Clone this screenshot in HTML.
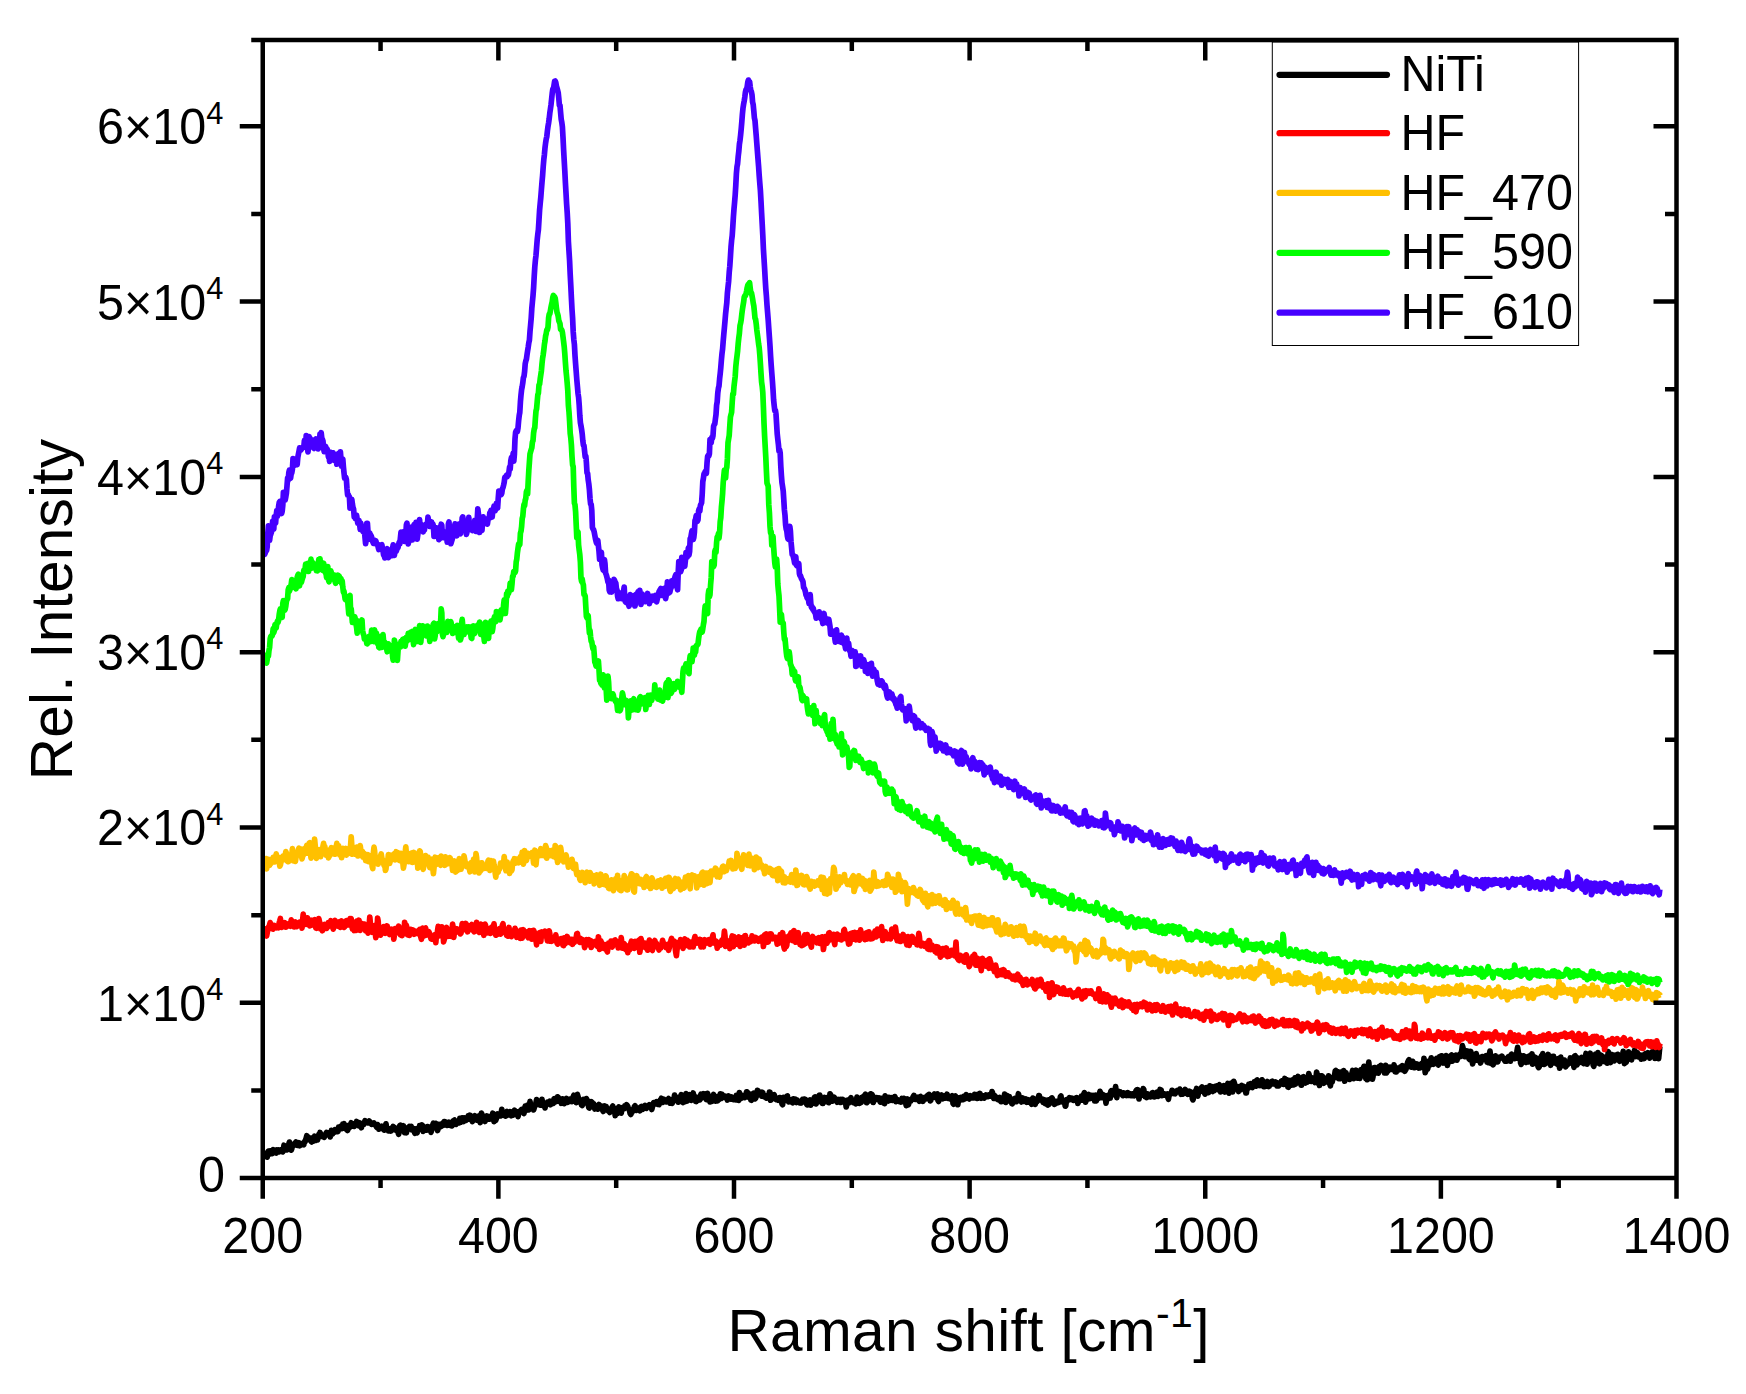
<!DOCTYPE html>
<html lang="en"><head><meta charset="utf-8"><title>Raman spectra</title>
<style>html,body{margin:0;padding:0;background:#fff}body{width:1746px;height:1394px;overflow:hidden}svg{display:block}text{font-family:"Liberation Sans",Arial,Helvetica,sans-serif;fill:#000}</style>
</head><body>
<svg width="1746" height="1394" viewBox="0 0 1746 1394">
<rect x="0" y="0" width="1746" height="1394" fill="#fff"/>
<g fill="none" stroke-width="5.7" stroke-linejoin="round" stroke-linecap="butt">
<polyline stroke="#000000" points="264.2,1155.9 264.8,1154.9 265.4,1155.1 266.0,1155.0 266.6,1155.2 267.2,1157.2 267.8,1151.9 268.4,1151.2 269.0,1154.5 269.6,1153.6 270.2,1150.9 270.8,1151.1 271.4,1153.3 272.0,1153.5 272.6,1151.4 273.2,1149.6 273.8,1150.8 274.4,1150.4 275.0,1151.0 275.6,1152.9 276.2,1153.0 276.8,1150.0 277.4,1151.4 278.0,1151.3 278.6,1149.9 279.2,1151.8 279.8,1151.5 280.4,1150.0 281.0,1149.9 281.6,1149.6 282.2,1149.9 282.8,1151.9 283.4,1149.5 284.0,1145.2 284.6,1147.6 285.2,1148.8 285.8,1148.4 286.4,1150.0 287.0,1149.9 287.6,1147.6 288.2,1147.8 288.8,1144.1 289.4,1142.1 290.0,1147.4 290.6,1149.1 291.2,1150.1 291.8,1148.6 292.4,1145.7 293.0,1144.5 293.6,1145.0 294.2,1144.6 294.8,1145.0 295.4,1142.8 296.0,1142.0 296.6,1143.1 297.2,1143.8 297.8,1145.4 298.4,1143.9 299.0,1142.7 299.6,1145.8 300.2,1145.1 300.8,1144.2 301.4,1143.7 302.0,1143.6 302.6,1144.6 303.2,1144.3 303.8,1144.7 304.4,1141.9 305.0,1142.0 305.6,1139.9 306.2,1138.1 306.8,1135.7 307.4,1138.3 308.0,1139.3 308.6,1137.3 309.2,1139.2 309.8,1139.5 310.4,1140.3 311.0,1141.2 311.6,1141.9 312.2,1138.4 312.8,1137.8 313.4,1141.2 314.0,1138.6 314.6,1136.2 315.2,1138.1 315.8,1140.4 316.4,1139.7 317.0,1139.4 317.6,1139.8 318.2,1136.5 318.8,1134.5 319.4,1135.5 320.0,1132.5 320.6,1134.1 321.2,1136.4 321.8,1136.1 322.4,1135.6 323.0,1136.6 323.6,1135.9 324.2,1137.3 324.8,1135.6 325.4,1134.9 326.0,1133.3 326.6,1132.4 327.2,1134.0 327.8,1133.0 328.4,1133.8 329.0,1135.3 329.6,1134.3 330.2,1136.9 330.8,1134.0 331.4,1130.4 332.0,1133.0 332.6,1133.9 333.2,1131.1 333.8,1132.7 334.4,1131.2 335.0,1129.6 335.6,1130.2 336.2,1130.0 336.8,1131.1 337.4,1131.7 338.0,1131.4 338.6,1127.1 339.2,1127.4 339.8,1127.3 340.4,1126.5 341.0,1126.1 341.6,1128.7 342.2,1128.7 342.8,1124.2 343.4,1124.9 344.0,1123.6 344.6,1125.4 345.2,1128.0 345.8,1128.4 346.4,1129.5 347.0,1127.5 347.6,1130.5 348.2,1128.6 348.8,1125.3 349.4,1127.7 350.0,1126.6 350.6,1124.3 351.2,1122.8 351.8,1126.3 352.4,1125.6 353.0,1123.8 353.6,1125.4 354.2,1126.3 354.8,1125.4 355.4,1124.6 356.0,1124.5 356.6,1121.5 357.2,1122.3 357.8,1122.2 358.4,1123.4 359.0,1125.8 359.6,1122.8 360.2,1125.8 360.8,1126.1 361.4,1127.7 362.0,1124.2 362.6,1123.5 363.2,1124.4 363.8,1124.5 364.4,1122.5 365.0,1120.8 365.6,1121.5 366.2,1122.1 366.8,1122.6 367.4,1123.0 368.0,1122.8 368.6,1121.8 369.2,1121.0 369.8,1122.8 370.4,1122.3 371.0,1122.9 371.6,1124.3 372.2,1123.3 372.8,1123.7 373.4,1123.7 374.0,1123.1 374.6,1124.6 375.2,1124.6 375.8,1125.6 376.4,1126.8 377.0,1127.4 377.6,1124.6 378.2,1126.4 378.8,1129.2 379.4,1128.8 380.0,1126.9 380.6,1126.9 381.2,1127.3 381.8,1126.3 382.4,1127.0 383.0,1127.9 383.6,1129.4 384.2,1130.1 384.8,1129.8 385.4,1126.2 386.0,1123.8 386.6,1128.0 387.2,1129.7 387.8,1128.5 388.4,1130.9 389.0,1130.8 389.6,1129.2 390.2,1128.8 390.8,1131.1 391.4,1129.2 392.0,1129.3 392.6,1128.8 393.2,1126.5 393.8,1128.9 394.4,1129.6 395.0,1127.7 395.6,1129.4 396.2,1130.2 396.8,1129.9 397.4,1129.1 398.0,1132.3 398.6,1134.3 399.2,1131.6 399.8,1125.8 400.4,1125.3 401.0,1129.6 401.6,1128.5 402.2,1130.0 402.8,1130.2 403.4,1125.7 404.0,1130.5 404.6,1132.7 405.2,1129.5 405.8,1130.4 406.4,1132.8 407.0,1128.5 407.6,1128.4 408.2,1127.5 408.8,1127.3 409.4,1126.5 410.0,1128.8 410.6,1126.9 411.2,1126.4 411.8,1129.9 412.4,1129.9 413.0,1128.4 413.6,1128.8 414.2,1131.4 414.8,1133.2 415.4,1130.7 416.0,1128.8 416.6,1133.0 417.2,1132.8 417.8,1129.6 418.4,1129.2 419.0,1129.6 419.6,1125.6 420.2,1127.6 420.8,1127.8 421.4,1126.9 422.0,1125.0 422.6,1125.8 423.2,1131.4 423.8,1129.7 424.4,1128.9 425.0,1129.6 425.6,1128.6 426.2,1129.8 426.8,1130.1 427.4,1126.6 428.0,1127.4 428.6,1129.2 429.2,1128.1 429.8,1128.1 430.4,1127.0 431.0,1132.3 431.6,1130.2 432.2,1125.8 432.8,1125.0 433.4,1123.3 434.0,1124.6 434.6,1127.7 435.2,1126.2 435.8,1123.3 436.4,1125.1 437.0,1128.1 437.6,1130.6 438.2,1128.2 438.8,1124.3 439.4,1124.7 440.0,1126.0 440.6,1126.7 441.2,1126.3 441.8,1123.8 442.4,1125.2 443.0,1125.3 443.6,1122.5 444.2,1121.5 444.8,1121.5 445.4,1124.1 446.0,1124.6 446.6,1123.8 447.2,1125.4 447.8,1125.1 448.4,1124.7 449.0,1122.2 449.6,1122.8 450.2,1125.4 450.8,1123.5 451.4,1124.4 452.0,1125.9 452.6,1123.0 453.2,1121.0 453.8,1120.5 454.4,1120.1 455.0,1121.0 455.6,1123.2 456.2,1124.2 456.8,1121.2 457.4,1122.5 458.0,1121.4 458.6,1121.3 459.2,1122.8 459.8,1118.3 460.4,1120.0 461.0,1122.2 461.6,1118.0 462.2,1117.9 462.8,1121.2 463.4,1121.5 464.0,1119.5 464.6,1117.9 465.2,1119.5 465.8,1120.6 466.4,1120.0 467.0,1118.1 467.6,1118.4 468.2,1116.0 468.8,1117.5 469.4,1119.1 470.0,1115.2 470.6,1115.5 471.2,1119.8 471.8,1119.7 472.4,1121.5 473.0,1119.8 473.6,1119.4 474.2,1116.4 474.8,1115.8 475.4,1116.2 476.0,1119.8 476.6,1120.0 477.2,1117.5 477.8,1117.4 478.4,1116.1 479.0,1116.3 479.6,1120.6 480.2,1122.6 480.8,1119.7 481.4,1113.0 482.0,1114.4 482.6,1118.0 483.2,1118.4 483.8,1119.0 484.4,1120.1 485.0,1121.5 485.6,1120.1 486.2,1116.8 486.8,1116.0 487.4,1119.0 488.0,1117.4 488.6,1116.8 489.2,1119.2 489.8,1119.0 490.4,1117.1 491.0,1116.3 491.6,1117.8 492.2,1116.1 492.8,1113.2 493.4,1117.3 494.0,1121.6 494.6,1119.0 495.2,1119.2 495.8,1120.2 496.4,1118.3 497.0,1117.2 497.6,1114.0 498.2,1114.4 498.8,1115.4 499.4,1114.4 500.0,1113.7 500.6,1115.9 501.2,1112.7 501.8,1109.3 502.4,1112.3 503.0,1115.2 503.6,1115.2 504.2,1115.5 504.8,1114.9 505.4,1116.1 506.0,1115.8 506.6,1115.1 507.2,1111.5 507.8,1113.4 508.4,1114.9 509.0,1113.5 509.6,1113.4 510.2,1111.6 510.8,1114.3 511.4,1115.7 512.0,1112.7 512.6,1113.2 513.2,1115.0 513.8,1111.2 514.4,1110.2 515.0,1111.0 515.6,1111.7 516.2,1113.4 516.8,1111.6 517.4,1113.0 518.0,1116.6 518.6,1114.2 519.2,1112.8 519.8,1112.2 520.4,1111.6 521.0,1110.1 521.6,1109.5 522.2,1111.9 522.8,1110.6 523.4,1111.4 524.0,1113.5 524.6,1108.4 525.2,1106.2 525.8,1110.5 526.4,1110.2 527.0,1107.6 527.6,1105.1 528.2,1106.4 528.8,1109.9 529.4,1108.0 530.0,1101.4 530.6,1105.8 531.2,1106.5 531.8,1105.2 532.4,1107.0 533.0,1108.4 533.6,1109.9 534.2,1107.9 534.8,1106.2 535.4,1105.6 536.0,1102.5 536.6,1099.6 537.2,1102.6 537.8,1103.8 538.4,1103.2 539.0,1101.1 539.6,1102.7 540.2,1105.1 540.8,1105.0 541.4,1103.7 542.0,1099.4 542.6,1105.5 543.2,1105.2 543.8,1103.8 544.4,1105.5 545.0,1107.9 545.6,1104.7 546.2,1104.6 546.8,1103.9 547.4,1102.3 548.0,1102.6 548.6,1102.2 549.2,1101.9 549.8,1101.2 550.4,1104.8 551.0,1102.2 551.6,1101.8 552.2,1101.6 552.8,1101.9 553.4,1103.3 554.0,1098.9 554.6,1098.6 555.2,1101.9 555.8,1100.4 556.4,1101.5 557.0,1100.1 557.6,1096.9 558.2,1097.2 558.8,1099.7 559.4,1101.3 560.0,1100.8 560.6,1101.0 561.2,1103.3 561.8,1101.9 562.4,1098.9 563.0,1100.5 563.6,1101.2 564.2,1103.7 564.8,1101.9 565.4,1102.6 566.0,1101.1 566.6,1098.5 567.2,1101.4 567.8,1102.2 568.4,1100.8 569.0,1101.4 569.6,1101.4 570.2,1101.0 570.8,1099.0 571.4,1099.8 572.0,1101.6 572.6,1100.3 573.2,1096.8 573.8,1095.3 574.4,1097.5 575.0,1099.6 575.6,1099.0 576.2,1102.6 576.8,1100.4 577.4,1094.4 578.0,1096.6 578.6,1098.7 579.2,1102.1 579.8,1102.3 580.4,1100.9 581.0,1100.5 581.6,1105.0 582.2,1105.6 582.8,1101.4 583.4,1099.5 584.0,1101.6 584.6,1102.9 585.2,1102.1 585.8,1101.2 586.4,1098.6 587.0,1099.6 587.6,1102.4 588.2,1104.9 588.8,1107.5 589.4,1108.0 590.0,1106.1 590.6,1102.9 591.2,1101.6 591.8,1102.1 592.4,1102.6 593.0,1104.8 593.6,1103.8 594.2,1105.9 594.8,1109.0 595.4,1105.4 596.0,1108.7 596.6,1108.1 597.2,1106.1 597.8,1109.1 598.4,1105.9 599.0,1104.5 599.6,1106.0 600.2,1106.5 600.8,1106.0 601.4,1106.1 602.0,1107.3 602.6,1110.1 603.2,1111.5 603.8,1107.2 604.4,1105.9 605.0,1109.0 605.6,1108.7 606.2,1106.6 606.8,1109.0 607.4,1108.6 608.0,1110.5 608.6,1111.3 609.2,1111.3 609.8,1112.5 610.4,1111.1 611.0,1109.4 611.6,1110.4 612.2,1106.8 612.8,1106.1 613.4,1110.3 614.0,1108.2 614.6,1109.7 615.2,1115.6 615.8,1112.4 616.4,1112.8 617.0,1113.7 617.6,1113.2 618.2,1108.3 618.8,1106.9 619.4,1108.5 620.0,1110.2 620.6,1112.9 621.2,1113.1 621.8,1110.0 622.4,1109.2 623.0,1107.4 623.6,1108.5 624.2,1108.6 624.8,1105.8 625.4,1106.8 626.0,1106.8 626.6,1104.7 627.2,1105.5 627.8,1106.5 628.4,1108.5 629.0,1108.9 629.6,1111.0 630.2,1113.5 630.8,1114.4 631.4,1113.0 632.0,1112.3 632.6,1110.7 633.2,1110.6 633.8,1109.1 634.4,1106.4 635.0,1105.8 635.6,1108.2 636.2,1110.4 636.8,1108.6 637.4,1108.1 638.0,1110.0 638.6,1109.9 639.2,1108.7 639.8,1110.8 640.4,1109.4 641.0,1106.7 641.6,1106.5 642.2,1108.9 642.8,1109.2 643.4,1108.3 644.0,1107.3 644.6,1107.3 645.2,1105.4 645.8,1106.3 646.4,1108.4 647.0,1106.9 647.6,1106.0 648.2,1106.7 648.8,1106.1 649.4,1104.8 650.0,1105.7 650.6,1106.4 651.2,1105.9 651.8,1109.5 652.4,1106.8 653.0,1103.9 653.6,1102.6 654.2,1103.3 654.8,1103.0 655.4,1103.6 656.0,1103.9 656.6,1101.7 657.2,1103.1 657.8,1104.4 658.4,1104.1 659.0,1104.6 659.6,1102.5 660.2,1100.0 660.8,1099.9 661.4,1098.3 662.0,1098.8 662.6,1102.4 663.2,1101.7 663.8,1099.3 664.4,1100.8 665.0,1100.9 665.6,1101.0 666.2,1101.8 666.8,1101.4 667.4,1100.7 668.0,1099.3 668.6,1098.6 669.2,1101.5 669.8,1103.0 670.4,1100.0 671.0,1099.9 671.6,1101.7 672.2,1103.3 672.8,1101.7 673.4,1101.0 674.0,1098.6 674.6,1095.1 675.2,1096.9 675.8,1098.1 676.4,1097.4 677.0,1097.8 677.6,1100.0 678.2,1102.2 678.8,1098.9 679.4,1097.1 680.0,1097.3 680.6,1096.2 681.2,1094.7 681.8,1095.2 682.4,1101.9 683.0,1102.5 683.6,1100.2 684.2,1098.8 684.8,1101.8 685.4,1099.5 686.0,1093.5 686.6,1098.9 687.2,1101.1 687.8,1100.1 688.4,1099.3 689.0,1095.9 689.6,1094.8 690.2,1096.6 690.8,1098.5 691.4,1100.2 692.0,1097.1 692.6,1096.1 693.2,1093.0 693.8,1095.7 694.4,1098.7 695.0,1098.7 695.6,1101.4 696.2,1101.5 696.8,1097.4 697.4,1099.2 698.0,1100.2 698.6,1100.2 699.2,1099.4 699.8,1099.8 700.4,1096.0 701.0,1094.1 701.6,1098.3 702.2,1097.0 702.8,1095.1 703.4,1093.8 704.0,1095.4 704.6,1096.2 705.2,1093.9 705.8,1095.2 706.4,1099.6 707.0,1097.6 707.6,1093.4 708.2,1095.6 708.8,1098.8 709.4,1097.6 710.0,1102.0 710.6,1101.2 711.2,1098.7 711.8,1099.8 712.4,1101.2 713.0,1096.6 713.6,1094.4 714.2,1096.1 714.8,1096.9 715.4,1101.2 716.0,1098.9 716.6,1096.8 717.2,1099.5 717.8,1100.7 718.4,1099.3 719.0,1099.6 719.6,1098.6 720.2,1093.8 720.8,1097.6 721.4,1098.3 722.0,1094.4 722.6,1095.1 723.2,1096.5 723.8,1096.9 724.4,1096.1 725.0,1097.6 725.6,1097.5 726.2,1096.4 726.8,1097.5 727.4,1100.0 728.0,1098.4 728.6,1096.0 729.2,1097.5 729.8,1096.9 730.4,1098.8 731.0,1099.1 731.6,1096.9 732.2,1097.4 732.8,1098.2 733.4,1099.6 734.0,1098.4 734.6,1097.5 735.2,1099.2 735.8,1099.8 736.4,1095.4 737.0,1096.6 737.6,1096.1 738.2,1097.5 738.8,1100.4 739.4,1092.6 740.0,1094.6 740.6,1098.8 741.2,1095.7 741.8,1098.0 742.4,1096.7 743.0,1095.8 743.6,1096.4 744.2,1095.8 744.8,1097.6 745.4,1096.4 746.0,1094.1 746.6,1091.8 747.2,1092.0 747.8,1094.4 748.4,1096.3 749.0,1097.3 749.6,1094.9 750.2,1094.2 750.8,1099.9 751.4,1100.2 752.0,1095.8 752.6,1093.8 753.2,1094.8 753.8,1093.2 754.4,1096.7 755.0,1098.9 755.6,1098.2 756.2,1096.7 756.8,1093.1 757.4,1090.4 758.0,1090.6 758.6,1093.7 759.2,1093.8 759.8,1094.7 760.4,1094.7 761.0,1094.5 761.6,1096.1 762.2,1092.2 762.8,1092.8 763.4,1095.3 764.0,1096.7 764.6,1097.0 765.2,1096.3 765.8,1097.2 766.4,1098.1 767.0,1096.6 767.6,1095.4 768.2,1096.9 768.8,1096.4 769.4,1092.1 770.0,1092.3 770.6,1100.2 771.2,1099.4 771.8,1096.4 772.4,1096.3 773.0,1094.9 773.6,1095.3 774.2,1094.8 774.8,1096.6 775.4,1099.1 776.0,1099.5 776.6,1099.7 777.2,1099.4 777.8,1098.8 778.4,1100.2 779.0,1099.6 779.6,1097.6 780.2,1098.3 780.8,1099.1 781.4,1099.9 782.0,1103.8 782.6,1104.7 783.2,1097.3 783.8,1098.0 784.4,1100.6 785.0,1099.7 785.6,1098.0 786.2,1097.9 786.8,1096.3 787.4,1095.9 788.0,1100.4 788.6,1101.8 789.2,1099.2 789.8,1100.2 790.4,1101.5 791.0,1101.2 791.6,1101.7 792.2,1102.5 792.8,1102.7 793.4,1098.9 794.0,1099.8 794.6,1100.5 795.2,1099.2 795.8,1101.5 796.4,1102.4 797.0,1100.1 797.6,1101.4 798.2,1101.5 798.8,1101.9 799.4,1102.9 800.0,1102.8 800.6,1101.9 801.2,1103.0 801.8,1100.4 802.4,1099.6 803.0,1100.4 803.6,1099.2 804.2,1099.1 804.8,1100.3 805.4,1099.4 806.0,1101.7 806.6,1104.1 807.2,1104.8 807.8,1104.1 808.4,1103.5 809.0,1104.3 809.6,1101.9 810.2,1099.9 810.8,1105.1 811.4,1101.7 812.0,1100.9 812.6,1101.2 813.2,1101.9 813.8,1103.1 814.4,1097.5 815.0,1097.0 815.6,1102.4 816.2,1103.9 816.8,1099.8 817.4,1097.9 818.0,1099.8 818.6,1096.9 819.2,1095.3 819.8,1095.1 820.4,1097.5 821.0,1098.9 821.6,1102.4 822.2,1103.5 822.8,1103.5 823.4,1101.0 824.0,1098.5 824.6,1097.6 825.2,1100.6 825.8,1101.4 826.4,1099.9 827.0,1098.6 827.6,1097.5 828.2,1100.5 828.8,1102.7 829.4,1101.6 830.0,1093.8 830.6,1094.7 831.2,1098.2 831.8,1098.7 832.4,1101.2 833.0,1099.7 833.6,1098.0 834.2,1097.2 834.8,1098.4 835.4,1099.0 836.0,1099.5 836.6,1101.1 837.2,1102.3 837.8,1100.4 838.4,1099.4 839.0,1100.9 839.6,1101.4 840.2,1102.3 840.8,1099.5 841.4,1102.3 842.0,1101.1 842.6,1099.5 843.2,1101.0 843.8,1101.7 844.4,1100.7 845.0,1100.6 845.6,1102.5 846.2,1107.0 846.8,1104.7 847.4,1100.0 848.0,1101.3 848.6,1103.1 849.2,1101.6 849.8,1100.8 850.4,1098.8 851.0,1097.7 851.6,1100.7 852.2,1100.0 852.8,1100.1 853.4,1102.6 854.0,1102.2 854.6,1102.4 855.2,1103.5 855.8,1103.7 856.4,1100.5 857.0,1097.1 857.6,1099.9 858.2,1098.2 858.8,1098.7 859.4,1103.4 860.0,1102.4 860.6,1102.7 861.2,1102.3 861.8,1097.4 862.4,1098.2 863.0,1098.9 863.6,1096.4 864.2,1097.3 864.8,1095.2 865.4,1094.2 866.0,1096.7 866.6,1102.7 867.2,1102.2 867.8,1097.4 868.4,1095.4 869.0,1098.2 869.6,1100.8 870.2,1096.2 870.8,1093.8 871.4,1096.1 872.0,1094.5 872.6,1096.2 873.2,1102.5 873.8,1101.2 874.4,1099.6 875.0,1098.3 875.6,1097.7 876.2,1098.4 876.8,1097.8 877.4,1098.8 878.0,1099.5 878.6,1099.4 879.2,1097.9 879.8,1101.2 880.4,1102.1 881.0,1100.7 881.6,1101.8 882.2,1099.9 882.8,1098.2 883.4,1099.6 884.0,1103.4 884.6,1103.6 885.2,1095.9 885.8,1096.9 886.4,1098.5 887.0,1099.6 887.6,1100.6 888.2,1101.0 888.8,1097.4 889.4,1098.5 890.0,1100.4 890.6,1098.8 891.2,1097.6 891.8,1098.0 892.4,1100.4 893.0,1099.9 893.6,1099.4 894.2,1099.6 894.8,1096.6 895.4,1098.1 896.0,1101.7 896.6,1099.8 897.2,1100.6 897.8,1099.8 898.4,1100.2 899.0,1100.7 899.6,1101.6 900.2,1101.3 900.8,1101.9 901.4,1100.7 902.0,1098.4 902.6,1101.5 903.2,1100.9 903.8,1098.3 904.4,1101.5 905.0,1101.8 905.6,1102.0 906.2,1105.6 906.8,1101.5 907.4,1099.0 908.0,1105.0 908.6,1104.4 909.2,1100.5 909.8,1100.1 910.4,1100.6 911.0,1100.8 911.6,1099.1 912.2,1099.4 912.8,1097.5 913.4,1096.3 914.0,1095.4 914.6,1097.3 915.2,1099.4 915.8,1097.3 916.4,1097.5 917.0,1099.4 917.6,1098.3 918.2,1097.2 918.8,1100.1 919.4,1101.3 920.0,1097.1 920.6,1096.6 921.2,1097.5 921.8,1099.9 922.4,1098.9 923.0,1101.3 923.6,1100.1 924.2,1099.5 924.8,1097.4 925.4,1098.0 926.0,1097.3 926.6,1098.7 927.2,1098.1 927.8,1095.1 928.4,1094.9 929.0,1094.4 929.6,1094.7 930.2,1100.8 930.8,1100.3 931.4,1096.7 932.0,1096.5 932.6,1096.4 933.2,1097.1 933.8,1095.2 934.4,1094.0 935.0,1097.0 935.6,1097.7 936.2,1096.9 936.8,1095.1 937.4,1093.9 938.0,1100.5 938.6,1101.4 939.2,1098.3 939.8,1097.9 940.4,1098.6 941.0,1096.0 941.6,1094.9 942.2,1097.9 942.8,1098.7 943.4,1098.1 944.0,1097.7 944.6,1096.1 945.2,1098.0 945.8,1096.9 946.4,1096.4 947.0,1094.2 947.6,1098.3 948.2,1097.7 948.8,1096.2 949.4,1097.1 950.0,1098.9 950.6,1098.2 951.2,1097.9 951.8,1097.2 952.4,1095.8 953.0,1103.3 953.6,1104.2 954.2,1099.8 954.8,1096.5 955.4,1095.9 956.0,1097.5 956.6,1097.7 957.2,1102.4 957.8,1104.7 958.4,1100.9 959.0,1097.8 959.6,1098.7 960.2,1098.9 960.8,1097.4 961.4,1098.6 962.0,1099.7 962.6,1098.9 963.2,1099.4 963.8,1096.4 964.4,1098.2 965.0,1098.8 965.6,1096.1 966.2,1094.6 966.8,1096.4 967.4,1097.0 968.0,1098.1 968.6,1098.5 969.2,1098.9 969.8,1097.4 970.4,1095.7 971.0,1098.0 971.6,1097.0 972.2,1096.3 972.8,1098.0 973.4,1098.0 974.0,1097.9 974.6,1094.4 975.2,1096.5 975.8,1096.3 976.4,1096.2 977.0,1098.4 977.6,1094.3 978.2,1094.2 978.8,1098.0 979.4,1096.1 980.0,1093.5 980.6,1097.3 981.2,1098.2 981.8,1096.3 982.4,1097.6 983.0,1095.8 983.6,1096.7 984.2,1098.1 984.8,1096.1 985.4,1095.9 986.0,1095.0 986.6,1095.5 987.2,1096.4 987.8,1095.6 988.4,1096.5 989.0,1095.1 989.6,1094.7 990.2,1094.9 990.8,1096.0 991.4,1095.6 992.0,1091.5 992.6,1093.1 993.2,1096.9 993.8,1098.4 994.4,1096.5 995.0,1095.8 995.6,1098.3 996.2,1097.2 996.8,1097.9 997.4,1099.3 998.0,1099.6 998.6,1098.2 999.2,1098.3 999.8,1097.6 1000.4,1100.8 1001.0,1101.7 1001.6,1101.7 1002.2,1099.2 1002.8,1098.6 1003.4,1100.3 1004.0,1098.6 1004.6,1094.1 1005.2,1099.3 1005.8,1102.4 1006.4,1097.3 1007.0,1095.4 1007.6,1098.3 1008.2,1098.6 1008.8,1096.6 1009.4,1096.6 1010.0,1099.2 1010.6,1101.5 1011.2,1101.2 1011.8,1103.5 1012.4,1103.7 1013.0,1099.4 1013.6,1100.0 1014.2,1099.4 1014.8,1098.4 1015.4,1099.7 1016.0,1100.6 1016.6,1101.6 1017.2,1101.0 1017.8,1098.0 1018.4,1093.7 1019.0,1096.0 1019.6,1099.0 1020.2,1100.2 1020.8,1100.9 1021.4,1101.9 1022.0,1100.4 1022.6,1098.0 1023.2,1099.6 1023.8,1101.3 1024.4,1100.6 1025.0,1099.6 1025.6,1099.1 1026.2,1100.7 1026.8,1102.2 1027.4,1101.6 1028.0,1099.7 1028.6,1102.2 1029.2,1101.2 1029.8,1100.2 1030.4,1101.6 1031.0,1103.1 1031.6,1104.2 1032.2,1099.1 1032.8,1098.1 1033.4,1098.2 1034.0,1100.9 1034.6,1102.6 1035.2,1104.3 1035.8,1101.8 1036.4,1099.6 1037.0,1101.8 1037.6,1100.3 1038.2,1098.5 1038.8,1095.6 1039.4,1095.9 1040.0,1099.3 1040.6,1099.9 1041.2,1100.0 1041.8,1099.2 1042.4,1099.2 1043.0,1102.3 1043.6,1101.5 1044.2,1099.8 1044.8,1100.2 1045.4,1103.7 1046.0,1102.4 1046.6,1100.4 1047.2,1104.5 1047.8,1105.0 1048.4,1099.8 1049.0,1104.3 1049.6,1102.5 1050.2,1101.8 1050.8,1101.6 1051.4,1098.2 1052.0,1097.9 1052.6,1099.4 1053.2,1103.0 1053.8,1102.7 1054.4,1104.4 1055.0,1101.3 1055.6,1103.6 1056.2,1103.3 1056.8,1101.3 1057.4,1101.9 1058.0,1101.8 1058.6,1102.5 1059.2,1102.2 1059.8,1101.1 1060.4,1096.7 1061.0,1096.1 1061.6,1101.6 1062.2,1101.8 1062.8,1100.3 1063.4,1101.7 1064.0,1101.8 1064.6,1101.7 1065.2,1106.2 1065.8,1105.7 1066.4,1099.6 1067.0,1101.3 1067.6,1100.2 1068.2,1099.2 1068.8,1099.2 1069.4,1097.7 1070.0,1097.9 1070.6,1098.9 1071.2,1099.6 1071.8,1098.2 1072.4,1099.0 1073.0,1099.4 1073.6,1100.3 1074.2,1100.1 1074.8,1098.4 1075.4,1098.5 1076.0,1099.1 1076.6,1097.7 1077.2,1098.4 1077.8,1103.4 1078.4,1101.9 1079.0,1101.0 1079.6,1100.8 1080.2,1098.5 1080.8,1099.0 1081.4,1096.2 1082.0,1098.3 1082.6,1100.0 1083.2,1097.4 1083.8,1094.1 1084.4,1092.7 1085.0,1098.3 1085.6,1102.2 1086.2,1099.6 1086.8,1097.9 1087.4,1098.9 1088.0,1095.2 1088.6,1094.5 1089.2,1098.8 1089.8,1098.3 1090.4,1095.3 1091.0,1096.3 1091.6,1095.8 1092.2,1097.2 1092.8,1098.2 1093.4,1095.5 1094.0,1097.5 1094.6,1100.9 1095.2,1096.6 1095.8,1095.1 1096.4,1100.8 1097.0,1098.6 1097.6,1096.5 1098.2,1098.6 1098.8,1095.2 1099.4,1093.9 1100.0,1091.3 1100.6,1093.3 1101.2,1097.6 1101.8,1095.9 1102.4,1095.2 1103.0,1094.8 1103.6,1097.9 1104.2,1098.4 1104.8,1095.6 1105.4,1098.2 1106.0,1103.2 1106.6,1098.9 1107.2,1098.7 1107.8,1096.1 1108.4,1095.3 1109.0,1098.4 1109.6,1098.0 1110.2,1098.0 1110.8,1091.5 1111.4,1090.7 1112.0,1094.5 1112.6,1094.7 1113.2,1090.9 1113.8,1091.7 1114.4,1094.0 1115.0,1090.2 1115.6,1086.6 1116.2,1093.4 1116.8,1097.6 1117.4,1092.2 1118.0,1091.1 1118.6,1091.6 1119.2,1093.0 1119.8,1092.5 1120.4,1092.0 1121.0,1093.2 1121.6,1093.2 1122.2,1094.8 1122.8,1095.6 1123.4,1092.8 1124.0,1094.8 1124.6,1094.9 1125.2,1093.3 1125.8,1093.3 1126.4,1095.5 1127.0,1093.9 1127.6,1092.6 1128.2,1094.5 1128.8,1095.3 1129.4,1094.8 1130.0,1093.8 1130.6,1095.7 1131.2,1095.7 1131.8,1094.0 1132.4,1093.9 1133.0,1093.9 1133.6,1095.1 1134.2,1095.7 1134.8,1093.9 1135.4,1093.9 1136.0,1090.7 1136.6,1090.1 1137.2,1092.1 1137.8,1089.7 1138.4,1094.9 1139.0,1099.0 1139.6,1094.7 1140.2,1093.2 1140.8,1094.5 1141.4,1095.2 1142.0,1095.0 1142.6,1092.3 1143.2,1088.6 1143.8,1089.5 1144.4,1094.8 1145.0,1096.6 1145.6,1094.4 1146.2,1095.1 1146.8,1097.5 1147.4,1093.9 1148.0,1095.2 1148.6,1095.8 1149.2,1095.2 1149.8,1094.6 1150.4,1096.9 1151.0,1095.5 1151.6,1095.4 1152.2,1092.7 1152.8,1092.6 1153.4,1094.6 1154.0,1097.0 1154.6,1097.0 1155.2,1095.0 1155.8,1094.2 1156.4,1093.7 1157.0,1092.3 1157.6,1094.4 1158.2,1096.3 1158.8,1094.7 1159.4,1092.4 1160.0,1089.5 1160.6,1089.8 1161.2,1090.3 1161.8,1095.6 1162.4,1093.5 1163.0,1093.3 1163.6,1094.5 1164.2,1095.0 1164.8,1094.1 1165.4,1095.2 1166.0,1095.2 1166.6,1094.5 1167.2,1094.1 1167.8,1097.4 1168.4,1099.2 1169.0,1095.9 1169.6,1094.9 1170.2,1094.0 1170.8,1092.9 1171.4,1093.1 1172.0,1090.3 1172.6,1090.8 1173.2,1093.3 1173.8,1092.7 1174.4,1093.7 1175.0,1093.8 1175.6,1093.1 1176.2,1091.8 1176.8,1090.7 1177.4,1090.4 1178.0,1091.2 1178.6,1091.0 1179.2,1091.1 1179.8,1089.1 1180.4,1091.0 1181.0,1094.3 1181.6,1091.4 1182.2,1092.7 1182.8,1094.1 1183.4,1091.9 1184.0,1093.1 1184.6,1091.4 1185.2,1089.4 1185.8,1091.3 1186.4,1093.4 1187.0,1092.1 1187.6,1094.3 1188.2,1093.2 1188.8,1093.8 1189.4,1091.2 1190.0,1091.6 1190.6,1093.1 1191.2,1092.1 1191.8,1093.5 1192.4,1098.7 1193.0,1099.9 1193.6,1097.4 1194.2,1096.0 1194.8,1093.2 1195.4,1091.1 1196.0,1091.6 1196.6,1088.5 1197.2,1092.1 1197.8,1096.2 1198.4,1093.0 1199.0,1090.8 1199.6,1091.3 1200.2,1091.3 1200.8,1091.4 1201.4,1087.7 1202.0,1087.0 1202.6,1088.8 1203.2,1088.0 1203.8,1090.4 1204.4,1092.8 1205.0,1094.1 1205.6,1092.3 1206.2,1087.5 1206.8,1091.6 1207.4,1092.5 1208.0,1090.5 1208.6,1092.6 1209.2,1089.1 1209.8,1085.8 1210.4,1089.8 1211.0,1089.8 1211.6,1086.6 1212.2,1090.6 1212.8,1091.5 1213.4,1088.3 1214.0,1090.8 1214.6,1089.1 1215.2,1086.4 1215.8,1086.5 1216.4,1086.1 1217.0,1087.3 1217.6,1089.5 1218.2,1088.8 1218.8,1085.5 1219.4,1084.8 1220.0,1087.5 1220.6,1092.0 1221.2,1091.1 1221.8,1087.1 1222.4,1087.8 1223.0,1086.3 1223.6,1085.8 1224.2,1088.4 1224.8,1092.0 1225.4,1091.7 1226.0,1091.7 1226.6,1091.7 1227.2,1085.6 1227.8,1083.5 1228.4,1090.5 1229.0,1093.2 1229.6,1090.7 1230.2,1087.1 1230.8,1087.2 1231.4,1083.2 1232.0,1085.3 1232.6,1092.0 1233.2,1089.6 1233.8,1081.3 1234.4,1083.1 1235.0,1086.9 1235.6,1087.3 1236.2,1088.8 1236.8,1087.3 1237.4,1086.5 1238.0,1088.0 1238.6,1091.5 1239.2,1090.4 1239.8,1090.0 1240.4,1090.0 1241.0,1086.1 1241.6,1085.5 1242.2,1086.9 1242.8,1088.9 1243.4,1088.2 1244.0,1086.5 1244.6,1088.8 1245.2,1088.4 1245.8,1093.0 1246.4,1092.9 1247.0,1087.2 1247.6,1087.4 1248.2,1088.4 1248.8,1084.3 1249.4,1084.1 1250.0,1084.9 1250.6,1083.6 1251.2,1084.7 1251.8,1086.9 1252.4,1087.5 1253.0,1086.1 1253.6,1084.0 1254.2,1082.0 1254.8,1082.9 1255.4,1084.3 1256.0,1086.2 1256.6,1080.5 1257.2,1080.0 1257.8,1081.5 1258.4,1081.2 1259.0,1085.3 1259.6,1083.3 1260.2,1085.6 1260.8,1084.2 1261.4,1082.5 1262.0,1079.9 1262.6,1080.6 1263.2,1085.9 1263.8,1086.7 1264.4,1086.6 1265.0,1086.6 1265.6,1084.2 1266.2,1083.6 1266.8,1082.9 1267.4,1081.5 1268.0,1083.7 1268.6,1086.5 1269.2,1086.3 1269.8,1083.0 1270.4,1083.3 1271.0,1084.0 1271.6,1081.5 1272.2,1081.2 1272.8,1084.0 1273.4,1084.0 1274.0,1082.1 1274.6,1082.2 1275.2,1083.4 1275.8,1082.0 1276.4,1084.7 1277.0,1085.9 1277.6,1085.0 1278.2,1085.3 1278.8,1085.8 1279.4,1082.8 1280.0,1084.1 1280.6,1083.6 1281.2,1081.5 1281.8,1083.4 1282.4,1080.5 1283.0,1080.5 1283.6,1084.5 1284.2,1082.3 1284.8,1078.5 1285.4,1083.6 1286.0,1084.3 1286.6,1080.7 1287.2,1080.1 1287.8,1086.9 1288.4,1087.2 1289.0,1085.9 1289.6,1081.6 1290.2,1080.5 1290.8,1084.3 1291.4,1083.9 1292.0,1084.9 1292.6,1081.8 1293.2,1079.7 1293.8,1085.0 1294.4,1081.7 1295.0,1077.8 1295.6,1084.2 1296.2,1082.4 1296.8,1080.8 1297.4,1078.3 1298.0,1076.5 1298.6,1079.5 1299.2,1079.4 1299.8,1078.2 1300.4,1080.9 1301.0,1085.2 1301.6,1085.1 1302.2,1079.9 1302.8,1077.0 1303.4,1076.7 1304.0,1080.7 1304.6,1082.9 1305.2,1083.0 1305.8,1079.5 1306.4,1079.0 1307.0,1082.3 1307.6,1079.6 1308.2,1076.9 1308.8,1073.6 1309.4,1076.0 1310.0,1080.4 1310.6,1079.3 1311.2,1081.4 1311.8,1079.1 1312.4,1078.0 1313.0,1080.7 1313.6,1079.7 1314.2,1081.4 1314.8,1082.4 1315.4,1078.9 1316.0,1077.8 1316.6,1072.0 1317.2,1074.3 1317.8,1083.1 1318.4,1081.2 1319.0,1077.7 1319.6,1085.5 1320.2,1080.9 1320.8,1075.8 1321.4,1075.9 1322.0,1075.9 1322.6,1076.5 1323.2,1082.3 1323.8,1083.2 1324.4,1079.5 1325.0,1079.8 1325.6,1079.2 1326.2,1078.3 1326.8,1079.5 1327.4,1081.8 1328.0,1079.9 1328.6,1075.8 1329.2,1079.4 1329.8,1083.9 1330.4,1085.8 1331.0,1081.8 1331.6,1078.7 1332.2,1081.9 1332.8,1078.8 1333.4,1076.9 1334.0,1076.3 1334.6,1075.1 1335.2,1071.1 1335.8,1070.5 1336.4,1077.4 1337.0,1076.4 1337.6,1071.5 1338.2,1073.5 1338.8,1078.6 1339.4,1078.2 1340.0,1077.0 1340.6,1078.6 1341.2,1074.4 1341.8,1071.8 1342.4,1076.4 1343.0,1077.4 1343.6,1070.6 1344.2,1072.1 1344.8,1081.2 1345.4,1075.9 1346.0,1072.8 1346.6,1079.0 1347.2,1076.2 1347.8,1075.2 1348.4,1076.5 1349.0,1078.2 1349.6,1079.4 1350.2,1079.0 1350.8,1076.9 1351.4,1075.8 1352.0,1073.2 1352.6,1070.5 1353.2,1076.8 1353.8,1078.5 1354.4,1077.6 1355.0,1075.2 1355.6,1073.9 1356.2,1070.2 1356.8,1075.5 1357.4,1078.0 1358.0,1072.8 1358.6,1071.3 1359.2,1075.8 1359.8,1078.4 1360.4,1074.9 1361.0,1069.6 1361.6,1071.2 1362.2,1073.0 1362.8,1075.3 1363.4,1068.5 1364.0,1066.3 1364.6,1072.2 1365.2,1074.3 1365.8,1078.7 1366.4,1078.5 1367.0,1079.7 1367.6,1079.5 1368.2,1066.5 1368.8,1062.1 1369.4,1069.8 1370.0,1072.8 1370.6,1071.7 1371.2,1074.2 1371.8,1074.1 1372.4,1079.2 1373.0,1076.8 1373.6,1071.0 1374.2,1067.7 1374.8,1067.7 1375.4,1067.7 1376.0,1072.8 1376.6,1070.8 1377.2,1069.4 1377.8,1071.8 1378.4,1073.1 1379.0,1066.7 1379.6,1070.5 1380.2,1070.0 1380.8,1065.4 1381.4,1069.6 1382.0,1068.8 1382.6,1066.6 1383.2,1068.1 1383.8,1070.2 1384.4,1072.9 1385.0,1069.0 1385.6,1065.4 1386.2,1073.0 1386.8,1072.5 1387.4,1071.0 1388.0,1070.8 1388.6,1067.2 1389.2,1070.0 1389.8,1069.1 1390.4,1067.3 1391.0,1068.0 1391.6,1068.6 1392.2,1068.5 1392.8,1069.6 1393.4,1068.9 1394.0,1064.8 1394.6,1068.2 1395.2,1071.7 1395.8,1071.9 1396.4,1072.0 1397.0,1070.1 1397.6,1068.1 1398.2,1068.6 1398.8,1070.0 1399.4,1069.3 1400.0,1069.4 1400.6,1066.9 1401.2,1066.9 1401.8,1067.6 1402.4,1065.7 1403.0,1070.1 1403.6,1068.4 1404.2,1068.3 1404.8,1071.3 1405.4,1070.1 1406.0,1069.2 1406.6,1065.4 1407.2,1064.2 1407.8,1061.9 1408.4,1060.7 1409.0,1059.7 1409.6,1062.8 1410.2,1065.2 1410.8,1067.0 1411.4,1067.1 1412.0,1063.8 1412.6,1061.3 1413.2,1062.5 1413.8,1065.4 1414.4,1067.7 1415.0,1067.2 1415.6,1064.9 1416.2,1065.6 1416.8,1063.9 1417.4,1064.6 1418.0,1067.3 1418.6,1067.9 1419.2,1065.1 1419.8,1065.6 1420.4,1067.8 1421.0,1065.2 1421.6,1063.5 1422.2,1063.1 1422.8,1063.4 1423.4,1066.3 1424.0,1058.3 1424.6,1065.4 1425.2,1072.7 1425.8,1070.8 1426.4,1068.5 1427.0,1063.6 1427.6,1069.2 1428.2,1066.7 1428.8,1061.2 1429.4,1060.8 1430.0,1064.2 1430.6,1064.6 1431.2,1057.8 1431.8,1060.2 1432.4,1060.1 1433.0,1062.7 1433.6,1064.2 1434.2,1059.9 1434.8,1062.7 1435.4,1061.0 1436.0,1060.2 1436.6,1058.5 1437.2,1060.8 1437.8,1063.0 1438.4,1065.0 1439.0,1063.5 1439.6,1056.5 1440.2,1057.2 1440.8,1059.0 1441.4,1055.8 1442.0,1056.0 1442.6,1059.8 1443.2,1063.0 1443.8,1060.5 1444.4,1058.1 1445.0,1058.9 1445.6,1063.3 1446.2,1055.6 1446.8,1060.3 1447.4,1065.5 1448.0,1060.3 1448.6,1061.5 1449.2,1058.5 1449.8,1060.4 1450.4,1061.4 1451.0,1055.6 1451.6,1055.0 1452.2,1061.2 1452.8,1058.8 1453.4,1056.7 1454.0,1059.3 1454.6,1059.9 1455.2,1059.8 1455.8,1055.0 1456.4,1057.0 1457.0,1060.2 1457.6,1057.4 1458.2,1056.4 1458.8,1055.6 1459.4,1054.5 1460.0,1054.1 1460.6,1056.6 1461.2,1053.2 1461.8,1050.4 1462.4,1045.7 1463.0,1047.7 1463.6,1054.6 1464.2,1054.8 1464.8,1056.7 1465.4,1054.1 1466.0,1050.7 1466.6,1051.9 1467.2,1052.9 1467.8,1051.1 1468.4,1051.7 1469.0,1058.8 1469.6,1059.5 1470.2,1054.1 1470.8,1051.5 1471.4,1054.4 1472.0,1059.3 1472.6,1063.9 1473.2,1061.3 1473.8,1059.9 1474.4,1059.6 1475.0,1060.5 1475.6,1058.2 1476.2,1053.5 1476.8,1058.9 1477.4,1060.1 1478.0,1056.7 1478.6,1059.3 1479.2,1058.7 1479.8,1059.8 1480.4,1063.0 1481.0,1061.7 1481.6,1058.6 1482.2,1056.6 1482.8,1058.0 1483.4,1059.4 1484.0,1059.4 1484.6,1058.7 1485.2,1056.3 1485.8,1055.9 1486.4,1055.6 1487.0,1062.1 1487.6,1060.9 1488.2,1062.5 1488.8,1060.2 1489.4,1055.1 1490.0,1051.0 1490.6,1057.8 1491.2,1063.5 1491.8,1060.4 1492.4,1064.2 1493.0,1064.8 1493.6,1062.0 1494.2,1063.3 1494.8,1061.3 1495.4,1055.9 1496.0,1058.0 1496.6,1060.9 1497.2,1060.1 1497.8,1061.9 1498.4,1059.6 1499.0,1057.3 1499.6,1057.1 1500.2,1058.1 1500.8,1058.0 1501.4,1058.0 1502.0,1056.1 1502.6,1058.2 1503.2,1058.4 1503.8,1059.0 1504.4,1060.1 1505.0,1061.1 1505.6,1058.8 1506.2,1059.3 1506.8,1061.1 1507.4,1060.4 1508.0,1057.2 1508.6,1058.7 1509.2,1056.5 1509.8,1058.2 1510.4,1061.2 1511.0,1058.8 1511.6,1054.1 1512.2,1056.9 1512.8,1058.4 1513.4,1057.3 1514.0,1055.8 1514.6,1058.6 1515.2,1056.9 1515.8,1057.3 1516.4,1058.0 1517.0,1051.0 1517.6,1047.4 1518.2,1051.4 1518.8,1057.8 1519.4,1058.5 1520.0,1055.0 1520.6,1063.0 1521.2,1064.4 1521.8,1060.8 1522.4,1060.5 1523.0,1059.3 1523.6,1055.8 1524.2,1058.2 1524.8,1059.8 1525.4,1060.1 1526.0,1062.4 1526.6,1059.2 1527.2,1056.8 1527.8,1057.5 1528.4,1062.0 1529.0,1058.7 1529.6,1055.8 1530.2,1055.9 1530.8,1058.8 1531.4,1054.8 1532.0,1053.9 1532.6,1064.2 1533.2,1063.6 1533.8,1060.0 1534.4,1057.8 1535.0,1057.2 1535.6,1060.8 1536.2,1058.1 1536.8,1058.3 1537.4,1060.3 1538.0,1066.6 1538.6,1067.6 1539.2,1066.8 1539.8,1062.2 1540.4,1060.8 1541.0,1057.1 1541.6,1055.8 1542.2,1060.1 1542.8,1053.6 1543.4,1057.8 1544.0,1064.5 1544.6,1063.2 1545.2,1063.8 1545.8,1058.6 1546.4,1059.8 1547.0,1060.7 1547.6,1057.2 1548.2,1054.5 1548.8,1058.9 1549.4,1057.0 1550.0,1062.3 1550.6,1065.3 1551.2,1059.7 1551.8,1056.6 1552.4,1059.7 1553.0,1059.4 1553.6,1056.4 1554.2,1062.8 1554.8,1062.6 1555.4,1059.2 1556.0,1059.0 1556.6,1063.8 1557.2,1064.1 1557.8,1061.5 1558.4,1058.7 1559.0,1063.1 1559.6,1068.2 1560.2,1061.8 1560.8,1057.2 1561.4,1062.6 1562.0,1065.7 1562.6,1064.8 1563.2,1063.6 1563.8,1062.5 1564.4,1060.1 1565.0,1065.1 1565.6,1066.8 1566.2,1064.2 1566.8,1064.1 1567.4,1064.8 1568.0,1062.1 1568.6,1062.7 1569.2,1063.2 1569.8,1060.6 1570.4,1058.0 1571.0,1059.3 1571.6,1060.1 1572.2,1060.7 1572.8,1058.2 1573.4,1063.2 1574.0,1067.4 1574.6,1056.1 1575.2,1055.8 1575.8,1062.2 1576.4,1059.2 1577.0,1065.0 1577.6,1063.6 1578.2,1058.1 1578.8,1062.8 1579.4,1060.4 1580.0,1059.7 1580.6,1062.0 1581.2,1059.8 1581.8,1057.5 1582.4,1057.8 1583.0,1060.0 1583.6,1063.6 1584.2,1061.9 1584.8,1057.0 1585.4,1057.2 1586.0,1053.5 1586.6,1058.2 1587.2,1064.1 1587.8,1060.8 1588.4,1057.5 1589.0,1058.2 1589.6,1054.5 1590.2,1053.3 1590.8,1057.2 1591.4,1059.6 1592.0,1059.8 1592.6,1061.0 1593.2,1065.0 1593.8,1066.3 1594.4,1061.4 1595.0,1061.9 1595.6,1054.2 1596.2,1056.6 1596.8,1062.9 1597.4,1060.1 1598.0,1052.7 1598.6,1056.8 1599.2,1062.4 1599.8,1063.7 1600.4,1059.9 1601.0,1055.2 1601.6,1055.5 1602.2,1057.1 1602.8,1058.5 1603.4,1060.4 1604.0,1059.2 1604.6,1061.6 1605.2,1057.4 1605.8,1056.9 1606.4,1058.7 1607.0,1063.2 1607.6,1062.2 1608.2,1051.7 1608.8,1052.7 1609.4,1054.3 1610.0,1060.2 1610.6,1062.6 1611.2,1060.1 1611.8,1057.1 1612.4,1054.7 1613.0,1056.8 1613.6,1059.6 1614.2,1060.9 1614.8,1057.7 1615.4,1055.2 1616.0,1057.5 1616.6,1059.2 1617.2,1057.0 1617.8,1054.4 1618.4,1056.5 1619.0,1060.3 1619.6,1061.2 1620.2,1059.6 1620.8,1058.2 1621.4,1056.2 1622.0,1058.7 1622.6,1055.1 1623.2,1051.4 1623.8,1056.9 1624.4,1063.6 1625.0,1060.3 1625.6,1061.1 1626.2,1062.2 1626.8,1060.2 1627.4,1058.8 1628.0,1055.5 1628.6,1051.8 1629.2,1054.3 1629.8,1058.3 1630.4,1054.9 1631.0,1054.4 1631.6,1059.8 1632.2,1056.1 1632.8,1053.7 1633.4,1053.1 1634.0,1052.8 1634.6,1050.2 1635.2,1054.0 1635.8,1056.5 1636.4,1053.1 1637.0,1052.5 1637.6,1053.2 1638.2,1056.9 1638.8,1055.0 1639.4,1056.0 1640.0,1055.0 1640.6,1056.5 1641.2,1059.1 1641.8,1057.8 1642.4,1058.5 1643.0,1055.2 1643.6,1056.1 1644.2,1058.6 1644.8,1057.3 1645.4,1053.6 1646.0,1053.4 1646.6,1055.8 1647.2,1053.7 1647.8,1052.7 1648.4,1056.0 1649.0,1056.4 1649.6,1058.0 1650.2,1056.7 1650.8,1055.0 1651.4,1053.1 1652.0,1051.9 1652.6,1052.6 1653.2,1056.8 1653.8,1053.1 1654.4,1051.1 1655.0,1058.4 1655.6,1057.3 1656.2,1055.7 1656.8,1055.3 1657.4,1051.4 1658.0,1053.5 1658.6,1058.7 1659.2,1052.6 1659.8,1046.5 1660.4,1047.1"/>
<polyline stroke="#FF0000" points="264.2,926.6 264.8,928.2 265.4,930.5 266.0,932.3 266.6,936.0 267.2,933.0 267.8,929.1 268.4,927.2 269.0,929.0 269.6,924.7 270.2,922.6 270.8,924.3 271.4,926.7 272.0,928.1 272.6,926.1 273.2,929.2 273.8,927.8 274.4,925.5 275.0,926.5 275.6,926.8 276.2,926.6 276.8,927.7 277.4,926.6 278.0,927.0 278.6,927.8 279.2,922.9 279.8,920.8 280.4,918.5 281.0,924.4 281.6,927.4 282.2,926.0 282.8,926.6 283.4,923.1 284.0,924.2 284.6,922.6 285.2,923.3 285.8,927.2 286.4,926.8 287.0,925.2 287.6,925.9 288.2,923.8 288.8,925.6 289.4,923.4 290.0,923.3 290.6,926.3 291.2,919.9 291.8,921.2 292.4,923.9 293.0,924.5 293.6,923.4 294.2,926.9 294.8,923.9 295.4,922.0 296.0,923.6 296.6,926.7 297.2,925.2 297.8,925.5 298.4,923.5 299.0,923.6 299.6,922.1 300.2,924.9 300.8,923.8 301.4,922.9 302.0,928.1 302.6,920.4 303.2,914.2 303.8,918.9 304.4,922.8 305.0,922.8 305.6,924.2 306.2,921.4 306.8,920.6 307.4,917.8 308.0,920.2 308.6,924.9 309.2,923.9 309.8,925.8 310.4,923.9 311.0,920.4 311.6,922.1 312.2,920.5 312.8,921.7 313.4,925.2 314.0,920.3 314.6,919.8 315.2,922.9 315.8,928.0 316.4,928.3 317.0,925.5 317.6,923.5 318.2,923.0 318.8,918.5 319.4,921.4 320.0,923.3 320.6,929.0 321.2,928.2 321.8,926.9 322.4,930.8 323.0,927.1 323.6,929.0 324.2,926.7 324.8,924.4 325.4,925.1 326.0,927.0 326.6,928.4 327.2,927.2 327.8,926.0 328.4,922.6 329.0,926.3 329.6,925.1 330.2,922.8 330.8,920.7 331.4,925.1 332.0,923.8 332.6,925.7 333.2,929.1 333.8,926.7 334.4,922.0 335.0,920.4 335.6,925.1 336.2,925.3 336.8,924.0 337.4,922.9 338.0,926.1 338.6,926.0 339.2,921.9 339.8,925.5 340.4,927.3 341.0,923.2 341.6,920.9 342.2,924.3 342.8,926.7 343.4,927.0 344.0,927.4 344.6,927.0 345.2,923.7 345.8,925.7 346.4,920.7 347.0,921.6 347.6,921.5 348.2,922.1 348.8,924.9 349.4,920.4 350.0,918.7 350.6,920.1 351.2,918.7 351.8,925.8 352.4,929.1 353.0,921.8 353.6,928.1 354.2,930.6 354.8,924.3 355.4,924.6 356.0,930.5 356.6,928.8 357.2,920.9 357.8,922.5 358.4,923.6 359.0,920.2 359.6,924.8 360.2,930.5 360.8,927.4 361.4,923.4 362.0,924.4 362.6,927.5 363.2,924.0 363.8,927.0 364.4,924.1 365.0,925.1 365.6,930.8 366.2,927.0 366.8,928.8 367.4,929.6 368.0,933.1 368.6,931.5 369.2,924.5 369.8,917.1 370.4,923.8 371.0,930.5 371.6,928.1 372.2,932.3 372.8,929.2 373.4,930.0 374.0,928.7 374.6,925.7 375.2,932.2 375.8,937.6 376.4,932.1 377.0,930.4 377.6,918.1 378.2,921.3 378.8,932.2 379.4,932.6 380.0,932.4 380.6,935.1 381.2,933.5 381.8,930.4 382.4,932.8 383.0,928.4 383.6,926.6 384.2,928.3 384.8,930.4 385.4,933.3 386.0,931.5 386.6,925.9 387.2,926.0 387.8,932.5 388.4,928.6 389.0,931.8 389.6,934.5 390.2,931.2 390.8,930.9 391.4,929.1 392.0,933.2 392.6,934.0 393.2,932.5 393.8,939.2 394.4,934.9 395.0,928.7 395.6,932.8 396.2,933.1 396.8,932.5 397.4,930.2 398.0,927.9 398.6,926.2 399.2,927.3 399.8,931.6 400.4,934.8 401.0,931.1 401.6,930.2 402.2,935.6 402.8,929.2 403.4,929.6 404.0,933.7 404.6,922.3 405.2,924.5 405.8,932.1 406.4,925.3 407.0,930.6 407.6,934.9 408.2,932.7 408.8,930.3 409.4,935.4 410.0,933.3 410.6,929.4 411.2,931.0 411.8,933.5 412.4,932.3 413.0,929.9 413.6,933.0 414.2,934.2 414.8,931.1 415.4,931.7 416.0,933.0 416.6,931.9 417.2,931.6 417.8,933.7 418.4,932.9 419.0,930.2 419.6,929.5 420.2,933.6 420.8,937.1 421.4,939.3 422.0,934.7 422.6,928.1 423.2,931.1 423.8,936.1 424.4,933.7 425.0,928.5 425.6,928.1 426.2,935.1 426.8,932.4 427.4,933.6 428.0,934.7 428.6,931.5 429.2,932.5 429.8,935.6 430.4,936.4 431.0,938.8 431.6,939.0 432.2,936.6 432.8,936.9 433.4,939.4 434.0,938.7 434.6,935.0 435.2,937.4 435.8,942.7 436.4,935.8 437.0,934.9 437.6,930.5 438.2,926.3 438.8,933.2 439.4,935.8 440.0,934.8 440.6,934.9 441.2,931.0 441.8,926.9 442.4,933.8 443.0,933.4 443.6,941.8 444.2,939.7 444.8,934.6 445.4,935.0 446.0,929.6 446.6,927.5 447.2,935.5 447.8,936.4 448.4,936.2 449.0,934.2 449.6,931.8 450.2,931.2 450.8,934.3 451.4,936.4 452.0,930.4 452.6,924.0 453.2,928.6 453.8,937.4 454.4,931.9 455.0,928.3 455.6,931.2 456.2,932.3 456.8,928.8 457.4,930.3 458.0,929.3 458.6,930.2 459.2,931.0 459.8,931.2 460.4,933.9 461.0,933.1 461.6,928.6 462.2,923.6 462.8,928.3 463.4,926.4 464.0,928.0 464.6,929.5 465.2,925.8 465.8,923.4 466.4,924.5 467.0,929.2 467.6,931.8 468.2,929.9 468.8,927.7 469.4,926.4 470.0,926.7 470.6,928.3 471.2,925.7 471.8,924.5 472.4,928.4 473.0,930.5 473.6,930.9 474.2,931.7 474.8,927.9 475.4,931.2 476.0,930.0 476.6,922.3 477.2,928.1 477.8,930.5 478.4,925.0 479.0,925.0 479.6,932.4 480.2,925.7 480.8,924.2 481.4,927.5 482.0,928.3 482.6,926.9 483.2,931.4 483.8,935.3 484.4,930.9 485.0,924.1 485.6,925.6 486.2,931.4 486.8,930.6 487.4,932.8 488.0,930.5 488.6,932.0 489.2,930.8 489.8,928.6 490.4,933.4 491.0,927.9 491.6,927.3 492.2,929.6 492.8,930.0 493.4,927.0 494.0,923.9 494.6,929.3 495.2,933.0 495.8,935.2 496.4,934.4 497.0,932.3 497.6,934.2 498.2,930.4 498.8,929.7 499.4,928.7 500.0,931.1 500.6,934.2 501.2,929.8 501.8,929.8 502.4,925.3 503.0,923.7 503.6,930.6 504.2,932.1 504.8,929.4 505.4,930.1 506.0,933.5 506.6,935.4 507.2,935.4 507.8,936.1 508.4,930.5 509.0,927.5 509.6,934.0 510.2,934.2 510.8,936.4 511.4,936.6 512.0,934.3 512.6,933.1 513.2,934.0 513.8,931.5 514.4,931.0 515.0,928.4 515.6,929.8 516.2,934.6 516.8,937.3 517.4,934.8 518.0,931.9 518.6,935.8 519.2,935.4 519.8,933.9 520.4,938.5 521.0,930.2 521.6,932.0 522.2,938.1 522.8,933.6 523.4,929.7 524.0,932.5 524.6,933.6 525.2,933.1 525.8,931.8 526.4,933.0 527.0,934.9 527.6,936.6 528.2,937.7 528.8,932.2 529.4,930.8 530.0,934.5 530.6,932.0 531.2,931.1 531.8,939.1 532.4,939.0 533.0,934.4 533.6,930.3 534.2,931.7 534.8,933.0 535.4,937.5 536.0,940.5 536.6,944.9 537.2,936.3 537.8,936.8 538.4,941.0 539.0,937.6 539.6,932.7 540.2,932.8 540.8,941.4 541.4,934.7 542.0,932.0 542.6,934.2 543.2,935.5 543.8,935.3 544.4,932.7 545.0,931.1 545.6,934.2 546.2,933.5 546.8,937.3 547.4,940.9 548.0,940.2 548.6,939.9 549.2,930.9 549.8,933.6 550.4,941.2 551.0,938.6 551.6,941.3 552.2,939.4 552.8,937.4 553.4,937.9 554.0,938.3 554.6,937.8 555.2,938.5 555.8,934.9 556.4,938.8 557.0,942.9 557.6,944.1 558.2,940.3 558.8,939.4 559.4,940.5 560.0,942.4 560.6,941.7 561.2,938.6 561.8,940.9 562.4,941.2 563.0,945.4 563.6,945.6 564.2,937.9 564.8,941.8 565.4,943.6 566.0,941.4 566.6,940.3 567.2,936.5 567.8,940.0 568.4,941.0 569.0,940.4 569.6,939.6 570.2,942.8 570.8,939.4 571.4,939.3 572.0,941.6 572.6,944.3 573.2,939.7 573.8,939.4 574.4,942.4 575.0,940.7 575.6,938.6 576.2,937.4 576.8,933.8 577.4,933.5 578.0,938.2 578.6,940.9 579.2,941.6 579.8,942.3 580.4,938.4 581.0,940.6 581.6,940.5 582.2,939.4 582.8,940.1 583.4,941.0 584.0,943.4 584.6,947.6 585.2,944.8 585.8,941.0 586.4,939.7 587.0,941.5 587.6,944.7 588.2,941.0 588.8,939.7 589.4,944.0 590.0,944.7 590.6,940.6 591.2,947.4 591.8,945.9 592.4,942.5 593.0,943.5 593.6,943.7 594.2,942.0 594.8,944.5 595.4,941.3 596.0,943.8 596.6,944.1 597.2,946.3 597.8,946.6 598.4,936.8 599.0,940.5 599.6,949.4 600.2,948.4 600.8,940.8 601.4,942.4 602.0,944.8 602.6,947.5 603.2,948.2 603.8,946.4 604.4,944.4 605.0,945.1 605.6,945.8 606.2,948.1 606.8,950.6 607.4,952.0 608.0,946.9 608.6,943.2 609.2,943.5 609.8,945.2 610.4,944.5 611.0,941.1 611.6,945.0 612.2,947.0 612.8,945.5 613.4,943.1 614.0,942.7 614.6,940.1 615.2,939.9 615.8,941.2 616.4,942.8 617.0,941.5 617.6,942.6 618.2,948.0 618.8,945.9 619.4,944.1 620.0,944.8 620.6,945.8 621.2,937.6 621.8,942.3 622.4,948.2 623.0,944.0 623.6,944.4 624.2,943.8 624.8,944.5 625.4,949.2 626.0,949.8 626.6,947.3 627.2,949.4 627.8,952.7 628.4,947.1 629.0,945.7 629.6,949.9 630.2,947.0 630.8,943.3 631.4,941.2 632.0,946.2 632.6,945.5 633.2,942.9 633.8,943.3 634.4,948.3 635.0,941.4 635.6,945.4 636.2,943.6 636.8,941.9 637.4,946.7 638.0,942.1 638.6,940.5 639.2,944.2 639.8,952.2 640.4,948.3 641.0,938.6 641.6,941.2 642.2,947.1 642.8,945.9 643.4,946.8 644.0,945.3 644.6,943.1 645.2,946.5 645.8,947.4 646.4,948.3 647.0,947.4 647.6,950.1 648.2,948.6 648.8,942.8 649.4,940.1 650.0,942.3 650.6,942.7 651.2,946.9 651.8,949.6 652.4,950.4 653.0,945.6 653.6,942.7 654.2,941.4 654.8,940.5 655.4,942.8 656.0,943.5 656.6,943.6 657.2,944.4 657.8,947.7 658.4,947.8 659.0,950.0 659.6,948.1 660.2,946.9 660.8,948.0 661.4,944.4 662.0,943.0 662.6,940.4 663.2,942.9 663.8,945.6 664.4,944.0 665.0,945.1 665.6,944.5 666.2,947.7 666.8,946.6 667.4,947.5 668.0,946.9 668.6,950.3 669.2,948.1 669.8,942.8 670.4,943.7 671.0,940.2 671.6,938.4 672.2,941.9 672.8,944.6 673.4,944.3 674.0,942.1 674.6,941.6 675.2,948.0 675.8,952.5 676.4,955.7 677.0,949.7 677.6,946.4 678.2,946.5 678.8,942.3 679.4,943.7 680.0,944.0 680.6,939.5 681.2,941.6 681.8,943.7 682.4,944.3 683.0,948.4 683.6,945.5 684.2,940.7 684.8,938.9 685.4,945.6 686.0,945.2 686.6,941.3 687.2,940.3 687.8,942.4 688.4,943.8 689.0,945.7 689.6,947.0 690.2,946.9 690.8,942.0 691.4,943.2 692.0,943.3 692.6,942.3 693.2,947.0 693.8,943.3 694.4,938.8 695.0,936.6 695.6,941.2 696.2,943.1 696.8,941.7 697.4,942.3 698.0,941.5 698.6,940.7 699.2,943.5 699.8,939.4 700.4,943.4 701.0,946.9 701.6,941.9 702.2,940.3 702.8,942.8 703.4,946.9 704.0,940.8 704.6,939.7 705.2,942.1 705.8,943.2 706.4,942.1 707.0,942.0 707.6,941.8 708.2,940.1 708.8,939.7 709.4,943.7 710.0,944.2 710.6,940.9 711.2,940.5 711.8,941.7 712.4,937.3 713.0,934.8 713.6,941.4 714.2,943.2 714.8,943.2 715.4,941.4 716.0,941.1 716.6,943.5 717.2,948.2 717.8,946.7 718.4,943.0 719.0,944.4 719.6,942.5 720.2,945.3 720.8,943.6 721.4,944.5 722.0,940.0 722.6,940.4 723.2,941.1 723.8,938.0 724.4,931.1 725.0,935.8 725.6,946.3 726.2,944.1 726.8,941.8 727.4,942.0 728.0,940.9 728.6,943.1 729.2,941.5 729.8,948.6 730.4,946.0 731.0,939.7 731.6,938.2 732.2,936.0 732.8,944.9 733.4,946.5 734.0,936.7 734.6,938.0 735.2,941.7 735.8,942.5 736.4,943.5 737.0,944.1 737.6,940.9 738.2,937.8 738.8,937.0 739.4,942.5 740.0,946.4 740.6,940.8 741.2,937.8 741.8,940.1 742.4,942.3 743.0,938.7 743.6,939.9 744.2,945.2 744.8,935.8 745.4,935.6 746.0,940.2 746.6,939.7 747.2,942.5 747.8,941.9 748.4,942.8 749.0,942.3 749.6,939.7 750.2,941.1 750.8,941.5 751.4,940.2 752.0,935.8 752.6,938.8 753.2,937.3 753.8,938.1 754.4,940.9 755.0,939.3 755.6,937.4 756.2,938.9 756.8,938.4 757.4,939.2 758.0,939.8 758.6,941.2 759.2,940.2 759.8,938.4 760.4,938.0 761.0,941.2 761.6,937.9 762.2,937.0 762.8,938.8 763.4,946.5 764.0,943.2 764.6,934.9 765.2,934.5 765.8,936.4 766.4,934.0 767.0,936.5 767.6,942.1 768.2,942.0 768.8,938.2 769.4,934.0 770.0,935.9 770.6,936.7 771.2,934.0 771.8,935.5 772.4,938.8 773.0,938.7 773.6,937.1 774.2,937.1 774.8,937.8 775.4,938.2 776.0,937.5 776.6,940.3 777.2,944.2 777.8,941.7 778.4,939.8 779.0,943.1 779.6,937.9 780.2,934.6 780.8,938.5 781.4,942.1 782.0,936.5 782.6,932.7 783.2,937.5 783.8,946.3 784.4,949.0 785.0,939.6 785.6,938.1 786.2,946.6 786.8,945.1 787.4,936.9 788.0,941.0 788.6,937.1 789.2,935.8 789.8,939.1 790.4,935.2 791.0,932.8 791.6,935.1 792.2,937.8 792.8,940.6 793.4,931.4 794.0,930.7 794.6,933.2 795.2,934.0 795.8,942.2 796.4,938.6 797.0,935.8 797.6,933.8 798.2,932.8 798.8,937.2 799.4,939.7 800.0,944.5 800.6,940.9 801.2,940.5 801.8,945.7 802.4,941.2 803.0,939.3 803.6,944.8 804.2,936.8 804.8,935.0 805.4,937.7 806.0,943.3 806.6,937.1 807.2,934.6 807.8,940.2 808.4,938.2 809.0,937.7 809.6,940.3 810.2,938.5 810.8,945.1 811.4,947.1 812.0,937.3 812.6,936.5 813.2,940.2 813.8,938.0 814.4,940.6 815.0,941.1 815.6,940.5 816.2,940.8 816.8,942.8 817.4,941.0 818.0,938.3 818.6,937.8 819.2,941.4 819.8,943.3 820.4,940.0 821.0,939.7 821.6,939.5 822.2,936.8 822.8,941.8 823.4,949.5 824.0,945.5 824.6,940.5 825.2,936.6 825.8,936.4 826.4,940.8 827.0,943.2 827.6,940.6 828.2,941.1 828.8,933.0 829.4,932.7 830.0,937.7 830.6,938.7 831.2,936.8 831.8,935.3 832.4,939.9 833.0,938.3 833.6,934.4 834.2,941.9 834.8,944.5 835.4,935.7 836.0,935.5 836.6,939.7 837.2,934.2 837.8,934.7 838.4,937.8 839.0,938.1 839.6,938.9 840.2,937.6 840.8,936.4 841.4,939.9 842.0,935.1 842.6,936.5 843.2,938.3 843.8,930.1 844.4,929.6 845.0,933.3 845.6,935.9 846.2,938.9 846.8,935.3 847.4,934.3 848.0,939.6 848.6,944.1 849.2,940.7 849.8,943.6 850.4,939.9 851.0,933.4 851.6,936.6 852.2,935.0 852.8,933.0 853.4,939.2 854.0,937.4 854.6,932.3 855.2,937.8 855.8,939.8 856.4,936.4 857.0,937.3 857.6,935.6 858.2,932.6 858.8,938.1 859.4,940.2 860.0,933.2 860.6,929.9 861.2,933.3 861.8,934.3 862.4,933.5 863.0,934.1 863.6,934.3 864.2,936.3 864.8,939.6 865.4,935.0 866.0,933.1 866.6,939.2 867.2,935.9 867.8,932.5 868.4,935.7 869.0,931.8 869.6,934.9 870.2,937.3 870.8,938.9 871.4,937.3 872.0,937.4 872.6,938.5 873.2,936.6 873.8,935.3 874.4,933.9 875.0,931.2 875.6,932.6 876.2,937.0 876.8,931.4 877.4,929.2 878.0,933.0 878.6,931.5 879.2,932.1 879.8,935.0 880.4,935.6 881.0,931.7 881.6,926.7 882.2,934.8 882.8,940.4 883.4,933.9 884.0,934.6 884.6,933.5 885.2,931.7 885.8,934.8 886.4,935.0 887.0,935.4 887.6,938.6 888.2,934.7 888.8,935.7 889.4,935.4 890.0,936.2 890.6,938.9 891.2,933.9 891.8,929.2 892.4,934.4 893.0,936.3 893.6,935.8 894.2,933.4 894.8,931.3 895.4,927.1 896.0,931.5 896.6,938.1 897.2,940.7 897.8,938.8 898.4,937.8 899.0,937.5 899.6,936.1 900.2,941.5 900.8,941.4 901.4,939.4 902.0,938.8 902.6,938.2 903.2,934.5 903.8,937.3 904.4,940.0 905.0,941.0 905.6,938.7 906.2,940.3 906.8,944.8 907.4,940.4 908.0,936.6 908.6,941.8 909.2,945.4 909.8,939.8 910.4,941.7 911.0,941.3 911.6,938.9 912.2,936.4 912.8,938.8 913.4,942.2 914.0,940.6 914.6,941.4 915.2,939.4 915.8,939.7 916.4,941.9 917.0,944.8 917.6,944.9 918.2,939.0 918.8,933.4 919.4,936.5 920.0,943.7 920.6,943.9 921.2,945.8 921.8,945.2 922.4,943.3 923.0,943.9 923.6,944.4 924.2,944.7 924.8,946.3 925.4,944.6 926.0,943.6 926.6,945.6 927.2,944.5 927.8,948.8 928.4,949.2 929.0,940.5 929.6,941.3 930.2,947.8 930.8,949.6 931.4,946.7 932.0,945.2 932.6,949.0 933.2,949.2 933.8,947.1 934.4,949.4 935.0,951.6 935.6,948.2 936.2,946.7 936.8,953.0 937.4,951.5 938.0,947.1 938.6,947.8 939.2,949.4 939.8,953.3 940.4,957.1 941.0,953.9 941.6,950.4 942.2,951.2 942.8,948.6 943.4,949.1 944.0,955.0 944.6,952.3 945.2,951.1 945.8,951.8 946.4,948.0 947.0,951.9 947.6,956.6 948.2,955.4 948.8,956.2 949.4,956.0 950.0,953.6 950.6,951.3 951.2,950.5 951.8,950.3 952.4,951.2 953.0,952.6 953.6,955.0 954.2,953.9 954.8,955.8 955.4,950.0 956.0,942.1 956.6,953.2 957.2,958.0 957.8,957.2 958.4,959.9 959.0,960.4 959.6,959.3 960.2,955.4 960.8,956.0 961.4,957.3 962.0,958.0 962.6,956.5 963.2,956.4 963.8,961.6 964.4,962.1 965.0,958.9 965.6,957.1 966.2,954.8 966.8,956.5 967.4,961.2 968.0,961.1 968.6,962.7 969.2,966.6 969.8,965.3 970.4,963.5 971.0,958.5 971.6,958.6 972.2,961.0 972.8,956.1 973.4,957.9 974.0,956.6 974.6,954.4 975.2,961.8 975.8,965.2 976.4,961.2 977.0,958.0 977.6,960.8 978.2,965.4 978.8,965.3 979.4,960.5 980.0,959.3 980.6,964.2 981.2,970.6 981.8,965.6 982.4,958.3 983.0,963.5 983.6,962.1 984.2,960.4 984.8,965.9 985.4,966.0 986.0,963.3 986.6,963.0 987.2,960.5 987.8,961.0 988.4,964.6 989.0,968.3 989.6,958.8 990.2,961.0 990.8,962.7 991.4,966.7 992.0,968.3 992.6,968.5 993.2,967.2 993.8,969.1 994.4,971.5 995.0,966.3 995.6,965.1 996.2,967.6 996.8,972.3 997.4,975.5 998.0,970.8 998.6,971.3 999.2,974.0 999.8,974.4 1000.4,971.0 1001.0,970.5 1001.6,973.8 1002.2,974.7 1002.8,974.5 1003.4,969.7 1004.0,970.0 1004.6,971.8 1005.2,974.1 1005.8,976.1 1006.4,975.2 1007.0,972.9 1007.6,972.9 1008.2,972.9 1008.8,976.2 1009.4,976.6 1010.0,975.1 1010.6,975.7 1011.2,977.2 1011.8,977.6 1012.4,979.0 1013.0,978.7 1013.6,978.0 1014.2,976.2 1014.8,977.5 1015.4,979.8 1016.0,977.0 1016.6,976.9 1017.2,975.2 1017.8,974.3 1018.4,977.8 1019.0,979.9 1019.6,976.8 1020.2,977.7 1020.8,981.4 1021.4,981.9 1022.0,979.5 1022.6,983.0 1023.2,985.3 1023.8,983.3 1024.4,981.9 1025.0,983.0 1025.6,983.4 1026.2,979.4 1026.8,983.1 1027.4,984.8 1028.0,982.6 1028.6,982.3 1029.2,981.8 1029.8,982.0 1030.4,983.5 1031.0,982.7 1031.6,981.5 1032.2,979.5 1032.8,982.1 1033.4,985.7 1034.0,985.3 1034.6,988.4 1035.2,988.8 1035.8,986.8 1036.4,987.0 1037.0,984.5 1037.6,980.2 1038.2,981.5 1038.8,985.8 1039.4,981.7 1040.0,982.2 1040.6,979.4 1041.2,980.6 1041.8,985.2 1042.4,986.0 1043.0,987.2 1043.6,984.5 1044.2,986.2 1044.8,985.7 1045.4,988.4 1046.0,991.0 1046.6,987.3 1047.2,987.5 1047.8,983.8 1048.4,987.9 1049.0,988.9 1049.6,997.4 1050.2,991.7 1050.8,990.1 1051.4,992.4 1052.0,982.8 1052.6,986.6 1053.2,991.9 1053.8,994.5 1054.4,989.6 1055.0,987.8 1055.6,988.1 1056.2,987.1 1056.8,990.4 1057.4,991.1 1058.0,987.5 1058.6,989.8 1059.2,990.0 1059.8,990.4 1060.4,993.3 1061.0,992.6 1061.6,989.4 1062.2,992.5 1062.8,993.7 1063.4,987.8 1064.0,989.4 1064.6,993.4 1065.2,994.1 1065.8,993.4 1066.4,992.4 1067.0,991.5 1067.6,991.3 1068.2,994.4 1068.8,993.1 1069.4,990.6 1070.0,990.4 1070.6,992.5 1071.2,992.2 1071.8,992.8 1072.4,994.1 1073.0,997.0 1073.6,994.8 1074.2,993.3 1074.8,992.9 1075.4,993.3 1076.0,993.9 1076.6,995.6 1077.2,994.2 1077.8,990.6 1078.4,989.4 1079.0,992.5 1079.6,992.3 1080.2,991.9 1080.8,992.4 1081.4,996.9 1082.0,998.9 1082.6,994.0 1083.2,992.9 1083.8,991.3 1084.4,994.2 1085.0,996.9 1085.6,994.8 1086.2,990.7 1086.8,991.1 1087.4,993.7 1088.0,991.1 1088.6,992.4 1089.2,993.2 1089.8,991.4 1090.4,991.0 1091.0,990.9 1091.6,992.8 1092.2,993.8 1092.8,994.1 1093.4,994.6 1094.0,994.5 1094.6,994.2 1095.2,995.4 1095.8,998.5 1096.4,997.1 1097.0,995.8 1097.6,998.0 1098.2,996.3 1098.8,988.9 1099.4,991.1 1100.0,1001.2 1100.6,998.1 1101.2,995.6 1101.8,999.8 1102.4,1001.8 1103.0,1000.8 1103.6,993.9 1104.2,995.9 1104.8,997.0 1105.4,997.2 1106.0,1001.8 1106.6,997.9 1107.2,994.8 1107.8,998.9 1108.4,1000.4 1109.0,996.5 1109.6,999.8 1110.2,1000.8 1110.8,1004.7 1111.4,1007.2 1112.0,1000.7 1112.6,998.5 1113.2,999.6 1113.8,1003.7 1114.4,1002.9 1115.0,998.0 1115.6,999.6 1116.2,1003.6 1116.8,1003.7 1117.4,1002.9 1118.0,1001.4 1118.6,1003.9 1119.2,1006.0 1119.8,1004.9 1120.4,1002.6 1121.0,1000.9 1121.6,1000.3 1122.2,1005.3 1122.8,1007.6 1123.4,1005.5 1124.0,1001.5 1124.6,1004.1 1125.2,1005.8 1125.8,1002.2 1126.4,1003.0 1127.0,1004.3 1127.6,1005.8 1128.2,1002.2 1128.8,1001.9 1129.4,1005.9 1130.0,1004.1 1130.6,1004.8 1131.2,1007.7 1131.8,1008.4 1132.4,1005.5 1133.0,1005.7 1133.6,1010.5 1134.2,1007.8 1134.8,1004.7 1135.4,1008.7 1136.0,1011.8 1136.6,1008.4 1137.2,1004.4 1137.8,1007.5 1138.4,1007.1 1139.0,1005.6 1139.6,1005.9 1140.2,1005.4 1140.8,1004.0 1141.4,1006.5 1142.0,1006.8 1142.6,1003.9 1143.2,1003.4 1143.8,1002.2 1144.4,1006.1 1145.0,1004.6 1145.6,1003.1 1146.2,1005.4 1146.8,1007.1 1147.4,1009.9 1148.0,1006.9 1148.6,1009.1 1149.2,1006.5 1149.8,1004.5 1150.4,1005.8 1151.0,1007.8 1151.6,1008.6 1152.2,1010.9 1152.8,1008.2 1153.4,1008.6 1154.0,1005.6 1154.6,1004.9 1155.2,1006.1 1155.8,1010.4 1156.4,1009.5 1157.0,1004.6 1157.6,1005.1 1158.2,1008.8 1158.8,1008.5 1159.4,1007.5 1160.0,1007.8 1160.6,1007.9 1161.2,1011.1 1161.8,1011.0 1162.4,1007.4 1163.0,1005.7 1163.6,1010.3 1164.2,1007.9 1164.8,1011.4 1165.4,1012.0 1166.0,1008.4 1166.6,1010.1 1167.2,1009.8 1167.8,1007.0 1168.4,1006.8 1169.0,1009.8 1169.6,1009.7 1170.2,1011.6 1170.8,1010.5 1171.4,1006.2 1172.0,1010.8 1172.6,1015.0 1173.2,1012.4 1173.8,1010.1 1174.4,1012.5 1175.0,1010.5 1175.6,1004.2 1176.2,1007.3 1176.8,1011.9 1177.4,1012.2 1178.0,1011.5 1178.6,1013.6 1179.2,1012.1 1179.8,1009.7 1180.4,1009.0 1181.0,1013.6 1181.6,1015.6 1182.2,1013.3 1182.8,1013.4 1183.4,1012.6 1184.0,1010.0 1184.6,1009.2 1185.2,1010.0 1185.8,1013.2 1186.4,1015.0 1187.0,1012.4 1187.6,1010.2 1188.2,1010.0 1188.8,1012.4 1189.4,1015.1 1190.0,1016.3 1190.6,1015.7 1191.2,1016.6 1191.8,1015.9 1192.4,1014.7 1193.0,1014.4 1193.6,1015.1 1194.2,1014.5 1194.8,1011.6 1195.4,1014.8 1196.0,1015.9 1196.6,1015.0 1197.2,1014.1 1197.8,1012.5 1198.4,1014.1 1199.0,1015.1 1199.6,1018.0 1200.2,1018.4 1200.8,1018.1 1201.4,1017.1 1202.0,1017.0 1202.6,1016.8 1203.2,1014.1 1203.8,1020.2 1204.4,1017.4 1205.0,1014.8 1205.6,1013.4 1206.2,1011.5 1206.8,1014.0 1207.4,1015.6 1208.0,1013.2 1208.6,1013.6 1209.2,1016.7 1209.8,1016.4 1210.4,1011.0 1211.0,1012.9 1211.6,1020.8 1212.2,1019.3 1212.8,1018.2 1213.4,1017.0 1214.0,1014.5 1214.6,1018.5 1215.2,1017.5 1215.8,1017.7 1216.4,1019.3 1217.0,1019.4 1217.6,1019.1 1218.2,1016.7 1218.8,1016.1 1219.4,1015.2 1220.0,1017.3 1220.6,1017.4 1221.2,1017.7 1221.8,1015.9 1222.4,1013.5 1223.0,1016.9 1223.6,1019.9 1224.2,1018.6 1224.8,1013.8 1225.4,1016.0 1226.0,1019.6 1226.6,1019.2 1227.2,1016.2 1227.8,1021.2 1228.4,1025.5 1229.0,1023.0 1229.6,1018.1 1230.2,1015.4 1230.8,1017.2 1231.4,1016.5 1232.0,1016.0 1232.6,1017.8 1233.2,1020.5 1233.8,1017.8 1234.4,1018.4 1235.0,1018.1 1235.6,1017.9 1236.2,1019.4 1236.8,1018.1 1237.4,1018.2 1238.0,1017.5 1238.6,1015.5 1239.2,1015.3 1239.8,1013.9 1240.4,1017.3 1241.0,1017.6 1241.6,1017.8 1242.2,1020.3 1242.8,1021.7 1243.4,1018.9 1244.0,1015.4 1244.6,1016.1 1245.2,1018.6 1245.8,1018.7 1246.4,1018.3 1247.0,1021.7 1247.6,1018.1 1248.2,1019.5 1248.8,1020.5 1249.4,1020.3 1250.0,1018.9 1250.6,1020.2 1251.2,1017.7 1251.8,1016.9 1252.4,1020.7 1253.0,1020.3 1253.6,1016.1 1254.2,1017.4 1254.8,1020.1 1255.4,1023.0 1256.0,1021.2 1256.6,1020.6 1257.2,1020.0 1257.8,1021.3 1258.4,1020.0 1259.0,1016.0 1259.6,1019.6 1260.2,1019.4 1260.8,1018.3 1261.4,1019.6 1262.0,1023.8 1262.6,1024.7 1263.2,1025.6 1263.8,1022.7 1264.4,1020.8 1265.0,1021.1 1265.6,1026.5 1266.2,1024.2 1266.8,1022.3 1267.4,1022.7 1268.0,1023.5 1268.6,1025.8 1269.2,1020.9 1269.8,1019.8 1270.4,1019.9 1271.0,1020.8 1271.6,1020.7 1272.2,1019.4 1272.8,1021.4 1273.4,1022.3 1274.0,1024.3 1274.6,1026.3 1275.2,1025.3 1275.8,1024.0 1276.4,1021.2 1277.0,1022.2 1277.6,1024.9 1278.2,1022.4 1278.8,1024.1 1279.4,1023.3 1280.0,1023.6 1280.6,1023.8 1281.2,1023.9 1281.8,1023.6 1282.4,1019.7 1283.0,1019.6 1283.6,1023.6 1284.2,1025.6 1284.8,1021.5 1285.4,1023.7 1286.0,1025.5 1286.6,1022.5 1287.2,1020.9 1287.8,1022.8 1288.4,1025.6 1289.0,1020.9 1289.6,1020.6 1290.2,1025.1 1290.8,1025.4 1291.4,1025.0 1292.0,1023.9 1292.6,1023.8 1293.2,1024.9 1293.8,1021.4 1294.4,1020.4 1295.0,1022.8 1295.6,1026.9 1296.2,1026.4 1296.8,1021.0 1297.4,1024.0 1298.0,1027.7 1298.6,1027.0 1299.2,1025.5 1299.8,1027.1 1300.4,1025.3 1301.0,1025.8 1301.6,1030.8 1302.2,1027.4 1302.8,1024.0 1303.4,1025.3 1304.0,1028.1 1304.6,1025.1 1305.2,1025.6 1305.8,1026.4 1306.4,1025.7 1307.0,1024.9 1307.6,1023.1 1308.2,1024.7 1308.8,1026.9 1309.4,1024.5 1310.0,1025.4 1310.6,1027.4 1311.2,1031.0 1311.8,1030.7 1312.4,1030.0 1313.0,1025.5 1313.6,1026.0 1314.2,1028.8 1314.8,1028.1 1315.4,1027.4 1316.0,1024.7 1316.6,1027.4 1317.2,1022.1 1317.8,1023.0 1318.4,1027.6 1319.0,1033.1 1319.6,1032.1 1320.2,1028.5 1320.8,1026.0 1321.4,1026.3 1322.0,1029.0 1322.6,1026.6 1323.2,1025.2 1323.8,1027.5 1324.4,1029.5 1325.0,1029.0 1325.6,1028.1 1326.2,1024.7 1326.8,1025.0 1327.4,1026.0 1328.0,1026.9 1328.6,1028.7 1329.2,1029.4 1329.8,1031.8 1330.4,1027.9 1331.0,1031.3 1331.6,1031.0 1332.2,1033.1 1332.8,1030.7 1333.4,1028.5 1334.0,1030.9 1334.6,1031.5 1335.2,1032.1 1335.8,1033.3 1336.4,1033.1 1337.0,1031.5 1337.6,1029.8 1338.2,1030.5 1338.8,1030.7 1339.4,1029.6 1340.0,1031.4 1340.6,1033.7 1341.2,1030.0 1341.8,1028.5 1342.4,1031.9 1343.0,1031.1 1343.6,1029.9 1344.2,1033.5 1344.8,1032.9 1345.4,1028.2 1346.0,1031.8 1346.6,1032.4 1347.2,1032.9 1347.8,1035.7 1348.4,1036.3 1349.0,1034.6 1349.6,1034.1 1350.2,1031.7 1350.8,1030.9 1351.4,1032.5 1352.0,1033.7 1352.6,1031.3 1353.2,1032.1 1353.8,1033.6 1354.4,1036.2 1355.0,1030.6 1355.6,1033.5 1356.2,1032.8 1356.8,1032.2 1357.4,1033.0 1358.0,1030.2 1358.6,1032.3 1359.2,1031.8 1359.8,1030.8 1360.4,1032.3 1361.0,1032.5 1361.6,1033.2 1362.2,1029.5 1362.8,1030.8 1363.4,1033.7 1364.0,1031.8 1364.6,1030.0 1365.2,1030.9 1365.8,1030.5 1366.4,1030.2 1367.0,1031.2 1367.6,1032.6 1368.2,1035.6 1368.8,1033.3 1369.4,1029.7 1370.0,1029.1 1370.6,1030.5 1371.2,1031.7 1371.8,1032.4 1372.4,1036.9 1373.0,1035.1 1373.6,1032.3 1374.2,1032.3 1374.8,1031.8 1375.4,1036.6 1376.0,1034.0 1376.6,1032.7 1377.2,1039.2 1377.8,1036.9 1378.4,1031.1 1379.0,1030.3 1379.6,1034.1 1380.2,1033.7 1380.8,1032.6 1381.4,1029.8 1382.0,1027.3 1382.6,1033.1 1383.2,1037.4 1383.8,1034.4 1384.4,1032.0 1385.0,1032.6 1385.6,1034.7 1386.2,1035.9 1386.8,1034.8 1387.4,1031.0 1388.0,1031.6 1388.6,1034.8 1389.2,1034.5 1389.8,1033.4 1390.4,1033.5 1391.0,1034.5 1391.6,1031.6 1392.2,1033.9 1392.8,1033.9 1393.4,1033.8 1394.0,1038.1 1394.6,1036.5 1395.2,1035.5 1395.8,1035.7 1396.4,1038.2 1397.0,1038.4 1397.6,1036.3 1398.2,1037.2 1398.8,1036.0 1399.4,1037.1 1400.0,1039.3 1400.6,1037.4 1401.2,1035.3 1401.8,1034.9 1402.4,1031.7 1403.0,1033.7 1403.6,1037.7 1404.2,1037.5 1404.8,1036.0 1405.4,1035.7 1406.0,1029.8 1406.6,1031.7 1407.2,1036.6 1407.8,1035.7 1408.4,1035.5 1409.0,1035.5 1409.6,1031.1 1410.2,1032.8 1410.8,1038.7 1411.4,1036.4 1412.0,1033.7 1412.6,1033.5 1413.2,1034.2 1413.8,1034.1 1414.4,1024.4 1415.0,1026.2 1415.6,1035.7 1416.2,1038.2 1416.8,1037.3 1417.4,1037.1 1418.0,1038.5 1418.6,1036.7 1419.2,1037.5 1419.8,1035.8 1420.4,1037.5 1421.0,1039.0 1421.6,1035.2 1422.2,1033.2 1422.8,1033.8 1423.4,1038.1 1424.0,1036.6 1424.6,1036.0 1425.2,1036.4 1425.8,1036.6 1426.4,1036.1 1427.0,1037.4 1427.6,1037.7 1428.2,1035.2 1428.8,1030.8 1429.4,1034.0 1430.0,1035.6 1430.6,1036.0 1431.2,1038.2 1431.8,1036.0 1432.4,1036.6 1433.0,1036.2 1433.6,1036.1 1434.2,1037.2 1434.8,1040.1 1435.4,1038.2 1436.0,1035.1 1436.6,1035.0 1437.2,1035.9 1437.8,1036.0 1438.4,1031.9 1439.0,1034.5 1439.6,1036.0 1440.2,1032.9 1440.8,1034.8 1441.4,1037.2 1442.0,1037.3 1442.6,1038.3 1443.2,1037.1 1443.8,1035.2 1444.4,1034.6 1445.0,1032.7 1445.6,1035.3 1446.2,1036.7 1446.8,1035.8 1447.4,1039.0 1448.0,1038.6 1448.6,1036.6 1449.2,1035.9 1449.8,1033.2 1450.4,1034.7 1451.0,1032.7 1451.6,1036.6 1452.2,1035.7 1452.8,1032.9 1453.4,1035.3 1454.0,1037.1 1454.6,1040.2 1455.2,1038.0 1455.8,1037.0 1456.4,1041.0 1457.0,1040.9 1457.6,1035.8 1458.2,1040.2 1458.8,1041.7 1459.4,1038.1 1460.0,1035.6 1460.6,1035.8 1461.2,1037.7 1461.8,1037.1 1462.4,1038.8 1463.0,1038.1 1463.6,1037.1 1464.2,1036.3 1464.8,1036.0 1465.4,1036.9 1466.0,1037.0 1466.6,1034.2 1467.2,1034.5 1467.8,1038.7 1468.4,1037.6 1469.0,1034.7 1469.6,1036.2 1470.2,1041.1 1470.8,1040.6 1471.4,1035.6 1472.0,1035.1 1472.6,1039.3 1473.2,1039.4 1473.8,1035.5 1474.4,1033.8 1475.0,1035.8 1475.6,1042.9 1476.2,1043.1 1476.8,1036.6 1477.4,1036.6 1478.0,1036.7 1478.6,1038.1 1479.2,1038.7 1479.8,1036.6 1480.4,1040.5 1481.0,1041.5 1481.6,1037.9 1482.2,1036.7 1482.8,1033.4 1483.4,1033.8 1484.0,1034.3 1484.6,1034.5 1485.2,1035.8 1485.8,1037.5 1486.4,1037.3 1487.0,1034.2 1487.6,1034.4 1488.2,1034.9 1488.8,1034.2 1489.4,1034.2 1490.0,1034.6 1490.6,1035.6 1491.2,1038.7 1491.8,1040.8 1492.4,1039.7 1493.0,1038.7 1493.6,1034.9 1494.2,1033.5 1494.8,1033.1 1495.4,1031.9 1496.0,1033.5 1496.6,1035.7 1497.2,1035.2 1497.8,1035.2 1498.4,1037.8 1499.0,1039.0 1499.6,1037.2 1500.2,1035.6 1500.8,1035.8 1501.4,1037.0 1502.0,1036.7 1502.6,1035.2 1503.2,1036.6 1503.8,1037.1 1504.4,1036.9 1505.0,1040.0 1505.6,1043.6 1506.2,1039.3 1506.8,1039.3 1507.4,1040.0 1508.0,1037.3 1508.6,1036.5 1509.2,1037.6 1509.8,1035.6 1510.4,1032.6 1511.0,1036.1 1511.6,1038.2 1512.2,1038.5 1512.8,1040.6 1513.4,1041.1 1514.0,1035.8 1514.6,1035.1 1515.2,1037.7 1515.8,1036.0 1516.4,1037.0 1517.0,1041.1 1517.6,1039.2 1518.2,1036.7 1518.8,1035.1 1519.4,1037.1 1520.0,1038.0 1520.6,1037.4 1521.2,1039.5 1521.8,1041.7 1522.4,1042.5 1523.0,1037.4 1523.6,1037.7 1524.2,1041.7 1524.8,1040.9 1525.4,1039.4 1526.0,1038.3 1526.6,1038.1 1527.2,1038.1 1527.8,1037.6 1528.4,1035.0 1529.0,1034.1 1529.6,1033.8 1530.2,1042.1 1530.8,1042.1 1531.4,1037.8 1532.0,1038.7 1532.6,1037.9 1533.2,1038.3 1533.8,1036.9 1534.4,1037.9 1535.0,1041.4 1535.6,1041.4 1536.2,1039.6 1536.8,1038.0 1537.4,1040.4 1538.0,1040.8 1538.6,1039.9 1539.2,1038.6 1539.8,1036.6 1540.4,1037.7 1541.0,1038.5 1541.6,1039.9 1542.2,1040.2 1542.8,1036.9 1543.4,1035.1 1544.0,1036.6 1544.6,1037.5 1545.2,1037.3 1545.8,1038.6 1546.4,1039.5 1547.0,1040.0 1547.6,1036.4 1548.2,1034.0 1548.8,1033.9 1549.4,1037.3 1550.0,1037.5 1550.6,1037.0 1551.2,1038.8 1551.8,1036.6 1552.4,1036.7 1553.0,1037.3 1553.6,1038.0 1554.2,1038.9 1554.8,1035.4 1555.4,1034.9 1556.0,1036.0 1556.6,1037.9 1557.2,1040.6 1557.8,1038.2 1558.4,1036.4 1559.0,1035.4 1559.6,1035.3 1560.2,1035.1 1560.8,1034.6 1561.4,1035.0 1562.0,1036.2 1562.6,1034.3 1563.2,1034.6 1563.8,1034.6 1564.4,1035.9 1565.0,1033.2 1565.6,1035.1 1566.2,1037.3 1566.8,1036.9 1567.4,1036.6 1568.0,1035.0 1568.6,1036.4 1569.2,1036.4 1569.8,1036.0 1570.4,1034.2 1571.0,1036.1 1571.6,1035.0 1572.2,1033.3 1572.8,1035.5 1573.4,1037.3 1574.0,1039.1 1574.6,1040.1 1575.2,1036.0 1575.8,1037.1 1576.4,1040.0 1577.0,1037.8 1577.6,1040.8 1578.2,1038.8 1578.8,1033.6 1579.4,1034.7 1580.0,1035.6 1580.6,1041.4 1581.2,1043.5 1581.8,1038.9 1582.4,1036.6 1583.0,1037.5 1583.6,1038.1 1584.2,1035.3 1584.8,1034.4 1585.4,1034.5 1586.0,1041.2 1586.6,1044.1 1587.2,1041.8 1587.8,1039.1 1588.4,1039.1 1589.0,1041.2 1589.6,1038.7 1590.2,1038.7 1590.8,1039.3 1591.4,1043.5 1592.0,1037.5 1592.6,1036.8 1593.2,1042.0 1593.8,1037.5 1594.4,1036.5 1595.0,1038.1 1595.6,1038.6 1596.2,1038.9 1596.8,1036.5 1597.4,1038.4 1598.0,1041.2 1598.6,1039.3 1599.2,1042.4 1599.8,1042.3 1600.4,1041.1 1601.0,1038.8 1601.6,1038.0 1602.2,1043.0 1602.8,1044.4 1603.4,1042.7 1604.0,1041.6 1604.6,1049.5 1605.2,1045.9 1605.8,1042.0 1606.4,1043.1 1607.0,1041.7 1607.6,1043.4 1608.2,1043.5 1608.8,1040.4 1609.4,1040.7 1610.0,1042.4 1610.6,1040.8 1611.2,1040.1 1611.8,1040.8 1612.4,1038.7 1613.0,1039.3 1613.6,1043.1 1614.2,1043.8 1614.8,1040.8 1615.4,1039.7 1616.0,1040.1 1616.6,1040.1 1617.2,1038.7 1617.8,1039.7 1618.4,1040.1 1619.0,1040.2 1619.6,1040.7 1620.2,1040.7 1620.8,1043.0 1621.4,1040.1 1622.0,1039.7 1622.6,1042.0 1623.2,1039.0 1623.8,1037.8 1624.4,1038.3 1625.0,1040.6 1625.6,1040.8 1626.2,1045.7 1626.8,1044.5 1627.4,1041.0 1628.0,1042.1 1628.6,1043.6 1629.2,1042.9 1629.8,1041.0 1630.4,1039.5 1631.0,1043.6 1631.6,1042.9 1632.2,1042.8 1632.8,1045.0 1633.4,1043.6 1634.0,1043.1 1634.6,1043.7 1635.2,1044.3 1635.8,1044.1 1636.4,1045.9 1637.0,1044.9 1637.6,1043.8 1638.2,1041.4 1638.8,1042.9 1639.4,1046.5 1640.0,1046.2 1640.6,1047.9 1641.2,1045.8 1641.8,1044.4 1642.4,1047.0 1643.0,1048.4 1643.6,1046.9 1644.2,1044.2 1644.8,1043.6 1645.4,1042.5 1646.0,1042.0 1646.6,1043.4 1647.2,1042.0 1647.8,1041.8 1648.4,1043.5 1649.0,1043.6 1649.6,1045.9 1650.2,1044.4 1650.8,1041.8 1651.4,1044.5 1652.0,1046.7 1652.6,1044.2 1653.2,1042.3 1653.8,1044.0 1654.4,1046.2 1655.0,1045.7 1655.6,1047.3 1656.2,1044.4 1656.8,1040.9 1657.4,1043.9 1658.0,1043.9 1658.6,1046.6 1659.2,1047.5 1659.8,1043.5 1660.4,1043.2"/>
<polyline stroke="#FFC000" points="264.2,866.1 264.8,864.5 265.4,861.6 266.0,858.6 266.6,868.8 267.2,866.2 267.8,859.8 268.4,859.4 269.0,863.1 269.6,865.2 270.2,862.1 270.8,863.6 271.4,861.2 272.0,860.9 272.6,859.5 273.2,857.4 273.8,862.0 274.4,859.7 275.0,861.8 275.6,861.2 276.2,853.9 276.8,858.3 277.4,858.8 278.0,857.6 278.6,857.4 279.2,860.5 279.8,866.1 280.4,865.0 281.0,862.0 281.6,860.5 282.2,857.4 282.8,856.3 283.4,859.6 284.0,857.9 284.6,855.1 285.2,856.8 285.8,851.6 286.4,853.0 287.0,861.0 287.6,861.2 288.2,861.7 288.8,861.3 289.4,857.6 290.0,857.0 290.6,856.4 291.2,857.1 291.8,855.0 292.4,848.7 293.0,854.6 293.6,861.0 294.2,858.6 294.8,860.3 295.4,861.3 296.0,857.6 296.6,855.0 297.2,854.9 297.8,854.1 298.4,849.7 299.0,848.1 299.6,854.4 300.2,851.2 300.8,849.1 301.4,854.2 302.0,858.9 302.6,856.4 303.2,855.2 303.8,854.4 304.4,848.6 305.0,849.8 305.6,849.9 306.2,847.4 306.8,845.4 307.4,853.1 308.0,850.5 308.6,847.7 309.2,843.2 309.8,842.7 310.4,851.2 311.0,858.1 311.6,852.6 312.2,849.3 312.8,852.5 313.4,851.9 314.0,848.6 314.6,839.2 315.2,845.6 315.8,852.4 316.4,858.3 317.0,855.6 317.6,854.4 318.2,855.4 318.8,852.0 319.4,849.7 320.0,851.1 320.6,856.7 321.2,853.2 321.8,849.4 322.4,850.3 323.0,846.2 323.6,843.3 324.2,847.3 324.8,846.4 325.4,853.5 326.0,855.1 326.6,849.8 327.2,850.3 327.8,852.3 328.4,857.8 329.0,856.7 329.6,854.4 330.2,855.2 330.8,849.5 331.4,847.6 332.0,849.9 332.6,851.2 333.2,848.3 333.8,848.0 334.4,851.9 335.0,854.2 335.6,852.5 336.2,847.0 336.8,843.4 337.4,848.1 338.0,847.4 338.6,845.7 339.2,849.8 339.8,854.8 340.4,853.1 341.0,851.0 341.6,857.7 342.2,853.8 342.8,848.4 343.4,849.3 344.0,851.7 344.6,853.4 345.2,849.7 345.8,848.5 346.4,855.1 347.0,852.2 347.6,853.3 348.2,853.5 348.8,852.3 349.4,852.3 350.0,847.7 350.6,845.8 351.2,836.8 351.8,845.5 352.4,854.2 353.0,849.2 353.6,850.4 354.2,853.0 354.8,854.2 355.4,854.0 356.0,852.0 356.6,847.0 357.2,849.9 357.8,855.9 358.4,855.6 359.0,853.9 359.6,853.7 360.2,845.6 360.8,850.1 361.4,855.8 362.0,853.6 362.6,851.6 363.2,857.1 363.8,856.2 364.4,853.5 365.0,854.4 365.6,860.6 366.2,856.3 366.8,855.2 367.4,855.6 368.0,854.8 368.6,861.7 369.2,860.2 369.8,855.8 370.4,856.5 371.0,861.2 371.6,859.0 372.2,866.7 372.8,868.6 373.4,852.9 374.0,847.2 374.6,851.0 375.2,858.7 375.8,862.3 376.4,860.7 377.0,857.2 377.6,858.5 378.2,864.1 378.8,860.5 379.4,858.2 380.0,861.1 380.6,855.8 381.2,853.9 381.8,857.8 382.4,859.9 383.0,860.8 383.6,863.7 384.2,865.8 384.8,863.1 385.4,870.4 386.0,868.9 386.6,861.0 387.2,859.9 387.8,860.5 388.4,854.6 389.0,856.5 389.6,863.5 390.2,861.2 390.8,856.3 391.4,855.2 392.0,857.4 392.6,857.4 393.2,857.2 393.8,855.4 394.4,853.8 395.0,859.8 395.6,855.9 396.2,851.7 396.8,857.6 397.4,855.3 398.0,852.7 398.6,857.8 399.2,860.3 399.8,860.5 400.4,859.7 401.0,853.4 401.6,858.0 402.2,860.7 402.8,862.4 403.4,868.1 404.0,864.7 404.6,859.5 405.2,852.5 405.8,846.8 406.4,854.1 407.0,856.9 407.6,856.7 408.2,858.3 408.8,861.7 409.4,859.8 410.0,858.7 410.6,860.0 411.2,853.1 411.8,855.3 412.4,862.5 413.0,858.8 413.6,852.4 414.2,852.6 414.8,856.4 415.4,862.0 416.0,861.0 416.6,861.2 417.2,858.7 417.8,868.1 418.4,867.6 419.0,857.4 419.6,850.9 420.2,851.3 420.8,857.8 421.4,861.7 422.0,864.3 422.6,863.1 423.2,869.3 423.8,866.3 424.4,861.8 425.0,859.0 425.6,855.6 426.2,858.8 426.8,859.3 427.4,857.0 428.0,857.0 428.6,863.3 429.2,863.7 429.8,867.7 430.4,864.6 431.0,865.7 431.6,860.7 432.2,859.3 432.8,868.0 433.4,873.7 434.0,867.9 434.6,861.5 435.2,857.2 435.8,859.1 436.4,864.3 437.0,863.8 437.6,863.7 438.2,857.8 438.8,862.1 439.4,863.1 440.0,863.4 440.6,865.2 441.2,856.0 441.8,858.9 442.4,862.0 443.0,860.3 443.6,857.9 444.2,862.7 444.8,865.3 445.4,856.9 446.0,858.8 446.6,862.3 447.2,862.8 447.8,863.8 448.4,863.5 449.0,863.0 449.6,857.5 450.2,858.2 450.8,862.8 451.4,863.3 452.0,864.5 452.6,870.4 453.2,868.2 453.8,863.2 454.4,861.0 455.0,868.9 455.6,872.0 456.2,867.2 456.8,865.4 457.4,870.6 458.0,867.6 458.6,864.7 459.2,858.6 459.8,863.3 460.4,865.4 461.0,869.3 461.6,866.5 462.2,860.4 462.8,861.8 463.4,864.7 464.0,855.9 464.6,858.9 465.2,862.5 465.8,863.4 466.4,866.5 467.0,863.9 467.6,865.1 468.2,866.3 468.8,867.9 469.4,868.9 470.0,871.8 470.6,869.8 471.2,862.5 471.8,863.4 472.4,863.0 473.0,863.7 473.6,859.1 474.2,866.3 474.8,871.9 475.4,866.0 476.0,853.6 476.6,857.4 477.2,866.8 477.8,866.0 478.4,869.6 479.0,872.9 479.6,866.9 480.2,871.4 480.8,870.4 481.4,862.8 482.0,862.9 482.6,865.7 483.2,867.4 483.8,868.4 484.4,866.1 485.0,868.2 485.6,867.2 486.2,866.8 486.8,868.4 487.4,865.1 488.0,861.1 488.6,860.2 489.2,867.8 489.8,870.4 490.4,867.0 491.0,860.7 491.6,861.1 492.2,867.5 492.8,865.6 493.4,861.0 494.0,864.6 494.6,867.1 495.2,873.0 495.8,877.1 496.4,872.9 497.0,872.7 497.6,872.5 498.2,872.0 498.8,868.3 499.4,869.4 500.0,867.1 500.6,863.0 501.2,864.2 501.8,865.5 502.4,862.8 503.0,865.2 503.6,863.7 504.2,856.5 504.8,862.8 505.4,868.3 506.0,870.7 506.6,866.9 507.2,862.2 507.8,869.4 508.4,867.3 509.0,867.6 509.6,873.4 510.2,868.7 510.8,866.8 511.4,871.0 512.0,869.8 512.6,863.0 513.2,861.0 513.8,862.4 514.4,858.7 515.0,858.9 515.6,863.1 516.2,861.8 516.8,859.1 517.4,859.3 518.0,859.4 518.6,862.8 519.2,862.5 519.8,861.4 520.4,856.6 521.0,857.8 521.6,858.8 522.2,852.0 522.8,861.3 523.4,864.1 524.0,859.7 524.6,850.5 525.2,854.9 525.8,859.6 526.4,860.4 527.0,858.3 527.6,853.4 528.2,853.3 528.8,854.6 529.4,855.2 530.0,855.0 530.6,853.8 531.2,854.0 531.8,856.5 532.4,852.3 533.0,857.8 533.6,863.2 534.2,853.5 534.8,850.2 535.4,861.8 536.0,864.8 536.6,858.3 537.2,854.2 537.8,854.0 538.4,851.8 539.0,855.4 539.6,855.6 540.2,850.5 540.8,848.6 541.4,855.5 542.0,854.2 542.6,852.9 543.2,853.1 543.8,855.5 544.4,853.0 545.0,849.3 545.6,845.6 546.2,847.3 546.8,858.1 547.4,855.1 548.0,852.0 548.6,851.7 549.2,853.0 549.8,850.7 550.4,851.4 551.0,855.7 551.6,853.1 552.2,850.3 552.8,855.8 553.4,856.4 554.0,855.6 554.6,852.9 555.2,845.5 555.8,846.7 556.4,858.0 557.0,857.4 557.6,862.4 558.2,861.0 558.8,854.0 559.4,856.0 560.0,852.0 560.6,847.4 561.2,851.5 561.8,858.9 562.4,860.3 563.0,860.2 563.6,861.7 564.2,859.0 564.8,861.6 565.4,861.4 566.0,854.9 566.6,857.6 567.2,860.2 567.8,862.2 568.4,867.1 569.0,866.2 569.6,864.9 570.2,863.9 570.8,863.2 571.4,862.2 572.0,859.4 572.6,862.3 573.2,868.2 573.8,868.4 574.4,868.8 575.0,867.3 575.6,864.4 576.2,870.8 576.8,874.5 577.4,872.2 578.0,872.3 578.6,874.0 579.2,873.7 579.8,879.1 580.4,880.4 581.0,878.6 581.6,873.2 582.2,872.4 582.8,878.1 583.4,875.3 584.0,875.7 584.6,879.7 585.2,882.6 585.8,879.5 586.4,874.0 587.0,872.1 587.6,877.4 588.2,879.0 588.8,880.6 589.4,881.1 590.0,872.6 590.6,873.5 591.2,878.6 591.8,877.6 592.4,879.5 593.0,877.7 593.6,875.7 594.2,883.8 594.8,882.3 595.4,879.9 596.0,879.9 596.6,874.8 597.2,880.3 597.8,879.9 598.4,880.6 599.0,881.5 599.6,885.3 600.2,878.2 600.8,874.2 601.4,880.4 602.0,883.9 602.6,881.8 603.2,881.9 603.8,884.4 604.4,883.0 605.0,884.0 605.6,875.8 606.2,876.4 606.8,885.6 607.4,882.4 608.0,880.7 608.6,888.4 609.2,888.6 609.8,884.2 610.4,885.2 611.0,884.1 611.6,879.9 612.2,883.4 612.8,889.6 613.4,890.6 614.0,888.8 614.6,886.8 615.2,883.3 615.8,878.7 616.4,885.9 617.0,885.1 617.6,875.4 618.2,881.7 618.8,887.9 619.4,889.7 620.0,883.6 620.6,883.3 621.2,890.7 621.8,886.0 622.4,880.4 623.0,882.5 623.6,881.7 624.2,875.5 624.8,877.0 625.4,882.5 626.0,889.1 626.6,886.7 627.2,889.9 627.8,889.8 628.4,881.5 629.0,882.0 629.6,881.0 630.2,878.3 630.8,875.8 631.4,873.8 632.0,874.3 632.6,876.0 633.2,875.6 633.8,891.3 634.4,891.9 635.0,881.0 635.6,879.9 636.2,877.1 636.8,875.8 637.4,878.4 638.0,880.6 638.6,879.2 639.2,883.7 639.8,882.7 640.4,879.3 641.0,879.6 641.6,883.3 642.2,884.6 642.8,881.9 643.4,880.5 644.0,887.4 644.6,885.3 645.2,879.4 645.8,877.6 646.4,876.6 647.0,881.3 647.6,878.7 648.2,881.6 648.8,886.4 649.4,882.0 650.0,880.5 650.6,888.5 651.2,885.2 651.8,877.9 652.4,879.0 653.0,881.0 653.6,884.6 654.2,883.5 654.8,886.5 655.4,882.6 656.0,885.5 656.6,887.3 657.2,886.2 657.8,884.4 658.4,880.9 659.0,882.2 659.6,883.6 660.2,881.1 660.8,880.0 661.4,884.9 662.0,888.2 662.6,882.2 663.2,884.0 663.8,885.5 664.4,886.6 665.0,880.3 665.6,878.3 666.2,885.2 666.8,885.7 667.4,882.4 668.0,880.7 668.6,877.3 669.2,877.6 669.8,889.9 670.4,891.3 671.0,884.5 671.6,888.9 672.2,887.3 672.8,886.7 673.4,888.5 674.0,880.4 674.6,879.6 675.2,878.6 675.8,883.4 676.4,886.3 677.0,883.9 677.6,882.0 678.2,879.1 678.8,880.9 679.4,886.9 680.0,886.6 680.6,889.8 681.2,886.5 681.8,882.3 682.4,887.4 683.0,888.0 683.6,888.1 684.2,887.8 684.8,883.3 685.4,877.2 686.0,878.3 686.6,880.4 687.2,883.5 687.8,877.0 688.4,875.6 689.0,879.3 689.6,884.6 690.2,888.8 690.8,880.9 691.4,875.7 692.0,875.0 692.6,877.2 693.2,879.4 693.8,876.0 694.4,875.9 695.0,879.1 695.6,878.0 696.2,878.1 696.8,887.9 697.4,881.5 698.0,876.8 698.6,881.2 699.2,882.6 699.8,884.6 700.4,882.7 701.0,875.8 701.6,874.0 702.2,872.7 702.8,872.2 703.4,879.3 704.0,885.1 704.6,881.3 705.2,875.2 705.8,873.1 706.4,874.1 707.0,883.6 707.6,879.2 708.2,874.8 708.8,872.8 709.4,874.2 710.0,882.6 710.6,875.4 711.2,871.1 711.8,874.9 712.4,874.9 713.0,873.6 713.6,874.5 714.2,871.1 714.8,870.0 715.4,868.1 716.0,868.6 716.6,872.6 717.2,876.8 717.8,875.0 718.4,876.4 719.0,875.1 719.6,877.1 720.2,872.2 720.8,870.4 721.4,872.2 722.0,868.4 722.6,866.8 723.2,866.3 723.8,868.1 724.4,871.6 725.0,868.3 725.6,869.1 726.2,870.7 726.8,869.4 727.4,866.4 728.0,865.6 728.6,865.5 729.2,861.2 729.8,861.6 730.4,861.2 731.0,860.4 731.6,863.0 732.2,863.3 732.8,869.0 733.4,866.7 734.0,864.2 734.6,868.4 735.2,868.4 735.8,865.7 736.4,865.3 737.0,853.3 737.6,857.6 738.2,863.9 738.8,862.6 739.4,860.9 740.0,858.4 740.6,860.2 741.2,867.9 741.8,869.2 742.4,863.7 743.0,858.9 743.6,854.9 744.2,859.5 744.8,861.5 745.4,859.4 746.0,862.3 746.6,856.1 747.2,857.7 747.8,865.4 748.4,860.1 749.0,854.1 749.6,865.2 750.2,865.8 750.8,859.3 751.4,860.2 752.0,860.1 752.6,858.4 753.2,861.4 753.8,861.3 754.4,869.6 755.0,867.8 755.6,861.1 756.2,857.1 756.8,863.2 757.4,864.5 758.0,867.6 758.6,863.6 759.2,859.1 759.8,861.8 760.4,865.8 761.0,864.5 761.6,864.9 762.2,867.4 762.8,867.6 763.4,869.7 764.0,869.0 764.6,873.7 765.2,869.4 765.8,866.5 766.4,868.9 767.0,869.1 767.6,869.7 768.2,868.8 768.8,872.0 769.4,870.9 770.0,868.5 770.6,869.1 771.2,869.8 771.8,873.7 772.4,875.4 773.0,875.6 773.6,872.1 774.2,870.5 774.8,875.9 775.4,874.0 776.0,874.6 776.6,872.1 777.2,869.5 777.8,880.7 778.4,876.5 779.0,868.7 779.6,875.2 780.2,874.2 780.8,870.9 781.4,871.4 782.0,876.9 782.6,879.3 783.2,882.7 783.8,880.7 784.4,876.7 785.0,883.0 785.6,879.5 786.2,879.1 786.8,878.6 787.4,879.1 788.0,881.3 788.6,880.1 789.2,878.4 789.8,879.9 790.4,882.0 791.0,880.4 791.6,874.6 792.2,875.7 792.8,881.8 793.4,882.6 794.0,878.5 794.6,879.3 795.2,883.0 795.8,870.1 796.4,875.6 797.0,885.5 797.6,885.1 798.2,880.3 798.8,882.6 799.4,882.6 800.0,881.6 800.6,882.0 801.2,875.4 801.8,875.5 802.4,878.4 803.0,881.4 803.6,884.7 804.2,884.8 804.8,881.9 805.4,881.6 806.0,879.0 806.6,876.6 807.2,878.3 807.8,880.1 808.4,882.3 809.0,886.7 809.6,887.0 810.2,889.1 810.8,884.0 811.4,881.4 812.0,883.9 812.6,885.6 813.2,882.3 813.8,882.0 814.4,886.2 815.0,884.2 815.6,884.3 816.2,885.2 816.8,883.6 817.4,883.4 818.0,880.9 818.6,882.4 819.2,884.8 819.8,885.5 820.4,884.3 821.0,877.2 821.6,879.6 822.2,889.5 822.8,884.7 823.4,877.6 824.0,882.1 824.6,893.4 825.2,890.4 825.8,883.6 826.4,893.7 827.0,894.0 827.6,884.0 828.2,880.8 828.8,885.9 829.4,893.0 830.0,884.8 830.6,878.6 831.2,880.5 831.8,882.7 832.4,882.1 833.0,874.7 833.6,867.4 834.2,868.7 834.8,873.6 835.4,877.3 836.0,889.2 836.6,887.5 837.2,879.6 837.8,884.8 838.4,885.5 839.0,878.3 839.6,876.9 840.2,883.0 840.8,882.7 841.4,879.2 842.0,880.3 842.6,879.2 843.2,877.3 843.8,877.9 844.4,874.6 845.0,879.4 845.6,880.4 846.2,881.9 846.8,880.6 847.4,884.4 848.0,883.6 848.6,882.6 849.2,882.8 849.8,883.1 850.4,884.9 851.0,884.6 851.6,878.6 852.2,880.6 852.8,876.7 853.4,875.8 854.0,891.5 854.6,889.7 855.2,885.1 855.8,886.5 856.4,883.9 857.0,879.9 857.6,882.9 858.2,878.9 858.8,875.9 859.4,881.3 860.0,882.2 860.6,883.7 861.2,882.5 861.8,880.4 862.4,878.4 863.0,882.5 863.6,886.3 864.2,882.4 864.8,880.5 865.4,889.3 866.0,887.2 866.6,882.6 867.2,884.5 867.8,885.1 868.4,883.5 869.0,881.7 869.6,880.4 870.2,891.1 870.8,889.8 871.4,888.8 872.0,887.6 872.6,884.0 873.2,883.5 873.8,872.0 874.4,878.5 875.0,885.7 875.6,885.1 876.2,883.8 876.8,886.3 877.4,881.6 878.0,882.0 878.6,885.9 879.2,883.6 879.8,885.4 880.4,884.9 881.0,884.1 881.6,883.5 882.2,884.5 882.8,881.7 883.4,884.3 884.0,885.4 884.6,881.5 885.2,880.8 885.8,882.3 886.4,885.0 887.0,882.7 887.6,874.4 888.2,876.0 888.8,877.9 889.4,878.2 890.0,880.7 890.6,883.7 891.2,883.1 891.8,887.4 892.4,886.5 893.0,879.0 893.6,883.5 894.2,883.8 894.8,883.1 895.4,892.2 896.0,891.4 896.6,890.2 897.2,890.2 897.8,884.5 898.4,874.4 899.0,877.6 899.6,886.4 900.2,886.7 900.8,880.7 901.4,886.0 902.0,891.6 902.6,887.9 903.2,884.4 903.8,888.2 904.4,886.9 905.0,882.6 905.6,883.9 906.2,891.7 906.8,894.7 907.4,904.1 908.0,896.8 908.6,888.6 909.2,890.2 909.8,891.9 910.4,891.9 911.0,891.2 911.6,892.4 912.2,890.4 912.8,890.3 913.4,887.6 914.0,889.0 914.6,893.2 915.2,893.6 915.8,893.2 916.4,894.5 917.0,895.3 917.6,894.5 918.2,896.0 918.8,894.3 919.4,891.1 920.0,889.4 920.6,890.3 921.2,892.8 921.8,895.4 922.4,899.5 923.0,900.6 923.6,900.5 924.2,902.2 924.8,896.2 925.4,893.4 926.0,899.6 926.6,902.1 927.2,904.8 927.8,906.8 928.4,897.3 929.0,896.0 929.6,900.9 930.2,899.3 930.8,899.5 931.4,899.3 932.0,894.7 932.6,903.7 933.2,901.8 933.8,897.9 934.4,896.2 935.0,898.7 935.6,903.1 936.2,902.3 936.8,901.0 937.4,900.7 938.0,898.9 938.6,895.9 939.2,895.9 939.8,900.5 940.4,903.7 941.0,899.7 941.6,900.8 942.2,904.0 942.8,902.3 943.4,905.4 944.0,905.4 944.6,901.7 945.2,899.7 945.8,902.7 946.4,909.5 947.0,908.7 947.6,902.8 948.2,903.0 948.8,906.2 949.4,905.0 950.0,905.0 950.6,905.7 951.2,908.0 951.8,906.0 952.4,903.0 953.0,900.3 953.6,902.2 954.2,906.6 954.8,906.3 955.4,911.9 956.0,914.0 956.6,906.5 957.2,903.4 957.8,909.3 958.4,913.7 959.0,914.0 959.6,911.2 960.2,910.2 960.8,910.2 961.4,909.4 962.0,912.6 962.6,911.2 963.2,915.1 963.8,912.3 964.4,912.1 965.0,917.0 965.6,907.6 966.2,912.4 966.8,920.0 967.4,917.7 968.0,916.8 968.6,918.4 969.2,919.4 969.8,920.5 970.4,917.2 971.0,919.7 971.6,923.4 972.2,919.4 972.8,916.9 973.4,917.9 974.0,917.5 974.6,916.3 975.2,919.3 975.8,916.1 976.4,920.2 977.0,920.3 977.6,920.7 978.2,925.1 978.8,919.7 979.4,915.6 980.0,924.2 980.6,925.5 981.2,920.3 981.8,917.9 982.4,923.2 983.0,926.6 983.6,921.3 984.2,917.5 984.8,920.6 985.4,925.7 986.0,922.1 986.6,922.8 987.2,925.5 987.8,919.7 988.4,921.9 989.0,924.7 989.6,921.6 990.2,924.9 990.8,924.4 991.4,920.9 992.0,917.8 992.6,917.9 993.2,921.6 993.8,925.9 994.4,924.8 995.0,926.8 995.6,927.4 996.2,929.6 996.8,931.9 997.4,923.6 998.0,919.8 998.6,924.2 999.2,930.6 999.8,928.2 1000.4,931.8 1001.0,934.6 1001.6,929.4 1002.2,928.5 1002.8,932.3 1003.4,930.3 1004.0,933.6 1004.6,930.5 1005.2,924.4 1005.8,925.6 1006.4,928.5 1007.0,930.3 1007.6,929.1 1008.2,928.3 1008.8,934.1 1009.4,932.4 1010.0,929.6 1010.6,930.7 1011.2,926.8 1011.8,927.9 1012.4,931.9 1013.0,932.2 1013.6,936.1 1014.2,935.8 1014.8,930.2 1015.4,931.7 1016.0,930.9 1016.6,927.7 1017.2,932.3 1017.8,935.3 1018.4,931.4 1019.0,934.2 1019.6,932.0 1020.2,926.0 1020.8,927.2 1021.4,933.9 1022.0,935.4 1022.6,931.7 1023.2,929.5 1023.8,926.4 1024.4,928.7 1025.0,932.8 1025.6,936.9 1026.2,935.0 1026.8,936.7 1027.4,939.7 1028.0,935.9 1028.6,937.8 1029.2,942.5 1029.8,941.7 1030.4,936.1 1031.0,937.6 1031.6,940.5 1032.2,937.9 1032.8,936.5 1033.4,936.2 1034.0,941.5 1034.6,936.7 1035.2,933.2 1035.8,936.1 1036.4,943.6 1037.0,942.4 1037.6,939.5 1038.2,940.1 1038.8,937.4 1039.4,938.1 1040.0,936.1 1040.6,939.0 1041.2,939.3 1041.8,939.8 1042.4,942.1 1043.0,942.1 1043.6,939.4 1044.2,944.1 1044.8,945.5 1045.4,938.5 1046.0,938.1 1046.6,941.4 1047.2,939.6 1047.8,940.5 1048.4,945.2 1049.0,944.8 1049.6,940.5 1050.2,940.5 1050.8,943.8 1051.4,947.0 1052.0,945.8 1052.6,949.4 1053.2,947.3 1053.8,939.8 1054.4,942.6 1055.0,947.1 1055.6,938.1 1056.2,939.5 1056.8,944.3 1057.4,942.0 1058.0,941.9 1058.6,942.7 1059.2,945.8 1059.8,941.2 1060.4,943.0 1061.0,945.6 1061.6,944.6 1062.2,945.5 1062.8,945.6 1063.4,938.0 1064.0,938.4 1064.6,942.1 1065.2,945.0 1065.8,947.1 1066.4,950.8 1067.0,949.5 1067.6,943.4 1068.2,943.3 1068.8,944.9 1069.4,944.1 1070.0,946.9 1070.6,945.2 1071.2,943.9 1071.8,945.5 1072.4,945.9 1073.0,946.0 1073.6,946.0 1074.2,950.6 1074.8,951.4 1075.4,953.6 1076.0,962.0 1076.6,957.3 1077.2,950.1 1077.8,949.2 1078.4,949.8 1079.0,949.3 1079.6,946.1 1080.2,946.6 1080.8,944.5 1081.4,945.1 1082.0,945.3 1082.6,945.3 1083.2,950.4 1083.8,951.4 1084.4,945.3 1085.0,940.4 1085.6,943.2 1086.2,954.5 1086.8,949.7 1087.4,941.8 1088.0,943.5 1088.6,950.0 1089.2,949.6 1089.8,947.5 1090.4,951.7 1091.0,948.3 1091.6,950.8 1092.2,951.4 1092.8,954.0 1093.4,956.0 1094.0,953.8 1094.6,951.3 1095.2,951.5 1095.8,951.5 1096.4,950.8 1097.0,956.9 1097.6,956.9 1098.2,953.9 1098.8,955.1 1099.4,954.4 1100.0,952.3 1100.6,953.6 1101.2,952.4 1101.8,949.0 1102.4,951.7 1103.0,939.4 1103.6,940.3 1104.2,951.9 1104.8,952.6 1105.4,947.7 1106.0,948.5 1106.6,950.7 1107.2,949.8 1107.8,952.8 1108.4,950.9 1109.0,949.7 1109.6,951.9 1110.2,957.8 1110.8,958.8 1111.4,954.0 1112.0,951.9 1112.6,955.4 1113.2,956.5 1113.8,953.3 1114.4,951.5 1115.0,953.6 1115.6,954.3 1116.2,955.0 1116.8,955.9 1117.4,954.4 1118.0,957.4 1118.6,957.0 1119.2,958.9 1119.8,956.8 1120.4,950.2 1121.0,950.9 1121.6,951.2 1122.2,954.2 1122.8,951.7 1123.4,954.6 1124.0,956.4 1124.6,955.8 1125.2,956.6 1125.8,956.2 1126.4,955.4 1127.0,953.8 1127.6,955.4 1128.2,956.9 1128.8,969.4 1129.4,966.2 1130.0,956.1 1130.6,955.5 1131.2,957.5 1131.8,956.1 1132.4,954.3 1133.0,953.0 1133.6,956.1 1134.2,956.1 1134.8,956.1 1135.4,960.4 1136.0,961.5 1136.6,959.5 1137.2,958.4 1137.8,953.3 1138.4,954.1 1139.0,954.7 1139.6,960.0 1140.2,960.2 1140.8,956.7 1141.4,953.0 1142.0,955.4 1142.6,956.7 1143.2,957.4 1143.8,955.6 1144.4,953.0 1145.0,954.8 1145.6,954.3 1146.2,955.9 1146.8,958.8 1147.4,958.6 1148.0,958.3 1148.6,963.4 1149.2,963.6 1149.8,963.2 1150.4,962.8 1151.0,962.0 1151.6,964.4 1152.2,960.7 1152.8,957.2 1153.4,958.4 1154.0,957.1 1154.6,960.7 1155.2,964.4 1155.8,963.5 1156.4,959.0 1157.0,962.8 1157.6,962.0 1158.2,960.2 1158.8,963.0 1159.4,963.8 1160.0,969.6 1160.6,970.7 1161.2,964.6 1161.8,961.5 1162.4,965.5 1163.0,962.2 1163.6,964.8 1164.2,964.7 1164.8,961.0 1165.4,963.8 1166.0,963.9 1166.6,963.8 1167.2,966.3 1167.8,971.5 1168.4,968.7 1169.0,965.8 1169.6,964.2 1170.2,966.6 1170.8,962.8 1171.4,964.8 1172.0,966.6 1172.6,968.1 1173.2,968.3 1173.8,963.5 1174.4,969.5 1175.0,971.3 1175.6,965.5 1176.2,963.1 1176.8,962.6 1177.4,966.3 1178.0,969.8 1178.6,964.3 1179.2,963.9 1179.8,967.5 1180.4,967.3 1181.0,965.4 1181.6,962.0 1182.2,964.3 1182.8,967.5 1183.4,966.0 1184.0,962.6 1184.6,964.8 1185.2,967.1 1185.8,969.2 1186.4,969.1 1187.0,965.3 1187.6,965.6 1188.2,966.2 1188.8,969.5 1189.4,969.8 1190.0,970.1 1190.6,971.3 1191.2,968.6 1191.8,966.7 1192.4,966.0 1193.0,965.9 1193.6,968.2 1194.2,969.1 1194.8,971.5 1195.4,974.0 1196.0,971.1 1196.6,969.3 1197.2,969.8 1197.8,970.6 1198.4,969.8 1199.0,968.9 1199.6,971.2 1200.2,968.4 1200.8,963.9 1201.4,970.5 1202.0,974.8 1202.6,970.7 1203.2,966.9 1203.8,968.0 1204.4,972.7 1205.0,971.0 1205.6,967.7 1206.2,967.0 1206.8,964.2 1207.4,968.3 1208.0,970.2 1208.6,972.5 1209.2,970.3 1209.8,963.2 1210.4,963.8 1211.0,964.9 1211.6,968.9 1212.2,970.8 1212.8,969.1 1213.4,966.4 1214.0,969.0 1214.6,970.2 1215.2,972.2 1215.8,974.6 1216.4,973.0 1217.0,971.8 1217.6,968.2 1218.2,967.3 1218.8,970.1 1219.4,972.6 1220.0,976.4 1220.6,975.9 1221.2,974.1 1221.8,972.4 1222.4,973.5 1223.0,973.4 1223.6,971.1 1224.2,968.7 1224.8,972.4 1225.4,972.8 1226.0,971.1 1226.6,974.1 1227.2,971.7 1227.8,974.5 1228.4,977.1 1229.0,974.9 1229.6,972.1 1230.2,972.7 1230.8,974.9 1231.4,976.7 1232.0,969.7 1232.6,969.9 1233.2,973.0 1233.8,970.4 1234.4,969.8 1235.0,973.9 1235.6,974.0 1236.2,972.4 1236.8,975.8 1237.4,975.9 1238.0,969.6 1238.6,970.9 1239.2,972.3 1239.8,971.4 1240.4,971.9 1241.0,967.9 1241.6,970.6 1242.2,972.5 1242.8,971.2 1243.4,976.6 1244.0,974.2 1244.6,973.7 1245.2,976.2 1245.8,974.1 1246.4,975.0 1247.0,974.4 1247.6,970.8 1248.2,968.7 1248.8,973.3 1249.4,975.2 1250.0,976.7 1250.6,967.1 1251.2,968.8 1251.8,976.4 1252.4,977.8 1253.0,976.8 1253.6,977.4 1254.2,978.5 1254.8,977.3 1255.4,974.1 1256.0,968.8 1256.6,970.3 1257.2,975.0 1257.8,971.3 1258.4,969.6 1259.0,972.7 1259.6,972.8 1260.2,965.4 1260.8,961.0 1261.4,965.6 1262.0,966.5 1262.6,963.1 1263.2,967.7 1263.8,970.8 1264.4,969.0 1265.0,967.4 1265.6,967.6 1266.2,971.5 1266.8,968.0 1267.4,963.7 1268.0,966.1 1268.6,969.8 1269.2,976.2 1269.8,971.6 1270.4,968.6 1271.0,972.0 1271.6,967.9 1272.2,973.1 1272.8,983.2 1273.4,975.5 1274.0,979.1 1274.6,980.3 1275.2,975.0 1275.8,980.8 1276.4,978.9 1277.0,972.2 1277.6,971.3 1278.2,970.4 1278.8,970.9 1279.4,975.9 1280.0,979.5 1280.6,980.2 1281.2,979.7 1281.8,980.1 1282.4,977.4 1283.0,977.9 1283.6,979.4 1284.2,976.6 1284.8,977.9 1285.4,978.0 1286.0,977.2 1286.6,977.7 1287.2,979.6 1287.8,976.9 1288.4,975.2 1289.0,975.7 1289.6,980.3 1290.2,979.7 1290.8,978.4 1291.4,983.5 1292.0,983.3 1292.6,983.7 1293.2,982.4 1293.8,980.4 1294.4,979.6 1295.0,976.9 1295.6,973.3 1296.2,981.1 1296.8,983.7 1297.4,978.7 1298.0,976.4 1298.6,972.8 1299.2,976.2 1299.8,977.3 1300.4,977.7 1301.0,982.6 1301.6,976.1 1302.2,979.5 1302.8,981.7 1303.4,977.4 1304.0,979.6 1304.6,984.4 1305.2,982.9 1305.8,979.7 1306.4,977.8 1307.0,980.3 1307.6,981.9 1308.2,982.1 1308.8,980.8 1309.4,980.9 1310.0,981.8 1310.6,981.0 1311.2,978.9 1311.8,980.0 1312.4,981.1 1313.0,980.8 1313.6,982.3 1314.2,983.2 1314.8,977.6 1315.4,976.0 1316.0,978.4 1316.6,982.9 1317.2,984.4 1317.8,985.8 1318.4,992.1 1319.0,979.9 1319.6,974.1 1320.2,979.9 1320.8,982.2 1321.4,982.3 1322.0,982.3 1322.6,984.5 1323.2,984.5 1323.8,985.7 1324.4,988.6 1325.0,987.9 1325.6,980.7 1326.2,981.2 1326.8,987.6 1327.4,984.5 1328.0,978.8 1328.6,982.8 1329.2,987.7 1329.8,986.3 1330.4,985.0 1331.0,987.1 1331.6,986.7 1332.2,982.8 1332.8,983.2 1333.4,985.3 1334.0,986.1 1334.6,987.0 1335.2,990.8 1335.8,988.5 1336.4,982.7 1337.0,983.6 1337.6,985.6 1338.2,981.0 1338.8,980.4 1339.4,981.6 1340.0,987.6 1340.6,985.5 1341.2,986.0 1341.8,985.8 1342.4,982.2 1343.0,984.6 1343.6,991.2 1344.2,986.8 1344.8,983.1 1345.4,979.9 1346.0,984.6 1346.6,991.2 1347.2,986.7 1347.8,983.8 1348.4,981.7 1349.0,983.2 1349.6,986.0 1350.2,984.2 1350.8,985.7 1351.4,987.7 1352.0,989.5 1352.6,985.5 1353.2,986.0 1353.8,982.6 1354.4,981.7 1355.0,983.6 1355.6,987.1 1356.2,987.1 1356.8,988.6 1357.4,987.8 1358.0,987.1 1358.6,986.5 1359.2,986.6 1359.8,986.5 1360.4,987.5 1361.0,987.6 1361.6,988.4 1362.2,991.3 1362.8,988.2 1363.4,984.5 1364.0,983.4 1364.6,984.8 1365.2,989.1 1365.8,990.4 1366.4,986.8 1367.0,985.7 1367.6,985.7 1368.2,990.6 1368.8,990.5 1369.4,985.8 1370.0,981.2 1370.6,985.1 1371.2,988.8 1371.8,984.7 1372.4,986.2 1373.0,991.3 1373.6,991.9 1374.2,991.0 1374.8,987.9 1375.4,988.4 1376.0,989.0 1376.6,985.4 1377.2,986.1 1377.8,987.3 1378.4,986.2 1379.0,987.0 1379.6,985.7 1380.2,986.1 1380.8,987.0 1381.4,990.4 1382.0,991.1 1382.6,986.8 1383.2,988.7 1383.8,987.9 1384.4,987.1 1385.0,989.1 1385.6,985.0 1386.2,987.7 1386.8,992.1 1387.4,989.5 1388.0,986.6 1388.6,989.2 1389.2,988.0 1389.8,988.7 1390.4,990.0 1391.0,986.5 1391.6,984.0 1392.2,988.3 1392.8,991.8 1393.4,990.8 1394.0,985.9 1394.6,991.0 1395.2,992.5 1395.8,991.1 1396.4,990.1 1397.0,989.2 1397.6,988.9 1398.2,990.5 1398.8,989.7 1399.4,990.4 1400.0,989.7 1400.6,988.2 1401.2,986.1 1401.8,984.4 1402.4,989.0 1403.0,992.1 1403.6,989.1 1404.2,985.4 1404.8,990.4 1405.4,993.2 1406.0,992.2 1406.6,990.6 1407.2,988.6 1407.8,988.4 1408.4,989.8 1409.0,989.1 1409.6,991.9 1410.2,992.2 1410.8,990.1 1411.4,992.6 1412.0,990.6 1412.6,985.5 1413.2,986.4 1413.8,989.7 1414.4,991.5 1415.0,989.3 1415.6,986.8 1416.2,989.8 1416.8,991.3 1417.4,989.8 1418.0,987.9 1418.6,989.8 1419.2,991.5 1419.8,991.6 1420.4,990.2 1421.0,987.8 1421.6,991.6 1422.2,990.7 1422.8,989.7 1423.4,987.2 1424.0,988.1 1424.6,989.3 1425.2,991.1 1425.8,993.4 1426.4,998.2 1427.0,1000.8 1427.6,993.8 1428.2,989.0 1428.8,990.7 1429.4,992.1 1430.0,994.2 1430.6,995.8 1431.2,990.8 1431.8,990.7 1432.4,993.6 1433.0,991.9 1433.6,995.0 1434.2,991.8 1434.8,989.9 1435.4,988.3 1436.0,988.8 1436.6,991.2 1437.2,991.9 1437.8,992.2 1438.4,993.0 1439.0,989.5 1439.6,988.7 1440.2,993.1 1440.8,991.7 1441.4,993.9 1442.0,992.2 1442.6,989.6 1443.2,987.1 1443.8,993.9 1444.4,992.6 1445.0,991.4 1445.6,993.1 1446.2,988.0 1446.8,987.8 1447.4,988.1 1448.0,986.8 1448.6,989.7 1449.2,994.2 1449.8,991.6 1450.4,989.9 1451.0,988.7 1451.6,990.9 1452.2,991.4 1452.8,989.4 1453.4,989.5 1454.0,992.5 1454.6,991.7 1455.2,991.9 1455.8,993.0 1456.4,987.4 1457.0,986.0 1457.6,990.4 1458.2,987.3 1458.8,988.5 1459.4,990.6 1460.0,994.2 1460.6,989.8 1461.2,985.2 1461.8,989.3 1462.4,990.0 1463.0,989.4 1463.6,990.0 1464.2,990.6 1464.8,991.7 1465.4,990.7 1466.0,991.5 1466.6,990.9 1467.2,989.9 1467.8,990.1 1468.4,987.1 1469.0,990.2 1469.6,991.0 1470.2,990.4 1470.8,991.6 1471.4,988.6 1472.0,989.2 1472.6,989.5 1473.2,990.7 1473.8,991.5 1474.4,996.2 1475.0,995.1 1475.6,987.7 1476.2,989.1 1476.8,991.2 1477.4,989.2 1478.0,987.6 1478.6,990.1 1479.2,992.5 1479.8,988.5 1480.4,991.2 1481.0,993.4 1481.6,989.7 1482.2,990.8 1482.8,994.3 1483.4,994.3 1484.0,992.4 1484.6,992.5 1485.2,994.8 1485.8,991.7 1486.4,994.0 1487.0,993.9 1487.6,990.2 1488.2,989.9 1488.8,987.8 1489.4,990.7 1490.0,991.2 1490.6,990.6 1491.2,993.8 1491.8,994.6 1492.4,996.1 1493.0,992.3 1493.6,991.3 1494.2,995.0 1494.8,993.7 1495.4,991.3 1496.0,989.8 1496.6,991.7 1497.2,991.5 1497.8,991.2 1498.4,987.1 1499.0,989.8 1499.6,994.0 1500.2,994.1 1500.8,995.6 1501.4,996.8 1502.0,994.6 1502.6,996.2 1503.2,992.8 1503.8,996.0 1504.4,992.8 1505.0,991.1 1505.6,995.3 1506.2,996.0 1506.8,997.1 1507.4,999.8 1508.0,996.9 1508.6,992.0 1509.2,993.9 1509.8,994.8 1510.4,993.4 1511.0,996.8 1511.6,995.5 1512.2,995.5 1512.8,996.1 1513.4,995.2 1514.0,992.4 1514.6,993.3 1515.2,994.0 1515.8,994.2 1516.4,994.7 1517.0,996.0 1517.6,994.9 1518.2,990.4 1518.8,991.2 1519.4,992.9 1520.0,993.0 1520.6,995.7 1521.2,992.1 1521.8,990.2 1522.4,988.6 1523.0,988.8 1523.6,991.9 1524.2,991.1 1524.8,992.7 1525.4,991.4 1526.0,991.4 1526.6,989.6 1527.2,991.7 1527.8,994.0 1528.4,998.3 1529.0,995.2 1529.6,992.4 1530.2,991.7 1530.8,996.2 1531.4,994.9 1532.0,990.3 1532.6,994.8 1533.2,998.3 1533.8,996.5 1534.4,993.9 1535.0,992.2 1535.6,992.5 1536.2,992.8 1536.8,993.9 1537.4,993.6 1538.0,989.7 1538.6,991.8 1539.2,993.4 1539.8,990.9 1540.4,989.5 1541.0,988.2 1541.6,990.5 1542.2,992.2 1542.8,991.9 1543.4,988.1 1544.0,991.5 1544.6,987.9 1545.2,988.1 1545.8,990.9 1546.4,992.8 1547.0,989.0 1547.6,986.9 1548.2,988.6 1548.8,989.3 1549.4,988.6 1550.0,989.2 1550.6,990.0 1551.2,994.7 1551.8,995.3 1552.4,990.9 1553.0,990.5 1553.6,990.6 1554.2,992.7 1554.8,996.1 1555.4,997.1 1556.0,992.6 1556.6,988.9 1557.2,990.2 1557.8,992.6 1558.4,988.6 1559.0,981.0 1559.6,985.9 1560.2,992.6 1560.8,992.9 1561.4,985.4 1562.0,984.9 1562.6,985.3 1563.2,986.7 1563.8,992.1 1564.4,990.5 1565.0,989.6 1565.6,991.7 1566.2,990.5 1566.8,989.8 1567.4,990.7 1568.0,993.2 1568.6,991.3 1569.2,991.6 1569.8,990.8 1570.4,989.5 1571.0,991.6 1571.6,992.2 1572.2,994.2 1572.8,992.3 1573.4,990.1 1574.0,991.8 1574.6,991.7 1575.2,996.2 1575.8,1000.8 1576.4,996.9 1577.0,992.9 1577.6,992.3 1578.2,995.3 1578.8,995.7 1579.4,993.2 1580.0,988.8 1580.6,989.5 1581.2,990.3 1581.8,994.1 1582.4,993.2 1583.0,995.3 1583.6,990.7 1584.2,986.8 1584.8,989.5 1585.4,988.2 1586.0,989.4 1586.6,992.3 1587.2,990.8 1587.8,991.6 1588.4,992.7 1589.0,991.3 1589.6,988.9 1590.2,992.8 1590.8,992.1 1591.4,994.8 1592.0,993.4 1592.6,985.2 1593.2,992.7 1593.8,994.6 1594.4,992.4 1595.0,991.0 1595.6,989.9 1596.2,990.1 1596.8,988.5 1597.4,987.5 1598.0,990.2 1598.6,993.7 1599.2,995.0 1599.8,994.8 1600.4,993.2 1601.0,994.4 1601.6,994.1 1602.2,992.8 1602.8,992.9 1603.4,995.4 1604.0,993.3 1604.6,989.3 1605.2,992.8 1605.8,990.8 1606.4,986.3 1607.0,990.9 1607.6,992.8 1608.2,991.4 1608.8,991.0 1609.4,991.9 1610.0,993.2 1610.6,992.4 1611.2,991.8 1611.8,994.6 1612.4,996.2 1613.0,993.0 1613.6,993.0 1614.2,992.8 1614.8,993.5 1615.4,994.5 1616.0,999.2 1616.6,996.1 1617.2,989.9 1617.8,990.0 1618.4,990.6 1619.0,989.6 1619.6,992.8 1620.2,993.3 1620.8,998.1 1621.4,993.4 1622.0,987.3 1622.6,993.7 1623.2,994.3 1623.8,989.3 1624.4,995.1 1625.0,994.5 1625.6,990.8 1626.2,993.0 1626.8,992.5 1627.4,991.0 1628.0,996.3 1628.6,998.0 1629.2,992.1 1629.8,992.8 1630.4,994.9 1631.0,988.9 1631.6,987.7 1632.2,990.3 1632.8,988.3 1633.4,990.0 1634.0,996.0 1634.6,997.3 1635.2,996.0 1635.8,989.7 1636.4,989.9 1637.0,999.0 1637.6,998.5 1638.2,996.4 1638.8,993.9 1639.4,991.6 1640.0,991.6 1640.6,993.9 1641.2,991.5 1641.8,992.7 1642.4,987.2 1643.0,989.6 1643.6,994.0 1644.2,991.1 1644.8,994.1 1645.4,998.5 1646.0,996.4 1646.6,993.5 1647.2,993.1 1647.8,992.1 1648.4,990.7 1649.0,993.3 1649.6,996.0 1650.2,996.5 1650.8,996.3 1651.4,994.3 1652.0,996.8 1652.6,999.3 1653.2,997.8 1653.8,996.1 1654.4,994.7 1655.0,1000.6 1655.6,999.5 1656.2,992.5 1656.8,994.1 1657.4,993.6 1658.0,993.4 1658.6,994.3 1659.2,995.2 1659.8,994.7 1660.4,995.7"/>
<polyline stroke="#00FF00" points="264.2,661.8 264.8,661.9 265.4,662.5 266.0,661.4 266.6,663.0 267.2,659.6 267.8,653.8 268.4,656.2 269.0,650.3 269.6,647.5 270.2,638.8 270.8,636.4 271.4,635.8 272.0,636.1 272.6,634.1 273.2,628.5 273.8,632.6 274.4,630.2 275.0,624.5 275.6,628.3 276.2,627.8 276.8,623.4 277.4,621.2 278.0,622.4 278.6,620.4 279.2,614.5 279.8,610.9 280.4,608.8 281.0,609.4 281.6,612.8 282.2,617.4 282.8,603.4 283.4,600.7 284.0,602.0 284.6,610.2 285.2,609.2 285.8,606.1 286.4,601.5 287.0,599.1 287.6,598.8 288.2,589.7 288.8,587.7 289.4,591.1 290.0,589.7 290.6,586.7 291.2,584.3 291.8,579.6 292.4,585.5 293.0,587.0 293.6,582.0 294.2,583.3 294.8,586.2 295.4,587.9 296.0,588.7 296.6,581.9 297.2,577.3 297.8,575.3 298.4,574.2 299.0,579.5 299.6,585.8 300.2,577.6 300.8,575.9 301.4,582.5 302.0,579.8 302.6,578.0 303.2,576.4 303.8,570.4 304.4,570.3 305.0,569.5 305.6,564.2 306.2,565.6 306.8,563.9 307.4,563.5 308.0,571.4 308.6,571.4 309.2,563.8 309.8,562.9 310.4,566.4 311.0,559.2 311.6,564.7 312.2,568.0 312.8,562.6 313.4,563.5 314.0,565.7 314.6,567.5 315.2,567.6 315.8,567.8 316.4,570.6 317.0,569.0 317.6,570.8 318.2,565.4 318.8,559.3 319.4,561.7 320.0,558.8 320.6,566.3 321.2,569.4 321.8,569.0 322.4,570.1 323.0,566.1 323.6,563.2 324.2,565.7 324.8,571.5 325.4,572.8 326.0,573.1 326.6,577.6 327.2,573.1 327.8,566.5 328.4,579.8 329.0,581.8 329.6,577.5 330.2,578.8 330.8,570.9 331.4,572.9 332.0,579.0 332.6,577.5 333.2,576.5 333.8,575.0 334.4,579.0 335.0,581.1 335.6,583.3 336.2,575.5 336.8,576.5 337.4,577.6 338.0,575.2 338.6,581.1 339.2,576.2 339.8,578.7 340.4,580.0 341.0,578.7 341.6,583.4 342.2,581.1 342.8,587.2 343.4,592.1 344.0,591.3 344.6,595.4 345.2,599.3 345.8,598.6 346.4,599.9 347.0,600.8 347.6,599.2 348.2,607.0 348.8,613.9 349.4,596.1 350.0,595.5 350.6,610.7 351.2,608.8 351.8,615.5 352.4,622.5 353.0,621.1 353.6,616.6 354.2,619.5 354.8,616.9 355.4,619.5 356.0,624.0 356.6,627.5 357.2,633.1 357.8,628.0 358.4,621.0 359.0,623.9 359.6,626.7 360.2,628.1 360.8,623.9 361.4,622.9 362.0,620.0 362.6,630.5 363.2,633.7 363.8,634.9 364.4,639.2 365.0,636.9 365.6,639.3 366.2,639.3 366.8,643.5 367.4,643.7 368.0,639.6 368.6,639.1 369.2,636.3 369.8,637.9 370.4,641.6 371.0,636.8 371.6,630.2 372.2,638.1 372.8,635.4 373.4,640.0 374.0,641.5 374.6,629.8 375.2,634.4 375.8,640.8 376.4,633.1 377.0,639.0 377.6,643.6 378.2,639.6 378.8,647.2 379.4,647.8 380.0,643.1 380.6,636.4 381.2,640.8 381.8,647.5 382.4,639.1 383.0,634.5 383.6,641.1 384.2,645.5 384.8,642.2 385.4,646.9 386.0,645.5 386.6,648.4 387.2,651.8 387.8,645.2 388.4,643.9 389.0,644.9 389.6,645.7 390.2,645.9 390.8,646.0 391.4,647.2 392.0,645.8 392.6,656.7 393.2,660.2 393.8,656.3 394.4,640.0 395.0,643.5 395.6,655.8 396.2,651.0 396.8,647.3 397.4,660.4 398.0,651.4 398.6,644.3 399.2,644.7 399.8,644.7 400.4,647.1 401.0,641.3 401.6,645.3 402.2,640.9 402.8,639.4 403.4,640.7 404.0,638.8 404.6,642.9 405.2,646.2 405.8,641.8 406.4,637.3 407.0,641.0 407.6,640.0 408.2,633.4 408.8,638.2 409.4,639.2 410.0,635.4 410.6,632.3 411.2,632.0 411.8,633.1 412.4,631.4 413.0,639.3 413.6,644.6 414.2,638.3 414.8,632.3 415.4,629.5 416.0,633.4 416.6,640.7 417.2,641.2 417.8,631.1 418.4,630.8 419.0,632.2 419.6,625.6 420.2,628.5 420.8,642.3 421.4,635.5 422.0,628.6 422.6,625.8 423.2,629.8 423.8,631.5 424.4,629.4 425.0,628.3 425.6,634.3 426.2,635.8 426.8,630.2 427.4,626.0 428.0,626.7 428.6,634.0 429.2,635.2 429.8,641.4 430.4,637.3 431.0,632.1 431.6,629.5 432.2,629.8 432.8,626.9 433.4,623.9 434.0,623.3 434.6,638.9 435.2,635.7 435.8,628.6 436.4,627.1 437.0,631.6 437.6,627.4 438.2,623.7 438.8,630.3 439.4,625.4 440.0,622.4 440.6,622.9 441.2,608.9 441.8,612.9 442.4,634.2 443.0,636.7 443.6,634.2 444.2,630.2 444.8,626.0 445.4,629.5 446.0,627.8 446.6,632.5 447.2,628.0 447.8,621.3 448.4,628.6 449.0,624.1 449.6,626.6 450.2,627.0 450.8,621.5 451.4,624.2 452.0,630.8 452.6,633.4 453.2,630.0 453.8,632.7 454.4,629.4 455.0,626.8 455.6,629.2 456.2,627.9 456.8,628.0 457.4,625.5 458.0,632.8 458.6,638.2 459.2,633.2 459.8,630.8 460.4,640.0 461.0,637.9 461.6,623.3 462.2,619.4 462.8,626.0 463.4,631.7 464.0,634.5 464.6,632.0 465.2,629.6 465.8,627.8 466.4,629.1 467.0,627.0 467.6,630.7 468.2,631.5 468.8,626.9 469.4,630.5 470.0,633.2 470.6,632.8 471.2,638.0 471.8,638.4 472.4,626.4 473.0,626.0 473.6,634.3 474.2,632.8 474.8,633.3 475.4,629.9 476.0,626.2 476.6,630.6 477.2,629.0 477.8,625.0 478.4,624.4 479.0,627.1 479.6,622.1 480.2,626.2 480.8,634.4 481.4,624.1 482.0,624.9 482.6,633.6 483.2,631.6 483.8,636.4 484.4,641.5 485.0,630.2 485.6,622.3 486.2,627.5 486.8,630.7 487.4,623.9 488.0,634.3 488.6,638.4 489.2,627.4 489.8,624.5 490.4,622.8 491.0,621.1 491.6,626.1 492.2,631.7 492.8,628.5 493.4,622.5 494.0,618.8 494.6,616.6 495.2,618.5 495.8,621.6 496.4,611.6 497.0,614.9 497.6,618.2 498.2,612.2 498.8,616.6 499.4,614.8 500.0,619.8 500.6,615.6 501.2,609.9 501.8,612.4 502.4,613.2 503.0,613.6 503.6,604.9 504.2,599.9 504.8,603.5 505.4,613.5 506.0,605.7 506.6,593.9 507.2,596.7 507.8,591.0 508.4,593.7 509.0,591.6 509.6,589.3 510.2,583.0 510.8,586.1 511.4,589.7 512.0,584.0 512.6,576.2 513.2,576.0 513.8,571.5 514.4,570.9 515.0,572.6 515.6,570.8 516.2,561.9 516.8,559.1 517.4,552.8 518.0,548.5 518.6,544.2 519.2,545.4 519.8,544.3 520.4,533.3 521.0,531.3 521.6,526.7 522.2,518.5 522.8,516.3 523.4,509.2 524.0,504.3 524.6,505.7 525.2,500.2 525.8,498.5 526.4,491.7 527.0,490.2 527.6,494.2 528.2,481.7 528.8,470.6 529.4,462.2 530.0,453.9 530.6,451.7 531.2,449.6 531.8,447.9 532.4,442.1 533.0,440.7 533.6,433.0 534.2,429.1 534.8,427.6 535.4,418.5 536.0,411.0 536.6,408.7 537.2,401.7 537.8,394.9 538.4,393.1 539.0,384.9 539.6,384.1 540.2,379.0 540.8,374.9 541.4,370.8 542.0,363.7 542.6,358.2 543.2,354.7 543.8,350.2 544.4,344.5 545.0,341.0 545.6,336.0 546.2,333.6 546.8,329.9 547.4,329.8 548.0,327.2 548.6,317.9 549.2,314.1 549.8,313.9 550.4,310.8 551.0,307.3 551.6,304.3 552.2,301.8 552.8,297.3 553.4,295.5 554.0,296.6 554.6,296.7 555.2,298.2 555.8,302.7 556.4,307.8 557.0,312.2 557.6,313.9 558.2,316.3 558.8,320.6 559.4,322.1 560.0,323.8 560.6,329.4 561.2,329.9 561.8,329.9 562.4,332.4 563.0,336.8 563.6,341.6 564.2,346.6 564.8,353.8 565.4,362.5 566.0,370.6 566.6,376.5 567.2,383.2 567.8,390.7 568.4,405.6 569.0,411.9 569.6,421.2 570.2,433.3 570.8,437.9 571.4,445.0 572.0,456.5 572.6,464.8 573.2,466.7 573.8,487.1 574.4,503.1 575.0,504.9 575.6,511.7 576.2,524.7 576.8,537.5 577.4,531.3 578.0,532.0 578.6,545.2 579.2,550.1 579.8,554.7 580.4,562.4 581.0,578.3 581.6,581.6 582.2,579.1 582.8,583.1 583.4,585.1 584.0,594.5 584.6,594.8 585.2,596.1 585.8,606.6 586.4,616.5 587.0,617.9 587.6,615.2 588.2,615.9 588.8,625.2 589.4,632.8 590.0,630.5 590.6,636.8 591.2,641.5 591.8,641.7 592.4,646.1 593.0,648.8 593.6,646.7 594.2,653.8 594.8,662.0 595.4,663.3 596.0,666.0 596.6,663.7 597.2,663.7 597.8,664.4 598.4,661.0 599.0,669.5 599.6,680.1 600.2,679.5 600.8,683.3 601.4,681.4 602.0,685.1 602.6,677.5 603.2,674.8 603.8,684.7 604.4,687.9 605.0,684.9 605.6,685.5 606.2,689.8 606.8,700.2 607.4,685.8 608.0,676.2 608.6,682.1 609.2,694.1 609.8,695.6 610.4,693.9 611.0,695.6 611.6,698.7 612.2,698.0 612.8,693.9 613.4,695.4 614.0,699.0 614.6,699.0 615.2,700.6 615.8,702.0 616.4,700.3 617.0,704.5 617.6,710.5 618.2,706.8 618.8,705.5 619.4,708.2 620.0,710.8 620.6,709.3 621.2,703.5 621.8,698.0 622.4,692.9 623.0,695.5 623.6,700.9 624.2,703.7 624.8,704.5 625.4,703.1 626.0,700.3 626.6,703.0 627.2,701.1 627.8,706.2 628.4,717.9 629.0,709.8 629.6,709.4 630.2,704.9 630.8,700.8 631.4,706.4 632.0,710.0 632.6,705.9 633.2,700.2 633.8,698.8 634.4,706.8 635.0,706.3 635.6,709.7 636.2,709.1 636.8,703.6 637.4,706.7 638.0,710.2 638.6,708.1 639.2,702.4 639.8,697.4 640.4,696.8 641.0,699.2 641.6,700.8 642.2,703.8 642.8,701.2 643.4,700.4 644.0,702.1 644.6,701.9 645.2,697.5 645.8,709.5 646.4,703.4 647.0,698.9 647.6,698.2 648.2,695.5 648.8,701.3 649.4,704.4 650.0,696.9 650.6,695.1 651.2,700.2 651.8,700.3 652.4,696.4 653.0,694.8 653.6,696.1 654.2,695.0 654.8,684.9 655.4,692.6 656.0,695.8 656.6,691.6 657.2,695.6 657.8,699.1 658.4,699.1 659.0,693.4 659.6,690.1 660.2,694.3 660.8,700.2 661.4,696.8 662.0,699.7 662.6,701.1 663.2,697.0 663.8,696.7 664.4,696.5 665.0,697.1 665.6,687.8 666.2,683.6 666.8,682.4 667.4,690.6 668.0,697.6 668.6,679.9 669.2,681.1 669.8,687.3 670.4,689.7 671.0,693.4 671.6,692.4 672.2,688.8 672.8,686.3 673.4,687.7 674.0,683.7 674.6,689.3 675.2,687.3 675.8,685.2 676.4,686.2 677.0,684.8 677.6,681.3 678.2,682.2 678.8,685.2 679.4,687.3 680.0,686.5 680.6,683.8 681.2,688.1 681.8,692.3 682.4,682.2 683.0,671.5 683.6,668.1 684.2,671.0 684.8,670.0 685.4,666.4 686.0,664.0 686.6,669.8 687.2,670.3 687.8,664.0 688.4,672.4 689.0,673.6 689.6,660.2 690.2,655.5 690.8,659.6 691.4,659.0 692.0,661.7 692.6,656.3 693.2,648.1 693.8,654.7 694.4,655.1 695.0,651.6 695.6,651.9 696.2,645.9 696.8,645.8 697.4,644.1 698.0,644.1 698.6,638.7 699.2,634.6 699.8,631.7 700.4,632.2 701.0,629.1 701.6,628.6 702.2,632.1 702.8,628.7 703.4,624.6 704.0,621.4 704.6,611.6 705.2,605.9 705.8,613.5 706.4,613.1 707.0,612.9 707.6,613.4 708.2,594.8 708.8,590.3 709.4,596.7 710.0,594.6 710.6,584.7 711.2,577.4 711.8,561.6 712.4,564.4 713.0,567.0 713.6,566.4 714.2,564.9 714.8,551.5 715.4,549.6 716.0,552.3 716.6,542.5 717.2,536.8 717.8,537.6 718.4,533.7 719.0,538.2 719.6,533.0 720.2,521.7 720.8,517.5 721.4,507.3 722.0,500.9 722.6,493.8 723.2,482.7 723.8,475.9 724.4,470.0 725.0,473.8 725.6,478.0 726.2,469.5 726.8,467.2 727.4,458.7 728.0,442.8 728.6,439.0 729.2,435.6 729.8,425.8 730.4,417.2 731.0,414.7 731.6,412.4 732.2,402.3 732.8,394.0 733.4,394.3 734.0,386.4 734.6,381.4 735.2,376.5 735.8,366.7 736.4,360.8 737.0,356.2 737.6,351.2 738.2,343.5 738.8,337.9 739.4,333.4 740.0,325.7 740.6,323.2 741.2,319.7 741.8,314.2 742.4,309.6 743.0,305.8 743.6,302.3 744.2,297.3 744.8,295.8 745.4,295.7 746.0,294.0 746.6,291.1 747.2,287.6 747.8,285.3 748.4,284.2 749.0,284.1 749.6,282.7 750.2,288.1 750.8,292.6 751.4,292.7 752.0,295.6 752.6,298.9 753.2,302.9 753.8,305.9 754.4,311.8 755.0,318.2 755.6,319.3 756.2,323.8 756.8,329.8 757.4,334.3 758.0,338.8 758.6,344.0 759.2,347.8 759.8,354.7 760.4,363.6 761.0,373.2 761.6,382.1 762.2,386.3 762.8,392.5 763.4,406.8 764.0,423.1 764.6,436.0 765.2,446.7 765.8,457.3 766.4,471.0 767.0,483.2 767.6,484.6 768.2,486.3 768.8,504.9 769.4,512.7 770.0,526.2 770.6,533.1 771.2,531.9 771.8,545.1 772.4,542.3 773.0,536.3 773.6,546.7 774.2,555.2 774.8,563.0 775.4,567.0 776.0,565.9 776.6,559.0 777.2,566.9 777.8,584.0 778.4,590.5 779.0,595.9 779.6,608.0 780.2,622.1 780.8,613.9 781.4,614.6 782.0,620.9 782.6,622.7 783.2,623.0 783.8,632.4 784.4,639.6 785.0,638.6 785.6,645.0 786.2,651.6 786.8,656.3 787.4,658.5 788.0,657.3 788.6,654.9 789.2,651.9 789.8,656.4 790.4,663.7 791.0,665.3 791.6,667.2 792.2,674.3 792.8,668.7 793.4,672.0 794.0,672.7 794.6,671.3 795.2,679.3 795.8,680.9 796.4,681.2 797.0,680.8 797.6,679.3 798.2,676.8 798.8,685.7 799.4,687.3 800.0,687.3 800.6,691.3 801.2,693.7 801.8,699.4 802.4,700.6 803.0,695.7 803.6,696.9 804.2,697.7 804.8,699.8 805.4,699.1 806.0,699.4 806.6,698.9 807.2,706.0 807.8,710.5 808.4,713.9 809.0,712.5 809.6,708.5 810.2,708.0 810.8,709.4 811.4,710.8 812.0,712.1 812.6,715.4 813.2,708.7 813.8,705.6 814.4,714.7 815.0,723.7 815.6,713.5 816.2,710.6 816.8,718.9 817.4,720.1 818.0,718.9 818.6,717.6 819.2,720.1 819.8,719.4 820.4,723.7 821.0,722.7 821.6,721.8 822.2,725.5 822.8,721.5 823.4,719.2 824.0,716.4 824.6,714.6 825.2,723.6 825.8,728.8 826.4,728.2 827.0,731.8 827.6,730.4 828.2,734.8 828.8,728.9 829.4,732.4 830.0,739.2 830.6,732.7 831.2,723.7 831.8,732.4 832.4,734.0 833.0,719.3 833.6,729.6 834.2,738.6 834.8,736.2 835.4,734.5 836.0,740.8 836.6,742.2 837.2,744.0 837.8,744.5 838.4,741.0 839.0,746.9 839.6,743.4 840.2,743.7 840.8,740.8 841.4,733.7 842.0,747.1 842.6,754.9 843.2,749.2 843.8,741.4 844.4,742.6 845.0,749.1 845.6,750.3 846.2,747.6 846.8,746.9 847.4,750.0 848.0,753.6 848.6,757.4 849.2,767.3 849.8,766.3 850.4,753.4 851.0,753.1 851.6,755.4 852.2,755.1 852.8,754.5 853.4,751.4 854.0,750.5 854.6,750.8 855.2,755.0 855.8,760.4 856.4,759.1 857.0,755.9 857.6,756.5 858.2,756.6 858.8,756.5 859.4,761.2 860.0,762.2 860.6,759.8 861.2,759.2 861.8,761.3 862.4,763.7 863.0,765.3 863.6,768.5 864.2,764.2 864.8,763.8 865.4,765.8 866.0,765.4 866.6,766.2 867.2,768.2 867.8,763.2 868.4,772.8 869.0,772.0 869.6,762.7 870.2,763.2 870.8,768.9 871.4,769.9 872.0,764.8 872.6,770.3 873.2,772.8 873.8,772.2 874.4,764.2 875.0,766.2 875.6,771.8 876.2,772.7 876.8,775.2 877.4,776.2 878.0,774.2 878.6,773.1 879.2,778.9 879.8,782.5 880.4,783.0 881.0,783.9 881.6,783.0 882.2,781.2 882.8,781.1 883.4,782.5 884.0,783.2 884.6,781.2 885.2,791.3 885.8,794.0 886.4,790.4 887.0,787.0 887.6,789.9 888.2,793.2 888.8,793.3 889.4,791.0 890.0,789.6 890.6,791.4 891.2,793.2 891.8,789.1 892.4,793.1 893.0,790.8 893.6,795.6 894.2,803.6 894.8,797.9 895.4,797.2 896.0,796.9 896.6,800.2 897.2,808.4 897.8,803.5 898.4,801.6 899.0,809.5 899.6,809.2 900.2,803.9 900.8,810.3 901.4,806.4 902.0,801.5 902.6,804.4 903.2,805.3 903.8,805.7 904.4,806.1 905.0,809.7 905.6,811.6 906.2,810.0 906.8,808.6 907.4,810.5 908.0,813.6 908.6,811.8 909.2,806.3 909.8,806.7 910.4,810.7 911.0,814.7 911.6,816.3 912.2,817.1 912.8,814.3 913.4,818.1 914.0,817.6 914.6,815.0 915.2,813.9 915.8,813.8 916.4,813.6 917.0,810.7 917.6,813.2 918.2,818.8 918.8,821.7 919.4,819.0 920.0,817.2 920.6,821.8 921.2,822.4 921.8,818.8 922.4,822.0 923.0,826.0 923.6,823.9 924.2,820.7 924.8,816.2 925.4,822.0 926.0,823.5 926.6,825.2 927.2,827.2 927.8,825.7 928.4,822.3 929.0,821.7 929.6,827.9 930.2,826.0 930.8,823.3 931.4,823.5 932.0,828.8 932.6,828.4 933.2,826.0 933.8,829.4 934.4,830.2 935.0,831.9 935.6,826.9 936.2,820.9 936.8,819.4 937.4,817.2 938.0,824.2 938.6,830.0 939.2,830.1 939.8,830.0 940.4,833.4 941.0,828.6 941.6,824.3 942.2,832.5 942.8,832.6 943.4,832.5 944.0,839.2 944.6,838.5 945.2,838.5 945.8,836.2 946.4,829.7 947.0,833.6 947.6,838.7 948.2,835.7 948.8,833.8 949.4,835.6 950.0,833.4 950.6,838.1 951.2,844.0 951.8,844.3 952.4,843.3 953.0,835.6 953.6,839.0 954.2,844.8 954.8,848.7 955.4,849.2 956.0,847.0 956.6,842.9 957.2,844.1 957.8,845.6 958.4,841.5 959.0,844.4 959.6,846.4 960.2,846.7 960.8,851.2 961.4,852.1 962.0,847.6 962.6,850.1 963.2,850.4 963.8,853.4 964.4,853.1 965.0,848.3 965.6,847.5 966.2,847.6 966.8,849.5 967.4,850.8 968.0,853.9 968.6,850.5 969.2,847.6 969.8,851.9 970.4,860.3 971.0,860.9 971.6,863.1 972.2,860.3 972.8,851.5 973.4,856.1 974.0,858.9 974.6,852.5 975.2,850.0 975.8,850.8 976.4,856.3 977.0,854.2 977.6,849.9 978.2,853.7 978.8,856.8 979.4,862.1 980.0,859.7 980.6,857.5 981.2,856.4 981.8,854.4 982.4,857.2 983.0,861.1 983.6,860.0 984.2,856.0 984.8,854.4 985.4,857.6 986.0,860.2 986.6,858.4 987.2,856.8 987.8,857.3 988.4,858.1 989.0,856.2 989.6,859.7 990.2,862.0 990.8,858.5 991.4,858.4 992.0,861.8 992.6,863.8 993.2,867.7 993.8,863.9 994.4,861.4 995.0,865.7 995.6,864.2 996.2,858.5 996.8,863.8 997.4,864.7 998.0,864.6 998.6,865.5 999.2,868.7 999.8,866.8 1000.4,861.1 1001.0,863.5 1001.6,863.4 1002.2,865.0 1002.8,865.4 1003.4,872.6 1004.0,868.4 1004.6,866.8 1005.2,877.5 1005.8,876.2 1006.4,871.0 1007.0,869.0 1007.6,873.8 1008.2,872.5 1008.8,871.6 1009.4,870.5 1010.0,865.3 1010.6,869.6 1011.2,872.6 1011.8,874.8 1012.4,873.3 1013.0,874.5 1013.6,878.2 1014.2,875.7 1014.8,874.3 1015.4,875.8 1016.0,874.0 1016.6,877.0 1017.2,875.0 1017.8,874.8 1018.4,876.5 1019.0,876.8 1019.6,876.5 1020.2,880.3 1020.8,873.8 1021.4,875.0 1022.0,882.4 1022.6,885.2 1023.2,881.2 1023.8,876.0 1024.4,877.9 1025.0,883.7 1025.6,884.6 1026.2,880.9 1026.8,882.6 1027.4,882.9 1028.0,880.3 1028.6,883.8 1029.2,886.1 1029.8,885.0 1030.4,887.7 1031.0,886.2 1031.6,885.0 1032.2,889.5 1032.8,894.3 1033.4,890.4 1034.0,884.7 1034.6,886.7 1035.2,886.5 1035.8,886.3 1036.4,889.8 1037.0,886.4 1037.6,886.1 1038.2,887.0 1038.8,887.9 1039.4,888.5 1040.0,886.8 1040.6,891.1 1041.2,893.0 1041.8,890.1 1042.4,895.9 1043.0,895.4 1043.6,887.0 1044.2,889.2 1044.8,895.0 1045.4,894.7 1046.0,895.6 1046.6,894.9 1047.2,894.1 1047.8,890.6 1048.4,891.3 1049.0,896.3 1049.6,896.3 1050.2,892.9 1050.8,902.3 1051.4,897.7 1052.0,891.1 1052.6,894.6 1053.2,892.6 1053.8,891.1 1054.4,894.1 1055.0,895.8 1055.6,896.8 1056.2,895.2 1056.8,901.5 1057.4,902.0 1058.0,895.5 1058.6,894.7 1059.2,896.3 1059.8,897.8 1060.4,901.2 1061.0,897.5 1061.6,896.2 1062.2,905.1 1062.8,904.2 1063.4,899.8 1064.0,897.2 1064.6,898.2 1065.2,898.3 1065.8,900.6 1066.4,903.2 1067.0,902.6 1067.6,901.5 1068.2,900.0 1068.8,900.3 1069.4,908.3 1070.0,903.6 1070.6,898.2 1071.2,898.8 1071.8,895.4 1072.4,899.4 1073.0,904.2 1073.6,909.0 1074.2,908.0 1074.8,905.5 1075.4,904.3 1076.0,902.4 1076.6,902.8 1077.2,901.7 1077.8,902.9 1078.4,904.0 1079.0,899.9 1079.6,903.2 1080.2,908.7 1080.8,905.9 1081.4,903.0 1082.0,903.5 1082.6,905.1 1083.2,902.4 1083.8,901.9 1084.4,903.2 1085.0,908.5 1085.6,909.9 1086.2,908.1 1086.8,908.7 1087.4,906.5 1088.0,906.6 1088.6,909.8 1089.2,910.9 1089.8,908.7 1090.4,910.3 1091.0,910.0 1091.6,906.3 1092.2,907.5 1092.8,910.1 1093.4,911.2 1094.0,911.6 1094.6,913.3 1095.2,909.8 1095.8,908.9 1096.4,906.8 1097.0,902.7 1097.6,906.1 1098.2,909.5 1098.8,908.2 1099.4,909.1 1100.0,910.4 1100.6,912.3 1101.2,913.5 1101.8,914.5 1102.4,909.8 1103.0,911.4 1103.6,915.0 1104.2,907.9 1104.8,907.2 1105.4,913.3 1106.0,910.7 1106.6,912.3 1107.2,911.8 1107.8,919.1 1108.4,920.1 1109.0,916.1 1109.6,917.7 1110.2,917.0 1110.8,917.0 1111.4,919.1 1112.0,916.5 1112.6,910.1 1113.2,913.6 1113.8,913.9 1114.4,912.0 1115.0,912.2 1115.6,918.7 1116.2,919.9 1116.8,914.8 1117.4,914.0 1118.0,918.0 1118.6,918.8 1119.2,918.2 1119.8,917.7 1120.4,913.6 1121.0,915.3 1121.6,918.0 1122.2,920.6 1122.8,922.3 1123.4,920.0 1124.0,919.3 1124.6,923.0 1125.2,922.3 1125.8,918.5 1126.4,918.6 1127.0,921.9 1127.6,926.8 1128.2,924.8 1128.8,922.5 1129.4,920.1 1130.0,917.8 1130.6,917.3 1131.2,916.9 1131.8,917.2 1132.4,919.9 1133.0,921.9 1133.6,919.5 1134.2,923.9 1134.8,927.4 1135.4,927.5 1136.0,923.3 1136.6,921.9 1137.2,924.8 1137.8,924.2 1138.4,918.8 1139.0,923.1 1139.6,925.2 1140.2,926.4 1140.8,925.1 1141.4,921.5 1142.0,921.2 1142.6,925.8 1143.2,920.5 1143.8,920.2 1144.4,925.6 1145.0,923.6 1145.6,925.7 1146.2,926.0 1146.8,922.0 1147.4,920.3 1148.0,922.7 1148.6,926.7 1149.2,922.6 1149.8,923.7 1150.4,927.5 1151.0,928.9 1151.6,930.1 1152.2,929.8 1152.8,926.3 1153.4,927.4 1154.0,921.7 1154.6,923.3 1155.2,931.0 1155.8,928.6 1156.4,928.1 1157.0,928.5 1157.6,928.9 1158.2,931.1 1158.8,932.4 1159.4,929.4 1160.0,927.0 1160.6,927.4 1161.2,927.3 1161.8,926.2 1162.4,931.9 1163.0,933.2 1163.6,927.7 1164.2,927.6 1164.8,932.0 1165.4,933.4 1166.0,931.2 1166.6,926.6 1167.2,928.3 1167.8,928.1 1168.4,926.0 1169.0,928.8 1169.6,931.0 1170.2,930.3 1170.8,928.8 1171.4,930.1 1172.0,926.1 1172.6,926.0 1173.2,931.9 1173.8,932.7 1174.4,928.0 1175.0,927.5 1175.6,926.9 1176.2,928.1 1176.8,930.6 1177.4,928.7 1178.0,932.3 1178.6,934.1 1179.2,929.1 1179.8,927.0 1180.4,931.5 1181.0,931.3 1181.6,930.7 1182.2,931.1 1182.8,930.3 1183.4,930.1 1184.0,929.5 1184.6,930.3 1185.2,933.5 1185.8,934.4 1186.4,932.9 1187.0,937.7 1187.6,939.5 1188.2,935.7 1188.8,934.2 1189.4,935.1 1190.0,935.6 1190.6,933.6 1191.2,935.7 1191.8,939.8 1192.4,937.6 1193.0,938.0 1193.6,937.7 1194.2,935.3 1194.8,935.1 1195.4,934.5 1196.0,933.3 1196.6,931.5 1197.2,934.2 1197.8,936.9 1198.4,935.5 1199.0,932.5 1199.6,935.6 1200.2,933.4 1200.8,936.5 1201.4,940.2 1202.0,939.7 1202.6,939.5 1203.2,937.9 1203.8,936.0 1204.4,936.1 1205.0,936.3 1205.6,936.2 1206.2,934.0 1206.8,938.1 1207.4,940.5 1208.0,934.8 1208.6,935.0 1209.2,938.9 1209.8,937.9 1210.4,939.8 1211.0,941.8 1211.6,943.5 1212.2,942.0 1212.8,937.2 1213.4,936.8 1214.0,935.1 1214.6,938.0 1215.2,941.9 1215.8,940.5 1216.4,939.1 1217.0,941.2 1217.6,942.3 1218.2,938.2 1218.8,937.4 1219.4,938.8 1220.0,938.1 1220.6,941.9 1221.2,939.0 1221.8,935.6 1222.4,939.1 1223.0,936.1 1223.6,934.2 1224.2,935.4 1224.8,939.5 1225.4,945.3 1226.0,943.3 1226.6,940.7 1227.2,935.4 1227.8,935.9 1228.4,941.4 1229.0,939.9 1229.6,938.9 1230.2,941.7 1230.8,939.3 1231.4,930.7 1232.0,934.5 1232.6,938.6 1233.2,939.7 1233.8,940.6 1234.4,939.1 1235.0,936.9 1235.6,939.9 1236.2,941.2 1236.8,944.0 1237.4,943.7 1238.0,944.0 1238.6,943.0 1239.2,941.5 1239.8,940.9 1240.4,943.4 1241.0,944.0 1241.6,945.5 1242.2,944.8 1242.8,946.2 1243.4,950.1 1244.0,948.3 1244.6,944.2 1245.2,943.0 1245.8,942.4 1246.4,940.2 1247.0,945.2 1247.6,947.5 1248.2,944.2 1248.8,944.8 1249.4,947.4 1250.0,946.5 1250.6,945.6 1251.2,944.5 1251.8,946.6 1252.4,946.7 1253.0,949.2 1253.6,947.4 1254.2,944.6 1254.8,946.4 1255.4,949.5 1256.0,948.2 1256.6,944.1 1257.2,945.1 1257.8,944.8 1258.4,946.8 1259.0,946.3 1259.6,944.5 1260.2,947.6 1260.8,948.3 1261.4,946.2 1262.0,943.4 1262.6,946.7 1263.2,949.7 1263.8,949.9 1264.4,951.7 1265.0,950.6 1265.6,948.8 1266.2,948.0 1266.8,950.8 1267.4,950.9 1268.0,950.2 1268.6,948.0 1269.2,945.0 1269.8,946.1 1270.4,945.6 1271.0,947.7 1271.6,948.2 1272.2,946.3 1272.8,946.7 1273.4,950.6 1274.0,947.3 1274.6,949.1 1275.2,948.8 1275.8,949.3 1276.4,948.1 1277.0,942.8 1277.6,947.3 1278.2,949.2 1278.8,950.8 1279.4,948.8 1280.0,949.0 1280.6,949.3 1281.2,949.3 1281.8,954.4 1282.4,948.7 1283.0,934.4 1283.6,938.1 1284.2,952.1 1284.8,952.9 1285.4,951.0 1286.0,951.5 1286.6,952.7 1287.2,951.9 1287.8,955.0 1288.4,956.3 1289.0,952.9 1289.6,950.7 1290.2,949.0 1290.8,953.1 1291.4,954.8 1292.0,951.9 1292.6,952.0 1293.2,954.2 1293.8,955.9 1294.4,955.9 1295.0,953.7 1295.6,953.5 1296.2,949.6 1296.8,950.6 1297.4,952.0 1298.0,952.4 1298.6,956.9 1299.2,958.3 1299.8,956.8 1300.4,956.6 1301.0,955.4 1301.6,955.9 1302.2,952.1 1302.8,953.4 1303.4,956.6 1304.0,957.3 1304.6,955.9 1305.2,954.2 1305.8,955.6 1306.4,951.6 1307.0,952.3 1307.6,959.4 1308.2,957.2 1308.8,954.0 1309.4,953.5 1310.0,955.9 1310.6,960.2 1311.2,959.5 1311.8,955.9 1312.4,957.8 1313.0,958.8 1313.6,955.5 1314.2,954.3 1314.8,958.0 1315.4,961.2 1316.0,959.8 1316.6,959.0 1317.2,957.9 1317.8,957.2 1318.4,956.6 1319.0,957.4 1319.6,959.7 1320.2,961.6 1320.8,954.5 1321.4,954.2 1322.0,959.2 1322.6,958.3 1323.2,958.2 1323.8,960.0 1324.4,956.4 1325.0,954.5 1325.6,960.2 1326.2,962.4 1326.8,960.6 1327.4,963.4 1328.0,961.7 1328.6,959.8 1329.2,960.4 1329.8,960.5 1330.4,961.3 1331.0,962.7 1331.6,960.6 1332.2,961.2 1332.8,959.0 1333.4,959.0 1334.0,959.8 1334.6,959.4 1335.2,962.4 1335.8,963.5 1336.4,960.2 1337.0,959.0 1337.6,961.6 1338.2,958.8 1338.8,963.8 1339.4,965.5 1340.0,962.2 1340.6,961.9 1341.2,965.9 1341.8,964.8 1342.4,963.9 1343.0,963.9 1343.6,963.9 1344.2,965.9 1344.8,965.1 1345.4,962.2 1346.0,966.0 1346.6,972.3 1347.2,969.9 1347.8,966.1 1348.4,966.1 1349.0,967.2 1349.6,966.9 1350.2,964.3 1350.8,965.4 1351.4,971.1 1352.0,972.1 1352.6,968.3 1353.2,967.1 1353.8,967.7 1354.4,964.9 1355.0,962.2 1355.6,965.6 1356.2,966.7 1356.8,966.1 1357.4,963.4 1358.0,964.3 1358.6,965.9 1359.2,963.4 1359.8,963.6 1360.4,962.8 1361.0,966.1 1361.6,969.0 1362.2,965.9 1362.8,967.5 1363.4,972.6 1364.0,969.2 1364.6,963.0 1365.2,966.3 1365.8,973.3 1366.4,969.7 1367.0,965.3 1367.6,963.8 1368.2,966.2 1368.8,967.2 1369.4,968.5 1370.0,968.2 1370.6,964.8 1371.2,963.2 1371.8,966.4 1372.4,969.3 1373.0,969.5 1373.6,967.1 1374.2,967.3 1374.8,969.0 1375.4,969.4 1376.0,968.7 1376.6,970.5 1377.2,969.8 1377.8,967.4 1378.4,969.5 1379.0,967.2 1379.6,967.1 1380.2,969.4 1380.8,966.0 1381.4,966.1 1382.0,968.6 1382.6,967.0 1383.2,968.5 1383.8,969.2 1384.4,966.7 1385.0,966.8 1385.6,969.8 1386.2,971.1 1386.8,969.1 1387.4,969.3 1388.0,970.3 1388.6,967.6 1389.2,967.8 1389.8,971.1 1390.4,974.8 1391.0,969.7 1391.6,971.2 1392.2,971.8 1392.8,969.9 1393.4,968.9 1394.0,968.6 1394.6,969.2 1395.2,971.5 1395.8,972.9 1396.4,973.3 1397.0,975.1 1397.6,975.9 1398.2,973.2 1398.8,970.4 1399.4,969.3 1400.0,971.3 1400.6,973.9 1401.2,968.9 1401.8,967.8 1402.4,969.4 1403.0,970.4 1403.6,969.7 1404.2,968.3 1404.8,968.8 1405.4,970.5 1406.0,970.8 1406.6,971.0 1407.2,968.8 1407.8,970.0 1408.4,969.0 1409.0,969.8 1409.6,966.6 1410.2,968.4 1410.8,971.1 1411.4,968.4 1412.0,971.1 1412.6,970.7 1413.2,971.1 1413.8,973.9 1414.4,969.5 1415.0,972.8 1415.6,973.9 1416.2,970.2 1416.8,969.3 1417.4,968.1 1418.0,967.2 1418.6,969.2 1419.2,970.0 1419.8,968.9 1420.4,967.8 1421.0,969.6 1421.6,971.7 1422.2,968.6 1422.8,969.3 1423.4,968.8 1424.0,967.0 1424.6,966.2 1425.2,967.7 1425.8,967.7 1426.4,970.0 1427.0,968.4 1427.6,965.2 1428.2,964.7 1428.8,966.6 1429.4,967.1 1430.0,966.3 1430.6,966.8 1431.2,969.8 1431.8,970.9 1432.4,973.6 1433.0,973.9 1433.6,970.0 1434.2,968.7 1434.8,968.1 1435.4,969.7 1436.0,971.0 1436.6,971.3 1437.2,969.5 1437.8,966.5 1438.4,967.7 1439.0,974.2 1439.6,971.7 1440.2,970.1 1440.8,970.2 1441.4,969.4 1442.0,969.5 1442.6,971.6 1443.2,975.7 1443.8,973.2 1444.4,970.7 1445.0,968.4 1445.6,968.4 1446.2,967.7 1446.8,969.0 1447.4,972.8 1448.0,971.8 1448.6,970.6 1449.2,970.8 1449.8,970.9 1450.4,969.9 1451.0,971.8 1451.6,971.1 1452.2,970.3 1452.8,971.8 1453.4,970.5 1454.0,969.5 1454.6,970.1 1455.2,968.5 1455.8,967.4 1456.4,969.9 1457.0,972.2 1457.6,974.2 1458.2,973.4 1458.8,973.3 1459.4,974.2 1460.0,972.8 1460.6,971.7 1461.2,973.6 1461.8,973.1 1462.4,974.0 1463.0,973.4 1463.6,972.4 1464.2,973.1 1464.8,972.9 1465.4,970.8 1466.0,968.7 1466.6,971.3 1467.2,973.2 1467.8,970.2 1468.4,971.8 1469.0,973.1 1469.6,972.3 1470.2,970.8 1470.8,973.2 1471.4,973.3 1472.0,972.5 1472.6,972.8 1473.2,971.0 1473.8,967.7 1474.4,969.6 1475.0,972.0 1475.6,971.4 1476.2,969.3 1476.8,971.0 1477.4,973.2 1478.0,972.9 1478.6,973.6 1479.2,974.6 1479.8,971.7 1480.4,970.8 1481.0,968.5 1481.6,970.8 1482.2,977.1 1482.8,973.0 1483.4,976.1 1484.0,976.6 1484.6,972.3 1485.2,972.1 1485.8,973.2 1486.4,974.3 1487.0,970.2 1487.6,968.5 1488.2,966.8 1488.8,969.3 1489.4,970.1 1490.0,970.9 1490.6,971.7 1491.2,973.2 1491.8,971.7 1492.4,975.8 1493.0,977.8 1493.6,972.8 1494.2,972.6 1494.8,973.1 1495.4,973.0 1496.0,971.9 1496.6,972.8 1497.2,971.3 1497.8,970.8 1498.4,972.4 1499.0,973.8 1499.6,972.0 1500.2,971.7 1500.8,971.1 1501.4,973.0 1502.0,974.5 1502.6,973.6 1503.2,975.4 1503.8,974.3 1504.4,976.0 1505.0,977.0 1505.6,974.3 1506.2,971.3 1506.8,972.4 1507.4,972.5 1508.0,973.5 1508.6,971.6 1509.2,974.7 1509.8,977.3 1510.4,976.2 1511.0,975.1 1511.6,970.9 1512.2,976.4 1512.8,975.5 1513.4,974.2 1514.0,972.8 1514.6,965.1 1515.2,968.3 1515.8,974.5 1516.4,971.0 1517.0,971.1 1517.6,972.9 1518.2,972.9 1518.8,972.4 1519.4,975.0 1520.0,972.9 1520.6,970.3 1521.2,976.1 1521.8,975.2 1522.4,973.2 1523.0,969.5 1523.6,970.8 1524.2,973.3 1524.8,972.5 1525.4,969.1 1526.0,971.8 1526.6,974.6 1527.2,972.2 1527.8,976.4 1528.4,977.4 1529.0,974.3 1529.6,978.0 1530.2,977.7 1530.8,972.3 1531.4,974.4 1532.0,971.0 1532.6,971.7 1533.2,974.9 1533.8,974.5 1534.4,973.4 1535.0,971.4 1535.6,970.4 1536.2,973.6 1536.8,973.9 1537.4,975.6 1538.0,973.6 1538.6,970.3 1539.2,971.8 1539.8,976.1 1540.4,974.7 1541.0,973.5 1541.6,972.1 1542.2,970.9 1542.8,971.4 1543.4,971.9 1544.0,974.8 1544.6,975.5 1545.2,975.0 1545.8,974.5 1546.4,974.3 1547.0,975.9 1547.6,975.4 1548.2,973.2 1548.8,974.6 1549.4,974.6 1550.0,975.8 1550.6,975.7 1551.2,974.8 1551.8,972.3 1552.4,971.3 1553.0,973.3 1553.6,975.7 1554.2,970.9 1554.8,971.1 1555.4,975.1 1556.0,974.7 1556.6,974.8 1557.2,976.5 1557.8,974.2 1558.4,972.5 1559.0,973.7 1559.6,974.0 1560.2,976.3 1560.8,975.8 1561.4,974.4 1562.0,976.2 1562.6,976.1 1563.2,975.1 1563.8,975.5 1564.4,974.6 1565.0,974.1 1565.6,973.9 1566.2,970.3 1566.8,969.4 1567.4,973.6 1568.0,971.7 1568.6,970.3 1569.2,972.2 1569.8,975.9 1570.4,977.2 1571.0,974.2 1571.6,972.4 1572.2,975.0 1572.8,975.7 1573.4,976.4 1574.0,974.8 1574.6,971.0 1575.2,971.3 1575.8,975.0 1576.4,975.2 1577.0,975.5 1577.6,973.1 1578.2,970.8 1578.8,974.0 1579.4,974.2 1580.0,974.8 1580.6,973.0 1581.2,973.5 1581.8,974.8 1582.4,975.6 1583.0,974.0 1583.6,975.8 1584.2,977.3 1584.8,975.5 1585.4,977.0 1586.0,976.2 1586.6,977.7 1587.2,979.7 1587.8,978.6 1588.4,976.7 1589.0,975.9 1589.6,976.7 1590.2,978.2 1590.8,976.2 1591.4,971.4 1592.0,977.4 1592.6,976.7 1593.2,971.7 1593.8,977.9 1594.4,978.4 1595.0,973.6 1595.6,974.5 1596.2,975.3 1596.8,974.9 1597.4,974.4 1598.0,974.8 1598.6,973.7 1599.2,976.1 1599.8,977.6 1600.4,976.2 1601.0,976.2 1601.6,976.5 1602.2,979.1 1602.8,979.8 1603.4,977.1 1604.0,976.9 1604.6,978.8 1605.2,977.5 1605.8,976.1 1606.4,975.7 1607.0,980.6 1607.6,977.0 1608.2,975.0 1608.8,976.9 1609.4,981.9 1610.0,977.7 1610.6,975.2 1611.2,976.1 1611.8,974.7 1612.4,977.0 1613.0,975.1 1613.6,976.6 1614.2,981.5 1614.8,979.8 1615.4,978.1 1616.0,977.1 1616.6,976.3 1617.2,977.4 1617.8,977.1 1618.4,979.8 1619.0,980.1 1619.6,973.2 1620.2,974.2 1620.8,976.7 1621.4,978.3 1622.0,979.0 1622.6,977.9 1623.2,977.1 1623.8,976.0 1624.4,979.3 1625.0,975.5 1625.6,980.5 1626.2,981.3 1626.8,978.8 1627.4,981.6 1628.0,984.3 1628.6,983.4 1629.2,982.1 1629.8,980.3 1630.4,973.4 1631.0,974.8 1631.6,979.8 1632.2,978.5 1632.8,974.5 1633.4,975.5 1634.0,978.2 1634.6,978.4 1635.2,977.1 1635.8,976.6 1636.4,979.8 1637.0,976.4 1637.6,975.2 1638.2,977.4 1638.8,979.4 1639.4,982.4 1640.0,980.9 1640.6,979.1 1641.2,978.9 1641.8,979.0 1642.4,978.5 1643.0,978.5 1643.6,976.9 1644.2,980.9 1644.8,979.8 1645.4,977.9 1646.0,981.2 1646.6,980.8 1647.2,982.1 1647.8,981.8 1648.4,979.4 1649.0,980.2 1649.6,980.0 1650.2,980.5 1650.8,979.2 1651.4,981.3 1652.0,983.4 1652.6,982.4 1653.2,980.3 1653.8,979.7 1654.4,981.6 1655.0,979.8 1655.6,982.2 1656.2,980.0 1656.8,978.7 1657.4,984.4 1658.0,982.7 1658.6,979.0 1659.2,979.8 1659.8,982.5 1660.4,983.1"/>
<polyline stroke="#4600FF" points="264.2,554.0 264.8,554.2 265.4,552.3 266.0,548.4 266.6,550.5 267.2,546.8 267.8,533.5 268.4,525.8 269.0,536.8 269.6,540.3 270.2,535.6 270.8,534.1 271.4,532.3 272.0,529.2 272.6,521.4 273.2,524.8 273.8,529.2 274.4,516.9 275.0,522.7 275.6,523.0 276.2,515.2 276.8,510.5 277.4,516.3 278.0,513.4 278.6,506.5 279.2,502.6 279.8,501.4 280.4,511.4 281.0,510.8 281.6,513.5 282.2,511.3 282.8,505.3 283.4,492.3 284.0,492.3 284.6,493.1 285.2,500.0 285.8,496.9 286.4,493.3 287.0,485.9 287.6,478.0 288.2,480.2 288.8,472.7 289.4,470.1 290.0,477.0 290.6,478.2 291.2,473.7 291.8,472.8 292.4,469.3 293.0,458.6 293.6,461.4 294.2,463.5 294.8,464.2 295.4,465.0 296.0,463.4 296.6,461.7 297.2,464.6 297.8,457.5 298.4,454.2 299.0,451.2 299.6,447.9 300.2,449.6 300.8,450.0 301.4,449.2 302.0,447.9 302.6,447.4 303.2,446.8 303.8,447.2 304.4,440.4 305.0,443.3 305.6,446.1 306.2,435.6 306.8,438.1 307.4,447.5 308.0,452.0 308.6,446.4 309.2,436.7 309.8,440.3 310.4,438.7 311.0,440.9 311.6,441.1 312.2,444.1 312.8,441.9 313.4,447.7 314.0,448.4 314.6,442.0 315.2,439.5 315.8,438.9 316.4,441.9 317.0,442.1 317.6,443.9 318.2,448.9 318.8,447.4 319.4,443.0 320.0,434.0 320.6,435.2 321.2,432.7 321.8,438.2 322.4,439.3 323.0,441.2 323.6,448.4 324.2,451.7 324.8,447.4 325.4,446.2 326.0,447.5 326.6,450.7 327.2,449.2 327.8,451.7 328.4,456.9 329.0,456.4 329.6,461.5 330.2,456.4 330.8,452.3 331.4,459.2 332.0,459.7 332.6,456.0 333.2,452.9 333.8,454.1 334.4,455.2 335.0,460.6 335.6,456.3 336.2,456.5 336.8,464.2 337.4,462.3 338.0,455.3 338.6,453.3 339.2,460.4 339.8,455.1 340.4,451.8 341.0,459.4 341.6,466.2 342.2,460.3 342.8,459.0 343.4,466.6 344.0,472.8 344.6,478.2 345.2,477.6 345.8,477.4 346.4,479.8 347.0,488.7 347.6,495.1 348.2,494.5 348.8,495.8 349.4,496.9 350.0,508.2 350.6,504.0 351.2,505.4 351.8,499.4 352.4,504.0 353.0,507.4 353.6,509.1 354.2,516.9 354.8,516.7 355.4,518.6 356.0,517.7 356.6,515.3 357.2,519.4 357.8,523.2 358.4,522.8 359.0,520.6 359.6,523.8 360.2,529.5 360.8,523.1 361.4,526.7 362.0,528.5 362.6,530.9 363.2,531.7 363.8,527.0 364.4,527.3 365.0,537.5 365.6,543.7 366.2,540.2 366.8,523.3 367.4,523.3 368.0,531.6 368.6,533.4 369.2,532.8 369.8,533.1 370.4,539.5 371.0,535.4 371.6,537.0 372.2,540.6 372.8,541.7 373.4,543.4 374.0,540.0 374.6,540.3 375.2,543.5 375.8,540.9 376.4,543.0 377.0,544.1 377.6,544.3 378.2,547.2 378.8,549.6 379.4,547.6 380.0,548.1 380.6,548.2 381.2,544.9 381.8,544.7 382.4,547.5 383.0,550.8 383.6,555.2 384.2,554.8 384.8,557.9 385.4,556.1 386.0,549.7 386.6,549.6 387.2,548.8 387.8,554.3 388.4,557.7 389.0,556.8 389.6,555.1 390.2,550.1 390.8,550.1 391.4,551.7 392.0,555.7 392.6,548.3 393.2,544.8 393.8,547.4 394.4,555.5 395.0,550.5 395.6,547.1 396.2,551.4 396.8,549.6 397.4,546.0 398.0,547.7 398.6,544.7 399.2,542.3 399.8,543.9 400.4,538.0 401.0,532.1 401.6,537.1 402.2,537.6 402.8,538.3 403.4,533.5 404.0,531.7 404.6,541.3 405.2,539.8 405.8,534.0 406.4,524.7 407.0,523.1 407.6,540.6 408.2,543.9 408.8,541.0 409.4,541.0 410.0,539.2 410.6,534.4 411.2,527.2 411.8,529.7 412.4,540.0 413.0,537.1 413.6,531.9 414.2,524.5 414.8,534.0 415.4,525.4 416.0,522.3 416.6,534.1 417.2,539.2 417.8,534.6 418.4,530.3 419.0,529.8 419.6,519.7 420.2,528.5 420.8,524.1 421.4,524.6 422.0,530.8 422.6,530.1 423.2,531.9 423.8,529.2 424.4,530.0 425.0,525.7 425.6,524.4 426.2,524.6 426.8,524.0 427.4,524.6 428.0,517.1 428.6,520.9 429.2,524.8 429.8,526.4 430.4,526.1 431.0,524.4 431.6,522.0 432.2,526.6 432.8,523.8 433.4,525.8 434.0,536.4 434.6,536.1 435.2,530.9 435.8,530.2 436.4,527.8 437.0,528.2 437.6,533.8 438.2,535.3 438.8,539.6 439.4,539.3 440.0,533.2 440.6,527.8 441.2,524.2 441.8,525.3 442.4,536.2 443.0,537.6 443.6,534.8 444.2,535.4 444.8,535.0 445.4,532.5 446.0,538.3 446.6,535.4 447.2,542.2 447.8,537.5 448.4,523.8 449.0,522.0 449.6,532.9 450.2,541.4 450.8,543.7 451.4,542.0 452.0,540.0 452.6,537.5 453.2,534.8 453.8,532.6 454.4,527.6 455.0,523.9 455.6,531.1 456.2,535.0 456.8,535.8 457.4,534.1 458.0,530.8 458.6,524.1 459.2,527.7 459.8,533.4 460.4,533.7 461.0,529.8 461.6,526.0 462.2,517.8 462.8,516.9 463.4,528.5 464.0,530.2 464.6,531.0 465.2,526.6 465.8,527.7 466.4,534.4 467.0,532.0 467.6,528.6 468.2,521.6 468.8,517.4 469.4,525.8 470.0,528.1 470.6,527.6 471.2,527.8 471.8,526.6 472.4,530.6 473.0,528.9 473.6,530.4 474.2,529.1 474.8,520.3 475.4,528.5 476.0,531.4 476.6,529.3 477.2,520.2 477.8,508.8 478.4,513.4 479.0,522.7 479.6,532.5 480.2,529.2 480.8,521.0 481.4,528.9 482.0,530.3 482.6,520.3 483.2,516.9 483.8,523.2 484.4,521.6 485.0,521.2 485.6,519.0 486.2,520.4 486.8,520.9 487.4,524.1 488.0,519.9 488.6,518.6 489.2,518.5 489.8,512.8 490.4,512.7 491.0,510.5 491.6,514.2 492.2,517.0 492.8,510.6 493.4,509.9 494.0,506.1 494.6,509.6 495.2,510.7 495.8,506.5 496.4,503.4 497.0,503.6 497.6,508.1 498.2,499.0 498.8,491.1 499.4,493.6 500.0,493.2 500.6,493.3 501.2,494.6 501.8,493.2 502.4,488.8 503.0,487.7 503.6,485.2 504.2,482.4 504.8,477.3 505.4,477.4 506.0,476.1 506.6,475.3 507.2,476.6 507.8,474.8 508.4,474.9 509.0,471.6 509.6,466.8 510.2,469.1 510.8,460.8 511.4,457.7 512.0,461.4 512.6,457.9 513.2,453.1 513.8,461.2 514.4,454.2 515.0,438.9 515.6,432.2 516.2,430.7 516.8,431.4 517.4,431.5 518.0,428.1 518.6,421.0 519.2,415.6 519.8,412.4 520.4,402.1 521.0,395.1 521.6,389.6 522.2,386.6 522.8,382.8 523.4,377.6 524.0,376.3 524.6,371.7 525.2,363.9 525.8,361.0 526.4,359.3 527.0,354.9 527.6,350.8 528.2,347.2 528.8,342.8 529.4,340.2 530.0,331.5 530.6,325.0 531.2,318.3 531.8,308.5 532.4,302.0 533.0,295.7 533.6,287.7 534.2,276.7 534.8,267.0 535.4,260.2 536.0,255.3 536.6,247.5 537.2,239.9 537.8,234.3 538.4,229.6 539.0,219.8 539.6,210.0 540.2,203.5 540.8,197.4 541.4,189.6 542.0,182.2 542.6,175.4 543.2,166.9 543.8,159.7 544.4,154.6 545.0,147.8 545.6,143.0 546.2,139.1 546.8,136.6 547.4,131.0 548.0,126.4 548.6,123.0 549.2,118.7 549.8,113.2 550.4,109.2 551.0,104.9 551.6,99.2 552.2,93.5 552.8,89.2 553.4,90.3 554.0,85.4 554.6,81.3 555.2,81.0 555.8,82.6 556.4,86.0 557.0,88.1 557.6,90.3 558.2,92.6 558.8,98.3 559.4,105.6 560.0,105.4 560.6,112.5 561.2,119.2 561.8,122.4 562.4,126.8 563.0,137.5 563.6,149.7 564.2,160.3 564.8,170.8 565.4,182.7 566.0,193.0 566.6,203.8 567.2,212.5 567.8,223.6 568.4,241.6 569.0,251.3 569.6,260.9 570.2,274.3 570.8,285.6 571.4,298.0 572.0,309.3 572.6,318.1 573.2,331.7 573.8,339.3 574.4,344.5 575.0,355.7 575.6,363.9 576.2,371.6 576.8,379.6 577.4,386.3 578.0,393.3 578.6,397.3 579.2,404.7 579.8,415.3 580.4,422.7 581.0,425.9 581.6,429.5 582.2,433.8 582.8,440.4 583.4,445.2 584.0,445.7 584.6,451.3 585.2,457.0 585.8,456.1 586.4,462.6 587.0,472.9 587.6,473.3 588.2,479.9 588.8,483.9 589.4,489.6 590.0,498.2 590.6,504.0 591.2,504.6 591.8,510.6 592.4,527.5 593.0,529.0 593.6,529.8 594.2,532.0 594.8,535.2 595.4,538.6 596.0,541.2 596.6,543.3 597.2,541.7 597.8,540.3 598.4,545.8 599.0,551.2 599.6,559.2 600.2,557.9 600.8,555.1 601.4,552.3 602.0,564.7 602.6,567.8 603.2,569.9 603.8,570.5 604.4,559.5 605.0,563.6 605.6,573.1 606.2,574.5 606.8,576.6 607.4,579.2 608.0,582.3 608.6,580.0 609.2,590.1 609.8,591.9 610.4,587.3 611.0,589.1 611.6,592.0 612.2,589.4 612.8,590.4 613.4,588.2 614.0,579.4 614.6,580.4 615.2,582.8 615.8,582.8 616.4,588.5 617.0,590.0 617.6,596.3 618.2,598.7 618.8,597.9 619.4,595.7 620.0,595.4 620.6,595.3 621.2,593.0 621.8,598.7 622.4,598.0 623.0,598.7 623.6,590.9 624.2,587.0 624.8,600.0 625.4,601.7 626.0,602.4 626.6,600.9 627.2,600.6 627.8,602.6 628.4,602.5 629.0,606.3 629.6,600.8 630.2,594.6 630.8,598.0 631.4,603.8 632.0,601.3 632.6,600.2 633.2,600.7 633.8,595.5 634.4,596.4 635.0,606.0 635.6,602.2 636.2,594.4 636.8,595.7 637.4,594.5 638.0,591.8 638.6,599.2 639.2,594.1 639.8,590.3 640.4,596.4 641.0,604.4 641.6,601.2 642.2,594.0 642.8,595.8 643.4,598.2 644.0,596.7 644.6,598.8 645.2,601.7 645.8,596.7 646.4,599.6 647.0,597.2 647.6,593.5 648.2,595.2 648.8,597.7 649.4,603.6 650.0,597.9 650.6,601.3 651.2,600.7 651.8,597.3 652.4,596.2 653.0,596.9 653.6,597.9 654.2,600.0 654.8,596.1 655.4,595.4 656.0,597.8 656.6,601.9 657.2,599.3 657.8,597.2 658.4,594.9 659.0,591.7 659.6,590.7 660.2,589.7 660.8,588.5 661.4,590.5 662.0,595.5 662.6,594.2 663.2,594.3 663.8,591.6 664.4,588.5 665.0,594.6 665.6,598.7 666.2,595.4 666.8,590.1 667.4,581.9 668.0,588.7 668.6,593.1 669.2,590.1 669.8,592.3 670.4,589.7 671.0,587.6 671.6,580.9 672.2,586.4 672.8,585.3 673.4,581.5 674.0,583.2 674.6,578.4 675.2,576.3 675.8,574.7 676.4,584.4 677.0,586.4 677.6,589.8 678.2,572.3 678.8,561.5 679.4,570.3 680.0,569.0 680.6,571.7 681.2,570.1 681.8,557.4 682.4,559.1 683.0,565.9 683.6,566.6 684.2,563.1 684.8,566.1 685.4,560.5 686.0,552.7 686.6,555.1 687.2,557.2 687.8,553.0 688.4,547.8 689.0,555.1 689.6,551.5 690.2,538.5 690.8,537.6 691.4,534.0 692.0,530.8 692.6,536.2 693.2,539.5 693.8,537.7 694.4,532.3 695.0,520.4 695.6,519.2 696.2,515.6 696.8,515.5 697.4,521.3 698.0,519.7 698.6,510.8 699.2,508.9 699.8,511.1 700.4,505.5 701.0,504.2 701.6,502.7 702.2,494.3 702.8,481.6 703.4,478.4 704.0,473.9 704.6,474.3 705.2,471.6 705.8,471.0 706.4,473.4 707.0,463.3 707.6,456.4 708.2,455.2 708.8,456.0 709.4,453.8 710.0,439.5 710.6,441.1 711.2,442.6 711.8,437.3 712.4,438.4 713.0,435.6 713.6,426.4 714.2,424.5 714.8,423.8 715.4,419.0 716.0,414.7 716.6,405.3 717.2,401.8 717.8,392.8 718.4,388.3 719.0,386.1 719.6,378.9 720.2,373.7 720.8,367.4 721.4,360.1 722.0,353.6 722.6,348.9 723.2,341.3 723.8,334.3 724.4,327.7 725.0,320.9 725.6,313.8 726.2,308.1 726.8,302.6 727.4,293.0 728.0,287.2 728.6,281.7 729.2,272.6 729.8,266.3 730.4,257.2 731.0,247.3 731.6,240.5 732.2,235.7 732.8,226.8 733.4,217.0 734.0,209.0 734.6,202.3 735.2,194.9 735.8,185.3 736.4,173.4 737.0,166.8 737.6,163.6 738.2,156.5 738.8,151.4 739.4,144.3 740.0,140.4 740.6,135.2 741.2,129.0 741.8,121.9 742.4,114.2 743.0,108.1 743.6,104.2 744.2,101.0 744.8,97.2 745.4,92.2 746.0,89.7 746.6,89.3 747.2,86.6 747.8,82.1 748.4,80.1 749.0,81.6 749.6,81.7 750.2,86.6 750.8,90.4 751.4,91.7 752.0,94.8 752.6,102.2 753.2,104.7 753.8,110.9 754.4,117.9 755.0,120.7 755.6,128.3 756.2,135.6 756.8,143.4 757.4,151.3 758.0,159.0 758.6,166.4 759.2,175.5 759.8,183.3 760.4,190.5 761.0,201.2 761.6,212.8 762.2,223.8 762.8,235.4 763.4,248.9 764.0,258.6 764.6,268.4 765.2,279.1 765.8,288.7 766.4,296.1 767.0,305.1 767.6,312.6 768.2,319.9 768.8,328.7 769.4,337.3 770.0,345.9 770.6,356.2 771.2,365.3 771.8,373.1 772.4,380.9 773.0,389.5 773.6,399.8 774.2,405.6 774.8,410.7 775.4,410.2 776.0,414.1 776.6,423.7 777.2,433.6 777.8,439.3 778.4,444.3 779.0,451.2 779.6,449.8 780.2,453.1 780.8,466.2 781.4,475.5 782.0,482.9 782.6,486.6 783.2,490.8 783.8,500.0 784.4,510.0 785.0,515.3 785.6,524.9 786.2,529.0 786.8,530.8 787.4,536.1 788.0,539.0 788.6,539.4 789.2,534.7 789.8,526.3 790.4,530.8 791.0,541.5 791.6,547.6 792.2,554.5 792.8,554.9 793.4,557.0 794.0,559.5 794.6,563.1 795.2,560.0 795.8,556.7 796.4,565.1 797.0,565.8 797.6,566.2 798.2,565.6 798.8,563.6 799.4,573.7 800.0,575.6 800.6,575.9 801.2,578.1 801.8,579.2 802.4,580.2 803.0,581.8 803.6,587.4 804.2,588.2 804.8,589.5 805.4,591.8 806.0,595.0 806.6,596.0 807.2,598.3 807.8,598.3 808.4,598.6 809.0,603.4 809.6,601.3 810.2,594.7 810.8,603.5 811.4,607.4 812.0,606.6 812.6,609.0 813.2,608.2 813.8,610.8 814.4,611.9 815.0,612.4 815.6,614.6 816.2,618.2 816.8,614.1 817.4,615.3 818.0,617.0 818.6,614.3 819.2,611.8 819.8,616.6 820.4,615.5 821.0,618.8 821.6,614.4 822.2,619.7 822.8,623.5 823.4,614.4 824.0,613.5 824.6,616.9 825.2,618.0 825.8,620.2 826.4,621.8 827.0,622.8 827.6,621.4 828.2,619.2 828.8,619.3 829.4,622.7 830.0,626.5 830.6,634.1 831.2,631.8 831.8,632.0 832.4,633.7 833.0,634.5 833.6,632.2 834.2,631.2 834.8,638.6 835.4,642.2 836.0,631.8 836.6,629.8 837.2,641.1 837.8,639.9 838.4,638.4 839.0,641.3 839.6,640.0 840.2,640.9 840.8,642.0 841.4,635.2 842.0,638.5 842.6,637.1 843.2,642.3 843.8,643.7 844.4,640.1 845.0,645.7 845.6,648.8 846.2,643.5 846.8,638.1 847.4,645.0 848.0,646.2 848.6,643.2 849.2,648.4 849.8,651.1 850.4,651.9 851.0,656.3 851.6,652.6 852.2,650.6 852.8,652.4 853.4,651.9 854.0,653.7 854.6,652.0 855.2,651.9 855.8,666.4 856.4,666.3 857.0,656.6 857.6,659.6 858.2,656.1 858.8,657.6 859.4,659.4 860.0,656.6 860.6,655.9 861.2,663.1 861.8,666.2 862.4,663.5 863.0,664.1 863.6,659.5 864.2,661.9 864.8,663.4 865.4,671.4 866.0,670.3 866.6,667.5 867.2,671.5 867.8,673.3 868.4,669.0 869.0,664.5 869.6,666.0 870.2,669.2 870.8,666.4 871.4,663.4 872.0,673.4 872.6,676.2 873.2,671.3 873.8,669.2 874.4,671.3 875.0,672.6 875.6,674.5 876.2,672.3 876.8,677.5 877.4,681.5 878.0,684.2 878.6,683.7 879.2,680.7 879.8,685.2 880.4,683.0 881.0,684.9 881.6,680.9 882.2,681.5 882.8,684.8 883.4,684.0 884.0,687.4 884.6,688.6 885.2,685.4 885.8,687.8 886.4,692.5 887.0,696.0 887.6,698.0 888.2,697.2 888.8,693.1 889.4,692.0 890.0,696.3 890.6,697.4 891.2,695.1 891.8,693.9 892.4,695.9 893.0,699.1 893.6,699.4 894.2,698.6 894.8,701.5 895.4,702.5 896.0,704.7 896.6,705.6 897.2,708.2 897.8,706.3 898.4,704.4 899.0,706.9 899.6,699.6 900.2,697.3 900.8,696.6 901.4,704.1 902.0,708.3 902.6,709.7 903.2,709.0 903.8,710.0 904.4,710.2 905.0,708.6 905.6,713.2 906.2,720.9 906.8,715.9 907.4,714.3 908.0,717.5 908.6,713.7 909.2,706.2 909.8,710.2 910.4,718.0 911.0,717.4 911.6,718.1 912.2,720.5 912.8,720.7 913.4,715.6 914.0,717.3 914.6,716.5 915.2,724.0 915.8,728.1 916.4,726.2 917.0,723.0 917.6,720.2 918.2,720.8 918.8,723.0 919.4,723.7 920.0,726.1 920.6,727.7 921.2,725.1 921.8,723.6 922.4,727.4 923.0,727.7 923.6,725.2 924.2,727.0 924.8,727.2 925.4,728.6 926.0,730.2 926.6,729.7 927.2,729.0 927.8,728.6 928.4,729.7 929.0,731.7 929.6,729.2 930.2,741.9 930.8,745.3 931.4,737.1 932.0,731.6 932.6,733.7 933.2,742.5 933.8,739.1 934.4,738.6 935.0,736.9 935.6,744.1 936.2,751.2 936.8,748.3 937.4,743.7 938.0,743.2 938.6,744.2 939.2,743.7 939.8,743.4 940.4,744.6 941.0,743.8 941.6,748.5 942.2,749.0 942.8,745.8 943.4,751.0 944.0,750.5 944.6,748.2 945.2,748.5 945.8,745.0 946.4,748.6 947.0,752.8 947.6,751.0 948.2,748.7 948.8,752.0 949.4,749.4 950.0,749.4 950.6,752.6 951.2,752.1 951.8,753.3 952.4,752.1 953.0,754.1 953.6,755.7 954.2,754.3 954.8,751.0 955.4,754.5 956.0,751.8 956.6,752.3 957.2,761.1 957.8,762.6 958.4,754.4 959.0,752.3 959.6,764.0 960.2,762.0 960.8,751.4 961.4,750.5 962.0,755.2 962.6,764.1 963.2,761.9 963.8,754.5 964.4,752.4 965.0,757.4 965.6,757.8 966.2,756.8 966.8,760.0 967.4,761.0 968.0,762.1 968.6,762.4 969.2,764.4 969.8,763.1 970.4,761.6 971.0,768.8 971.6,764.1 972.2,758.9 972.8,757.7 973.4,760.3 974.0,764.0 974.6,761.3 975.2,765.2 975.8,766.3 976.4,769.1 977.0,765.9 977.6,764.4 978.2,769.6 978.8,767.1 979.4,762.6 980.0,763.4 980.6,767.3 981.2,762.8 981.8,764.3 982.4,764.3 983.0,765.0 983.6,770.4 984.2,774.9 984.8,770.2 985.4,767.2 986.0,770.7 986.6,772.4 987.2,770.6 987.8,768.9 988.4,769.3 989.0,769.0 989.6,771.9 990.2,767.0 990.8,770.6 991.4,775.4 992.0,775.3 992.6,779.1 993.2,774.8 993.8,776.2 994.4,782.6 995.0,779.3 995.6,772.1 996.2,772.4 996.8,776.7 997.4,780.9 998.0,781.0 998.6,778.3 999.2,782.2 999.8,778.9 1000.4,776.2 1001.0,779.8 1001.6,785.2 1002.2,781.3 1002.8,779.0 1003.4,783.1 1004.0,783.2 1004.6,779.5 1005.2,780.3 1005.8,782.2 1006.4,784.0 1007.0,784.3 1007.6,779.3 1008.2,782.1 1008.8,787.3 1009.4,782.2 1010.0,781.3 1010.6,783.6 1011.2,787.3 1011.8,786.4 1012.4,783.5 1013.0,786.3 1013.6,789.6 1014.2,789.2 1014.8,781.1 1015.4,784.9 1016.0,784.8 1016.6,783.9 1017.2,788.1 1017.8,788.7 1018.4,789.7 1019.0,796.0 1019.6,791.6 1020.2,787.6 1020.8,789.3 1021.4,790.4 1022.0,793.3 1022.6,792.2 1023.2,793.3 1023.8,791.5 1024.4,789.0 1025.0,791.3 1025.6,797.5 1026.2,796.9 1026.8,793.5 1027.4,792.2 1028.0,794.4 1028.6,795.2 1029.2,793.1 1029.8,795.1 1030.4,799.3 1031.0,799.9 1031.6,798.2 1032.2,799.0 1032.8,798.4 1033.4,797.7 1034.0,797.2 1034.6,798.9 1035.2,795.5 1035.8,795.0 1036.4,803.3 1037.0,804.2 1037.6,802.0 1038.2,801.9 1038.8,800.3 1039.4,798.2 1040.0,795.3 1040.6,801.0 1041.2,808.0 1041.8,803.6 1042.4,800.8 1043.0,802.9 1043.6,801.8 1044.2,805.2 1044.8,805.0 1045.4,801.9 1046.0,801.1 1046.6,802.7 1047.2,807.3 1047.8,803.8 1048.4,800.4 1049.0,804.9 1049.6,808.3 1050.2,805.5 1050.8,804.9 1051.4,810.7 1052.0,810.9 1052.6,807.8 1053.2,805.6 1053.8,808.5 1054.4,808.2 1055.0,807.7 1055.6,811.1 1056.2,809.5 1056.8,809.0 1057.4,806.3 1058.0,808.4 1058.6,807.6 1059.2,808.5 1059.8,811.7 1060.4,813.1 1061.0,810.1 1061.6,810.5 1062.2,812.3 1062.8,812.7 1063.4,811.5 1064.0,812.5 1064.6,809.0 1065.2,806.9 1065.8,811.9 1066.4,814.6 1067.0,815.9 1067.6,813.9 1068.2,813.1 1068.8,814.0 1069.4,812.2 1070.0,817.1 1070.6,816.5 1071.2,814.5 1071.8,812.4 1072.4,815.8 1073.0,821.1 1073.6,821.7 1074.2,814.7 1074.8,815.4 1075.4,819.4 1076.0,819.0 1076.6,819.3 1077.2,823.2 1077.8,819.7 1078.4,818.6 1079.0,824.7 1079.6,822.9 1080.2,818.0 1080.8,821.0 1081.4,819.9 1082.0,822.1 1082.6,823.8 1083.2,820.8 1083.8,819.3 1084.4,811.1 1085.0,810.8 1085.6,814.6 1086.2,817.1 1086.8,815.9 1087.4,823.4 1088.0,826.1 1088.6,824.7 1089.2,825.4 1089.8,822.1 1090.4,821.3 1091.0,818.9 1091.6,818.2 1092.2,820.9 1092.8,820.1 1093.4,823.0 1094.0,820.0 1094.6,825.2 1095.2,824.7 1095.8,824.6 1096.4,823.4 1097.0,821.2 1097.6,823.1 1098.2,824.3 1098.8,825.8 1099.4,825.6 1100.0,824.0 1100.6,823.1 1101.2,824.9 1101.8,820.6 1102.4,821.2 1103.0,827.4 1103.6,825.4 1104.2,827.8 1104.8,827.4 1105.4,813.1 1106.0,818.0 1106.6,825.9 1107.2,824.1 1107.8,822.1 1108.4,822.6 1109.0,823.7 1109.6,824.8 1110.2,822.7 1110.8,823.1 1111.4,829.1 1112.0,829.2 1112.6,826.6 1113.2,829.9 1113.8,829.8 1114.4,834.6 1115.0,832.2 1115.6,826.9 1116.2,826.8 1116.8,830.5 1117.4,829.9 1118.0,821.8 1118.6,823.6 1119.2,826.1 1119.8,830.2 1120.4,830.8 1121.0,828.3 1121.6,828.5 1122.2,826.3 1122.8,827.6 1123.4,828.2 1124.0,831.3 1124.6,837.9 1125.2,835.7 1125.8,835.1 1126.4,834.3 1127.0,826.6 1127.6,828.7 1128.2,829.0 1128.8,826.7 1129.4,831.1 1130.0,835.0 1130.6,831.5 1131.2,830.9 1131.8,840.7 1132.4,837.2 1133.0,835.3 1133.6,832.8 1134.2,829.0 1134.8,828.0 1135.4,832.8 1136.0,834.9 1136.6,832.2 1137.2,829.8 1137.8,833.4 1138.4,834.8 1139.0,834.2 1139.6,831.8 1140.2,837.6 1140.8,835.3 1141.4,832.3 1142.0,838.9 1142.6,837.1 1143.2,837.7 1143.8,840.4 1144.4,839.5 1145.0,835.4 1145.6,837.6 1146.2,839.1 1146.8,835.7 1147.4,836.3 1148.0,836.0 1148.6,837.5 1149.2,838.5 1149.8,836.7 1150.4,832.0 1151.0,834.3 1151.6,840.8 1152.2,838.6 1152.8,837.8 1153.4,844.7 1154.0,843.8 1154.6,838.5 1155.2,838.6 1155.8,837.9 1156.4,843.8 1157.0,844.3 1157.6,834.8 1158.2,838.5 1158.8,844.3 1159.4,847.1 1160.0,846.2 1160.6,846.1 1161.2,844.4 1161.8,847.2 1162.4,843.3 1163.0,838.5 1163.6,839.5 1164.2,843.4 1164.8,843.0 1165.4,845.4 1166.0,844.8 1166.6,844.4 1167.2,842.3 1167.8,839.6 1168.4,842.9 1169.0,844.1 1169.6,843.8 1170.2,843.9 1170.8,837.8 1171.4,839.0 1172.0,841.8 1172.6,838.4 1173.2,841.1 1173.8,840.5 1174.4,843.8 1175.0,846.2 1175.6,841.5 1176.2,841.3 1176.8,844.7 1177.4,848.7 1178.0,850.4 1178.6,847.9 1179.2,846.3 1179.8,845.4 1180.4,848.8 1181.0,850.6 1181.6,842.4 1182.2,844.1 1182.8,850.4 1183.4,847.3 1184.0,846.9 1184.6,851.0 1185.2,851.4 1185.8,848.5 1186.4,847.5 1187.0,849.9 1187.6,849.4 1188.2,847.8 1188.8,840.7 1189.4,839.0 1190.0,841.1 1190.6,849.1 1191.2,850.3 1191.8,846.1 1192.4,851.2 1193.0,854.1 1193.6,851.1 1194.2,852.7 1194.8,853.9 1195.4,850.2 1196.0,850.4 1196.6,846.2 1197.2,846.7 1197.8,850.2 1198.4,849.3 1199.0,848.9 1199.6,850.5 1200.2,850.4 1200.8,850.3 1201.4,850.1 1202.0,852.8 1202.6,852.2 1203.2,852.5 1203.8,850.8 1204.4,853.0 1205.0,854.0 1205.6,850.1 1206.2,850.9 1206.8,855.2 1207.4,851.8 1208.0,852.7 1208.6,856.1 1209.2,853.8 1209.8,850.3 1210.4,849.6 1211.0,852.3 1211.6,853.7 1212.2,853.3 1212.8,851.9 1213.4,853.3 1214.0,855.7 1214.6,852.8 1215.2,847.1 1215.8,854.0 1216.4,860.7 1217.0,856.1 1217.6,853.3 1218.2,855.5 1218.8,857.0 1219.4,853.2 1220.0,857.5 1220.6,857.5 1221.2,858.4 1221.8,858.9 1222.4,854.6 1223.0,853.4 1223.6,854.5 1224.2,854.2 1224.8,856.8 1225.4,867.4 1226.0,863.0 1226.6,857.5 1227.2,863.3 1227.8,863.0 1228.4,860.0 1229.0,857.4 1229.6,858.6 1230.2,861.2 1230.8,855.7 1231.4,853.9 1232.0,856.0 1232.6,857.0 1233.2,857.8 1233.8,860.1 1234.4,859.1 1235.0,857.4 1235.6,857.2 1236.2,858.6 1236.8,857.9 1237.4,859.6 1238.0,862.9 1238.6,863.2 1239.2,860.9 1239.8,854.8 1240.4,854.2 1241.0,855.6 1241.6,858.7 1242.2,860.1 1242.8,856.9 1243.4,859.8 1244.0,855.7 1244.6,858.7 1245.2,861.6 1245.8,857.3 1246.4,854.3 1247.0,859.9 1247.6,857.1 1248.2,854.2 1248.8,854.7 1249.4,855.5 1250.0,857.8 1250.6,859.1 1251.2,854.6 1251.8,859.5 1252.4,870.1 1253.0,865.8 1253.6,859.6 1254.2,863.7 1254.8,864.9 1255.4,862.4 1256.0,858.4 1256.6,861.4 1257.2,862.9 1257.8,857.8 1258.4,858.5 1259.0,860.6 1259.6,862.1 1260.2,859.7 1260.8,856.0 1261.4,852.7 1262.0,854.4 1262.6,859.8 1263.2,863.0 1263.8,860.0 1264.4,855.8 1265.0,859.2 1265.6,862.6 1266.2,859.9 1266.8,858.5 1267.4,861.1 1268.0,865.5 1268.6,866.0 1269.2,859.4 1269.8,858.1 1270.4,860.3 1271.0,861.2 1271.6,859.9 1272.2,863.4 1272.8,859.0 1273.4,858.0 1274.0,863.1 1274.6,865.9 1275.2,864.1 1275.8,863.7 1276.4,866.6 1277.0,867.4 1277.6,865.4 1278.2,869.9 1278.8,866.6 1279.4,862.5 1280.0,861.7 1280.6,862.9 1281.2,866.8 1281.8,866.7 1282.4,869.5 1283.0,865.0 1283.6,862.7 1284.2,861.4 1284.8,866.1 1285.4,869.5 1286.0,865.8 1286.6,867.3 1287.2,872.1 1287.8,868.1 1288.4,864.6 1289.0,864.8 1289.6,867.5 1290.2,868.8 1290.8,868.2 1291.4,865.1 1292.0,862.7 1292.6,860.8 1293.2,860.3 1293.8,865.1 1294.4,867.8 1295.0,869.9 1295.6,867.9 1296.2,875.4 1296.8,871.9 1297.4,864.8 1298.0,867.5 1298.6,868.8 1299.2,867.2 1299.8,871.3 1300.4,873.3 1301.0,866.6 1301.6,863.5 1302.2,866.6 1302.8,866.5 1303.4,864.7 1304.0,863.7 1304.6,860.4 1305.2,862.8 1305.8,861.6 1306.4,858.1 1307.0,856.9 1307.6,863.4 1308.2,867.2 1308.8,870.2 1309.4,872.6 1310.0,872.7 1310.6,868.2 1311.2,865.8 1311.8,866.4 1312.4,862.4 1313.0,865.8 1313.6,875.3 1314.2,870.7 1314.8,869.2 1315.4,865.6 1316.0,862.4 1316.6,866.2 1317.2,866.8 1317.8,865.2 1318.4,870.3 1319.0,867.8 1319.6,867.4 1320.2,868.7 1320.8,870.5 1321.4,870.5 1322.0,873.0 1322.6,871.0 1323.2,868.6 1323.8,873.8 1324.4,873.3 1325.0,871.2 1325.6,869.6 1326.2,870.6 1326.8,870.9 1327.4,870.1 1328.0,870.8 1328.6,868.6 1329.2,867.5 1329.8,871.0 1330.4,873.0 1331.0,875.2 1331.6,873.5 1332.2,874.0 1332.8,872.7 1333.4,875.4 1334.0,871.6 1334.6,870.0 1335.2,872.9 1335.8,874.7 1336.4,873.4 1337.0,873.6 1337.6,874.1 1338.2,873.3 1338.8,876.0 1339.4,874.1 1340.0,875.5 1340.6,876.7 1341.2,883.1 1341.8,877.7 1342.4,872.8 1343.0,876.5 1343.6,877.9 1344.2,877.1 1344.8,875.0 1345.4,876.6 1346.0,876.1 1346.6,872.3 1347.2,875.6 1347.8,875.8 1348.4,876.2 1349.0,876.9 1349.6,872.9 1350.2,871.3 1350.8,875.0 1351.4,878.8 1352.0,880.0 1352.6,876.0 1353.2,874.3 1353.8,875.2 1354.4,877.7 1355.0,879.4 1355.6,878.2 1356.2,876.2 1356.8,876.2 1357.4,874.7 1358.0,878.6 1358.6,886.7 1359.2,881.2 1359.8,878.5 1360.4,877.2 1361.0,879.2 1361.6,884.4 1362.2,878.0 1362.8,875.7 1363.4,877.8 1364.0,877.7 1364.6,875.2 1365.2,874.6 1365.8,875.5 1366.4,877.4 1367.0,878.9 1367.6,878.7 1368.2,876.1 1368.8,878.5 1369.4,881.2 1370.0,878.2 1370.6,872.5 1371.2,872.9 1371.8,878.1 1372.4,878.8 1373.0,879.6 1373.6,874.7 1374.2,877.6 1374.8,876.5 1375.4,876.8 1376.0,875.9 1376.6,876.1 1377.2,879.6 1377.8,879.0 1378.4,876.9 1379.0,874.8 1379.6,879.3 1380.2,882.5 1380.8,885.8 1381.4,879.9 1382.0,875.1 1382.6,879.0 1383.2,878.6 1383.8,877.1 1384.4,881.4 1385.0,879.7 1385.6,878.6 1386.2,877.9 1386.8,876.3 1387.4,876.1 1388.0,879.7 1388.6,876.2 1389.2,874.5 1389.8,875.7 1390.4,881.4 1391.0,882.6 1391.6,880.1 1392.2,881.0 1392.8,880.3 1393.4,877.2 1394.0,878.8 1394.6,882.1 1395.2,880.3 1395.8,878.9 1396.4,879.4 1397.0,881.6 1397.6,884.5 1398.2,883.4 1398.8,877.1 1399.4,874.8 1400.0,879.5 1400.6,879.1 1401.2,882.1 1401.8,879.2 1402.4,874.4 1403.0,878.3 1403.6,878.9 1404.2,878.4 1404.8,883.6 1405.4,882.0 1406.0,876.4 1406.6,884.3 1407.2,886.7 1407.8,875.8 1408.4,873.7 1409.0,880.1 1409.6,878.9 1410.2,876.7 1410.8,879.5 1411.4,877.8 1412.0,877.1 1412.6,879.0 1413.2,877.7 1413.8,878.5 1414.4,880.1 1415.0,881.2 1415.6,884.0 1416.2,873.1 1416.8,871.1 1417.4,876.7 1418.0,879.5 1418.6,881.0 1419.2,879.1 1419.8,875.4 1420.4,875.9 1421.0,876.4 1421.6,879.6 1422.2,888.7 1422.8,882.9 1423.4,877.6 1424.0,881.7 1424.6,880.7 1425.2,874.7 1425.8,877.0 1426.4,880.1 1427.0,875.8 1427.6,877.9 1428.2,882.0 1428.8,881.3 1429.4,882.8 1430.0,882.8 1430.6,877.5 1431.2,880.9 1431.8,873.9 1432.4,876.8 1433.0,880.6 1433.6,876.8 1434.2,881.4 1434.8,883.2 1435.4,882.0 1436.0,881.1 1436.6,879.0 1437.2,877.4 1437.8,876.2 1438.4,878.6 1439.0,878.7 1439.6,882.0 1440.2,881.7 1440.8,880.6 1441.4,879.3 1442.0,881.0 1442.6,884.1 1443.2,882.9 1443.8,884.6 1444.4,882.1 1445.0,878.8 1445.6,882.7 1446.2,884.7 1446.8,885.9 1447.4,880.9 1448.0,880.3 1448.6,883.1 1449.2,882.0 1449.8,885.7 1450.4,883.5 1451.0,882.6 1451.6,886.3 1452.2,882.5 1452.8,876.6 1453.4,878.1 1454.0,879.6 1454.6,882.9 1455.2,877.4 1455.8,872.0 1456.4,876.5 1457.0,881.2 1457.6,880.8 1458.2,885.2 1458.8,884.6 1459.4,879.3 1460.0,879.3 1460.6,881.0 1461.2,881.5 1461.8,882.2 1462.4,882.7 1463.0,878.0 1463.6,877.4 1464.2,877.6 1464.8,877.9 1465.4,878.0 1466.0,878.8 1466.6,883.2 1467.2,889.2 1467.8,889.3 1468.4,885.6 1469.0,880.9 1469.6,879.3 1470.2,879.8 1470.8,880.7 1471.4,880.5 1472.0,881.9 1472.6,882.6 1473.2,882.3 1473.8,883.6 1474.4,881.8 1475.0,881.1 1475.6,880.8 1476.2,879.6 1476.8,880.9 1477.4,881.3 1478.0,885.7 1478.6,883.1 1479.2,881.8 1479.8,881.8 1480.4,883.8 1481.0,884.6 1481.6,886.4 1482.2,879.9 1482.8,880.6 1483.4,884.7 1484.0,888.3 1484.6,884.4 1485.2,879.5 1485.8,881.1 1486.4,885.6 1487.0,885.9 1487.6,884.7 1488.2,883.5 1488.8,879.7 1489.4,881.2 1490.0,883.0 1490.6,883.1 1491.2,883.8 1491.8,884.6 1492.4,884.4 1493.0,880.0 1493.6,881.5 1494.2,883.8 1494.8,879.9 1495.4,879.6 1496.0,882.3 1496.6,883.0 1497.2,882.0 1497.8,881.3 1498.4,883.1 1499.0,881.2 1499.6,880.5 1500.2,879.9 1500.8,883.9 1501.4,885.2 1502.0,880.3 1502.6,882.2 1503.2,884.7 1503.8,882.8 1504.4,882.3 1505.0,883.6 1505.6,881.5 1506.2,879.3 1506.8,882.4 1507.4,882.9 1508.0,884.5 1508.6,887.4 1509.2,883.0 1509.8,881.7 1510.4,885.3 1511.0,881.3 1511.6,882.7 1512.2,883.1 1512.8,878.7 1513.4,880.1 1514.0,882.2 1514.6,882.7 1515.2,885.0 1515.8,883.7 1516.4,881.3 1517.0,879.4 1517.6,881.7 1518.2,880.7 1518.8,881.1 1519.4,882.0 1520.0,880.2 1520.6,881.5 1521.2,879.0 1521.8,880.7 1522.4,882.7 1523.0,879.7 1523.6,881.5 1524.2,885.1 1524.8,883.0 1525.4,879.2 1526.0,878.4 1526.6,879.6 1527.2,883.0 1527.8,883.4 1528.4,877.6 1529.0,883.4 1529.6,888.2 1530.2,879.8 1530.8,879.1 1531.4,884.3 1532.0,883.5 1532.6,882.2 1533.2,884.3 1533.8,884.7 1534.4,886.7 1535.0,887.4 1535.6,886.3 1536.2,884.6 1536.8,881.9 1537.4,882.8 1538.0,882.3 1538.6,883.1 1539.2,883.9 1539.8,883.7 1540.4,889.2 1541.0,886.8 1541.6,883.6 1542.2,882.5 1542.8,882.2 1543.4,882.9 1544.0,885.4 1544.6,884.6 1545.2,884.0 1545.8,886.4 1546.4,887.8 1547.0,886.1 1547.6,885.7 1548.2,882.2 1548.8,879.4 1549.4,880.2 1550.0,882.5 1550.6,883.5 1551.2,883.9 1551.8,889.2 1552.4,882.4 1553.0,878.2 1553.6,882.7 1554.2,882.0 1554.8,882.3 1555.4,880.6 1556.0,882.2 1556.6,882.4 1557.2,883.2 1557.8,884.8 1558.4,883.8 1559.0,883.1 1559.6,886.4 1560.2,882.7 1560.8,880.9 1561.4,883.6 1562.0,884.0 1562.6,885.2 1563.2,884.2 1563.8,883.9 1564.4,885.8 1565.0,883.9 1565.6,879.9 1566.2,882.5 1566.8,877.9 1567.4,872.0 1568.0,875.1 1568.6,884.4 1569.2,887.2 1569.8,886.6 1570.4,886.6 1571.0,886.8 1571.6,887.3 1572.2,888.8 1572.8,889.2 1573.4,884.2 1574.0,883.7 1574.6,886.0 1575.2,886.9 1575.8,886.0 1576.4,883.3 1577.0,883.2 1577.6,877.0 1578.2,880.1 1578.8,885.4 1579.4,881.2 1580.0,879.5 1580.6,880.2 1581.2,884.6 1581.8,888.5 1582.4,887.9 1583.0,889.2 1583.6,886.9 1584.2,886.0 1584.8,887.5 1585.4,892.1 1586.0,886.7 1586.6,881.3 1587.2,884.5 1587.8,884.1 1588.4,883.9 1589.0,883.1 1589.6,883.6 1590.2,883.6 1590.8,883.3 1591.4,894.7 1592.0,893.5 1592.6,890.4 1593.2,885.4 1593.8,885.6 1594.4,887.5 1595.0,883.2 1595.6,883.3 1596.2,884.0 1596.8,891.1 1597.4,888.4 1598.0,884.6 1598.6,888.3 1599.2,888.2 1599.8,885.0 1600.4,883.5 1601.0,885.8 1601.6,891.7 1602.2,889.7 1602.8,886.1 1603.4,888.3 1604.0,885.3 1604.6,882.9 1605.2,885.4 1605.8,884.7 1606.4,883.5 1607.0,884.7 1607.6,886.7 1608.2,886.1 1608.8,884.8 1609.4,888.8 1610.0,889.5 1610.6,886.9 1611.2,886.6 1611.8,887.7 1612.4,886.7 1613.0,887.8 1613.6,891.2 1614.2,892.2 1614.8,889.1 1615.4,884.5 1616.0,884.5 1616.6,887.4 1617.2,887.4 1617.8,891.4 1618.4,893.2 1619.0,891.0 1619.6,886.2 1620.2,885.1 1620.8,886.0 1621.4,883.1 1622.0,888.2 1622.6,889.5 1623.2,887.6 1623.8,889.2 1624.4,892.4 1625.0,893.4 1625.6,893.1 1626.2,893.2 1626.8,892.7 1627.4,890.1 1628.0,886.3 1628.6,888.3 1629.2,890.2 1629.8,890.6 1630.4,886.7 1631.0,886.7 1631.6,890.5 1632.2,889.6 1632.8,891.7 1633.4,890.0 1634.0,886.7 1634.6,886.7 1635.2,888.2 1635.8,889.2 1636.4,890.6 1637.0,891.4 1637.6,891.4 1638.2,887.8 1638.8,887.2 1639.4,890.0 1640.0,891.3 1640.6,891.9 1641.2,891.6 1641.8,890.5 1642.4,886.3 1643.0,888.2 1643.6,889.5 1644.2,889.1 1644.8,890.0 1645.4,891.3 1646.0,889.9 1646.6,886.9 1647.2,889.8 1647.8,891.8 1648.4,888.2 1649.0,888.5 1649.6,888.8 1650.2,885.9 1650.8,891.2 1651.4,891.2 1652.0,892.8 1652.6,893.5 1653.2,888.7 1653.8,890.0 1654.4,889.8 1655.0,887.9 1655.6,889.1 1656.2,887.5 1656.8,891.0 1657.4,892.3 1658.0,891.1 1658.6,892.4 1659.2,894.8 1659.8,889.5 1660.4,889.3"/>
</g>
<g stroke="#000" stroke-width="4.5" fill="none" stroke-linecap="butt">
<path d="M380.56,1178.1 v10.0 M380.56,39.9 v11.0 M498.38,1178.1 v20.7 M498.38,39.9 v20.7 M616.19,1178.1 v10.0 M616.19,39.9 v11.0 M734.00,1178.1 v20.7 M734.00,39.9 v20.7 M851.81,1178.1 v10.0 M851.81,39.9 v11.0 M969.62,1178.1 v20.7 M969.62,39.9 v20.7 M1087.44,1178.1 v10.0 M1087.44,39.9 v11.0 M1205.25,1178.1 v20.7 M1205.25,39.9 v20.7 M1323.06,1178.1 v10.0 M1323.06,39.9 v11.0 M1440.88,1178.1 v20.7 M1440.88,39.9 v20.7 M1558.69,1178.1 v10.0 M1558.69,39.9 v11.0 M262.75,1090.45 h-11.5 M1676.5,1090.45 h-11.5 M262.75,1002.80 h-23.0 M1676.5,1002.80 h-23.0 M262.75,915.15 h-11.5 M1676.5,915.15 h-11.5 M262.75,827.50 h-23.0 M1676.5,827.50 h-23.0 M262.75,739.85 h-11.5 M1676.5,739.85 h-11.5 M262.75,652.20 h-23.0 M1676.5,652.20 h-23.0 M262.75,564.55 h-11.5 M1676.5,564.55 h-11.5 M262.75,476.90 h-23.0 M1676.5,476.90 h-23.0 M262.75,389.25 h-11.5 M1676.5,389.25 h-11.5 M262.75,301.60 h-23.0 M1676.5,301.60 h-23.0 M262.75,213.95 h-11.5 M1676.5,213.95 h-11.5 M262.75,126.30 h-23.0 M1676.5,126.30 h-23.0"/>
</g>
<rect x="1272.3" y="42.0" width="306.3" height="303.5" fill="#fff" stroke="#000" stroke-width="1"/>
<g stroke="#000" stroke-width="4.5" fill="none">
<path d="M251.25,39.9 H1678.75 M239.75,1178.1 H1676.50 M262.75,39.9 V1198.80 M1676.5,37.65 V1198.80"/>
</g>
<path d="M1279.5,74.8 H1387" stroke="#000000" stroke-width="6.2" stroke-linecap="round"/>
<text transform="translate(1400.4,90.6) scale(1,1.035)" font-size="48.5">NiTi</text>
<path d="M1279.5,133.2 H1387" stroke="#FF0000" stroke-width="6.2" stroke-linecap="round"/>
<text transform="translate(1400.4,149.6) scale(1,1.035)" font-size="48.5">HF</text>
<path d="M1279.5,192.9 H1387" stroke="#FFC000" stroke-width="6.2" stroke-linecap="round"/>
<text transform="translate(1400.4,209.6) scale(1,1.035)" font-size="48.5">HF_470</text>
<path d="M1279.5,252.8 H1387" stroke="#00FF00" stroke-width="6.2" stroke-linecap="round"/>
<text transform="translate(1400.4,269.3) scale(1,1.035)" font-size="48.5">HF_590</text>
<path d="M1279.5,312.7 H1387" stroke="#4600FF" stroke-width="6.2" stroke-linecap="round"/>
<text transform="translate(1400.4,328.8) scale(1,1.035)" font-size="48.5">HF_610</text>
<text transform="translate(262.75,1252.8) scale(1,1.016)" font-size="48.5" text-anchor="middle">200</text>
<text transform="translate(498.38,1252.8) scale(1,1.016)" font-size="48.5" text-anchor="middle">400</text>
<text transform="translate(734.00,1252.8) scale(1,1.016)" font-size="48.5" text-anchor="middle">600</text>
<text transform="translate(969.62,1252.8) scale(1,1.016)" font-size="48.5" text-anchor="middle">800</text>
<text transform="translate(1205.25,1252.8) scale(1,1.016)" font-size="48.5" text-anchor="middle">1000</text>
<text transform="translate(1440.88,1252.8) scale(1,1.016)" font-size="48.5" text-anchor="middle">1200</text>
<text transform="translate(1676.50,1252.8) scale(1,1.016)" font-size="48.5" text-anchor="middle">1400</text>
<text transform="translate(225,1192.1) scale(1,1.016)" font-size="48.5" text-anchor="end">0</text>
<text transform="translate(223.3,1020.70) scale(1,1.016)" font-size="48.5" text-anchor="end">1×10<tspan font-size="30.8" dy="-20.3">4</tspan></text>
<text transform="translate(223.3,845.40) scale(1,1.016)" font-size="48.5" text-anchor="end">2×10<tspan font-size="30.8" dy="-20.3">4</tspan></text>
<text transform="translate(223.3,670.10) scale(1,1.016)" font-size="48.5" text-anchor="end">3×10<tspan font-size="30.8" dy="-20.3">4</tspan></text>
<text transform="translate(223.3,494.80) scale(1,1.016)" font-size="48.5" text-anchor="end">4×10<tspan font-size="30.8" dy="-20.3">4</tspan></text>
<text transform="translate(223.3,319.50) scale(1,1.016)" font-size="48.5" text-anchor="end">5×10<tspan font-size="30.8" dy="-20.3">4</tspan></text>
<text transform="translate(223.3,144.20) scale(1,1.016)" font-size="48.5" text-anchor="end">6×10<tspan font-size="30.8" dy="-20.3">4</tspan></text>
<text x="727.4" y="1351.4" font-size="58.5" letter-spacing="0.4">Raman shift [cm<tspan font-size="41" dy="-24.3">-1</tspan><tspan dy="24.3">]</tspan></text>
<text transform="translate(72.4,609.6) rotate(-90)" font-size="58.5" text-anchor="middle" letter-spacing="0.24">Rel. Intensity</text>
</svg></body></html>
